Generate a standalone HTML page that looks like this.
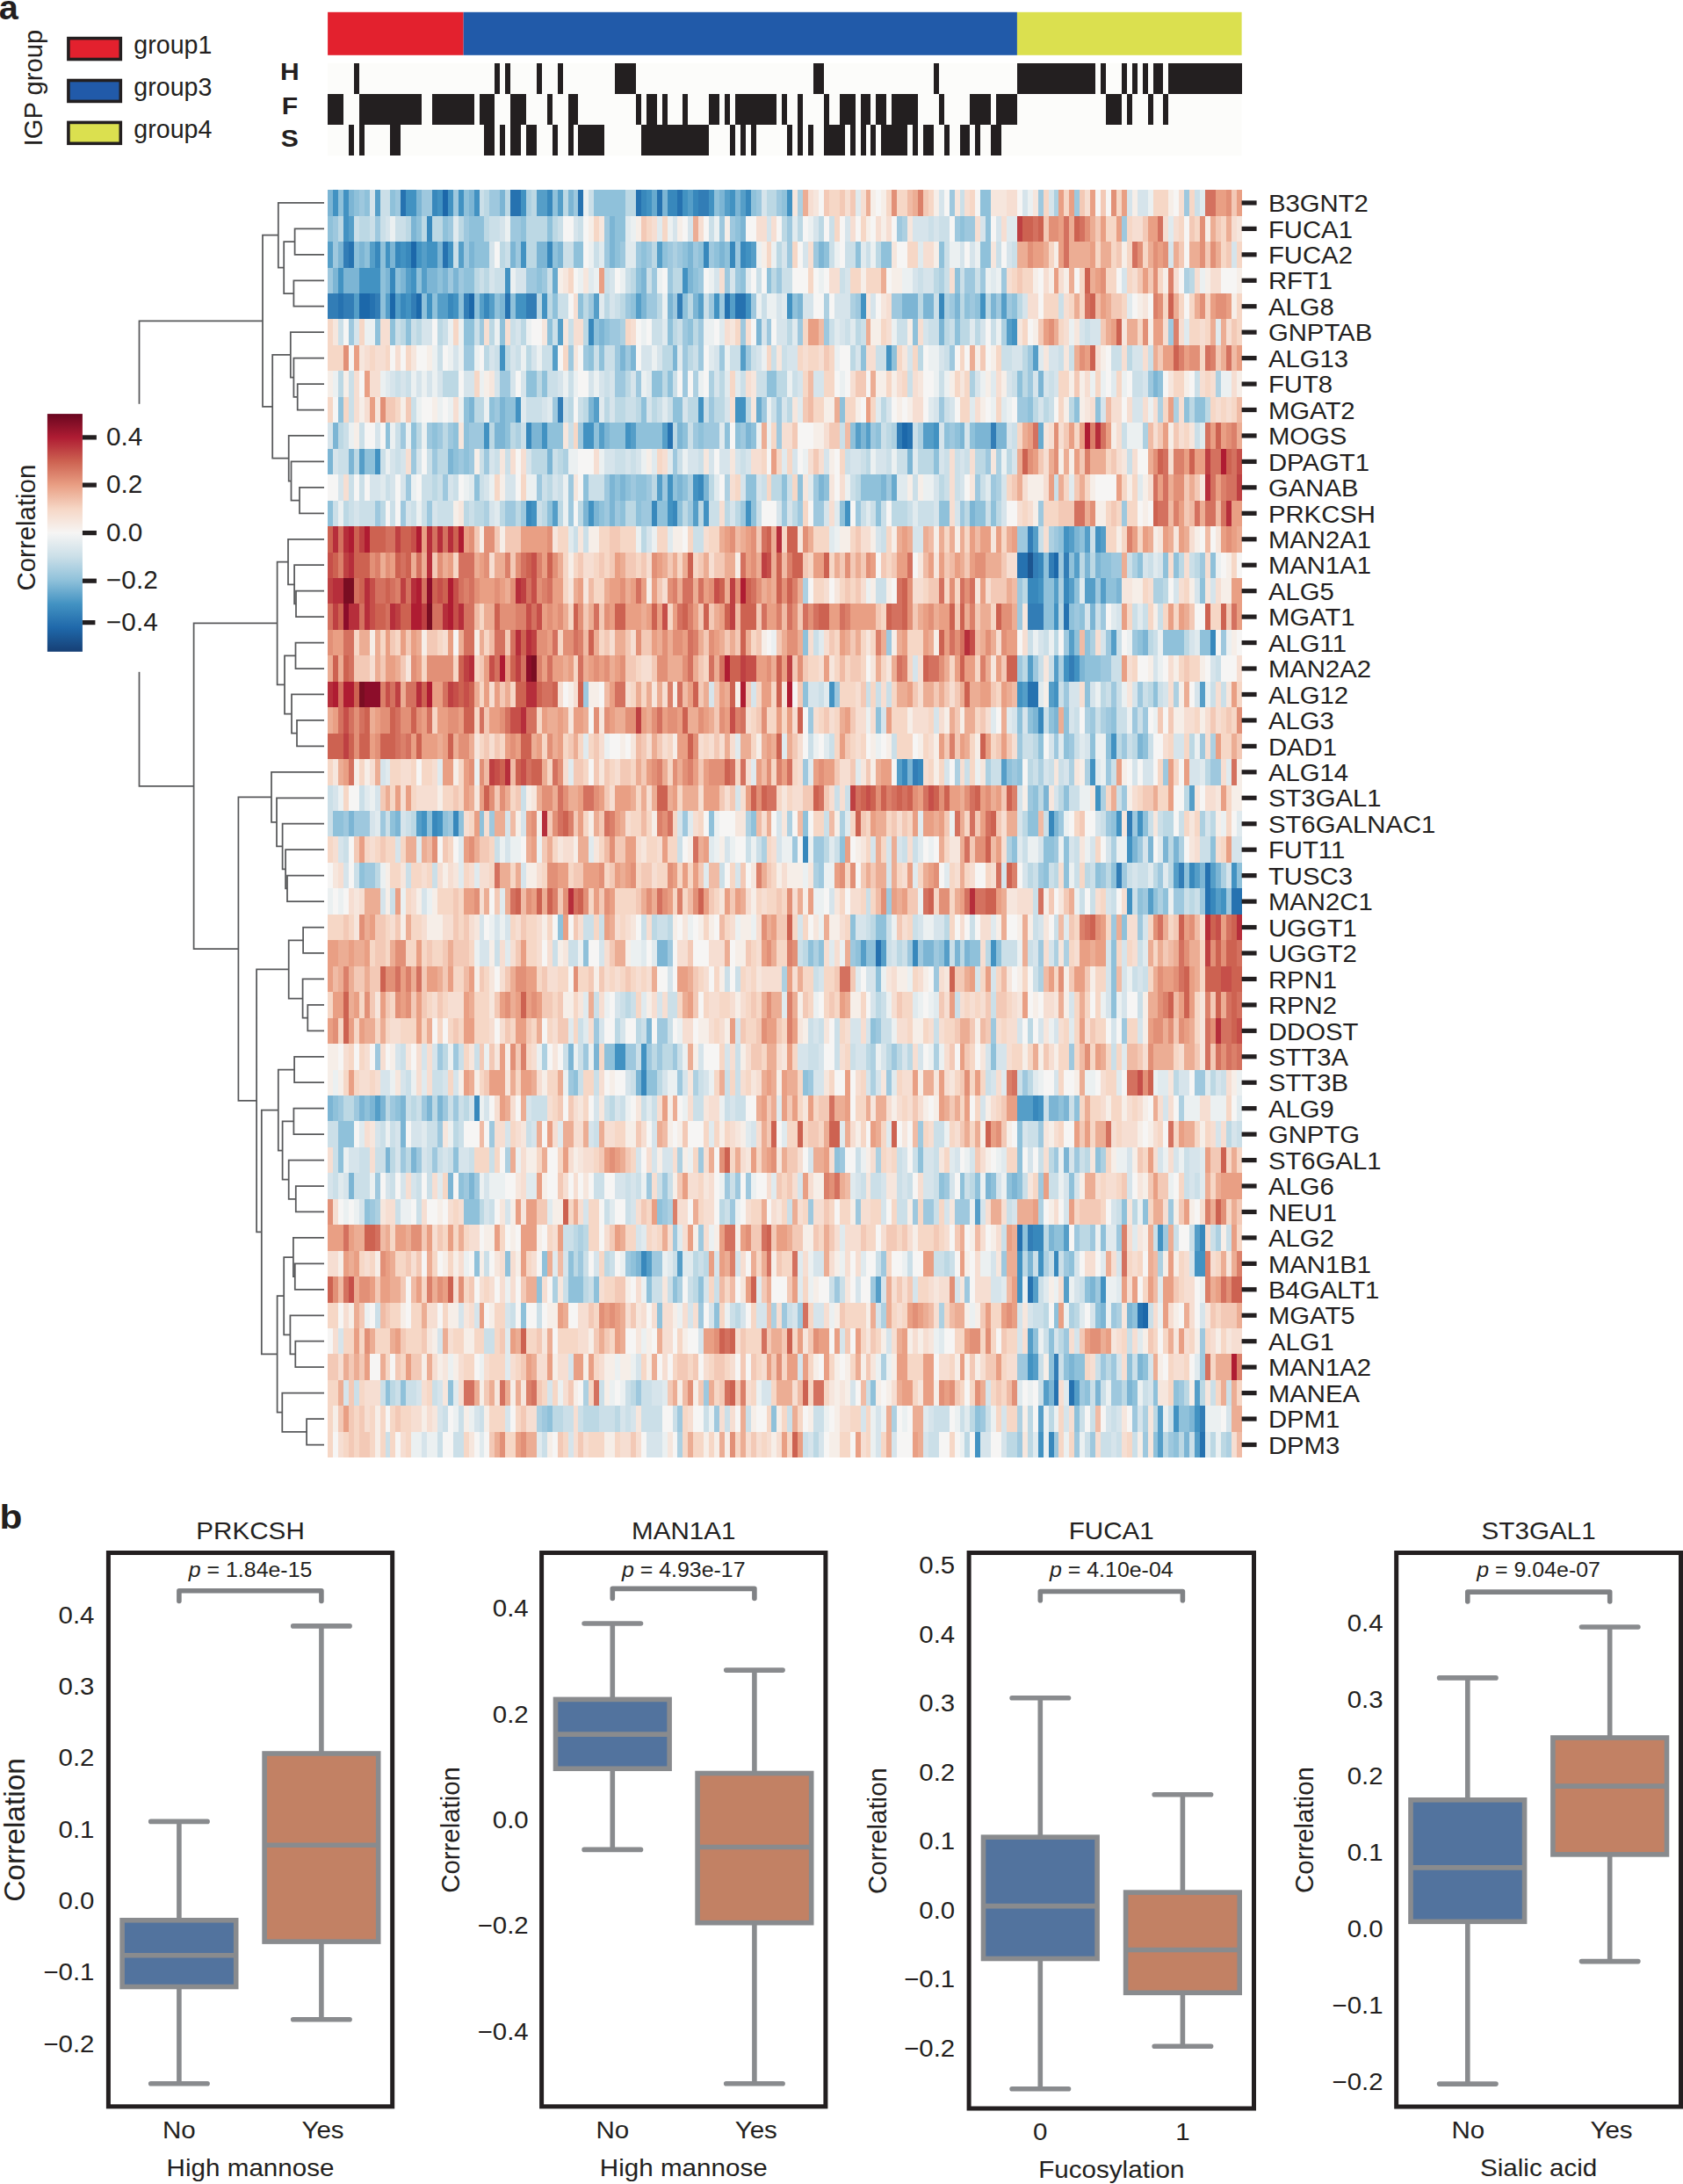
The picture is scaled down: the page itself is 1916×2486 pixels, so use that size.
<!DOCTYPE html>
<html><head><meta charset="utf-8"><title>Figure</title>
<style>html,body{margin:0;padding:0;background:#fff}svg{display:block}</style>
</head><body>
<svg width="1916" height="2486" viewBox="0 0 1916 2486" font-family="'Liberation Sans', sans-serif" fill="#231f20">
<rect width="1916" height="2486" fill="#fff"/>
<defs><filter id="hb" x="-1%" y="-1%" width="102%" height="102%"><feGaussianBlur stdDeviation="0.55"/></filter></defs>
<g filter="url(#hb)"><g transform="translate(373.1 216.2) scale(5.94571 29.45)" shape-rendering="crispEdges">
<path fill="#1a5490" d="M134 14h1v1h-1z"/>
<path fill="#1f68aa" d="M22 0h1v1h-1zM16 2h1v1h-1zM6 4h2v1h-2zM12 4h1v1h-1zM17 4h1v1h-1zM27 4h1v1h-1zM110 9h1v1h-1zM139 14h1v1h-1zM156 43h1v1h-1z"/>
<path fill="#2872b0" d="M14 0h1v1h-1zM35 0h2v1h-2zM48 0h1v1h-1zM59 0h1v1h-1zM63 0h1v1h-1zM67 0h1v1h-1zM4 2h1v1h-1zM22 2h1v1h-1zM2 4h1v1h-1zM8 4h1v1h-1zM34 4h1v1h-1zM76 4h1v1h-1zM78 4h2v1h-2zM65 9h1v1h-1zM111 9h1v1h-1zM132 14h2v1h-2zM141 16h1v1h-1zM134 19h2v1h-2zM168 26h1v1h-1zM168 27h1v1h-1zM173 27h2v1h-2zM105 29h1v1h-1zM132 40h1v1h-1zM134 42h1v1h-1zM155 43h1v1h-1zM139 46h1v1h-1zM142 46h1v1h-1zM167 48h1v1h-1z"/>
<path fill="#307db6" d="M71 0h2v1h-2zM3 2h1v1h-1zM0 4h2v1h-2zM3 4h2v1h-2zM9 4h1v1h-1zM16 4h1v1h-1zM26 4h1v1h-1zM38 4h2v1h-2zM67 4h1v1h-1zM44 8h1v1h-1zM109 9h1v1h-1zM127 9h1v1h-1zM134 13h1v1h-1zM135 14h1v1h-1zM138 14h1v1h-1zM141 14h1v1h-1zM134 16h3v1h-3zM142 18h1v1h-1zM112 22h1v1h-1zM153 24h1v1h-1zM151 26h1v1h-1zM163 26h1v1h-1zM134 40h1v1h-1zM139 45h1v1h-1zM167 47h1v1h-1z"/>
<path fill="#3988bc" d="M20 0h1v1h-1zM42 0h1v1h-1zM60 0h1v1h-1zM65 0h2v1h-2zM70 0h1v1h-1zM80 0h1v1h-1zM19 1h1v1h-1zM9 2h1v1h-1zM13 2h1v1h-1zM15 2h1v1h-1zM42 2h1v1h-1zM72 2h1v1h-1zM77 2h1v1h-1zM79 2h1v1h-1zM12 3h1v1h-1zM14 4h1v1h-1zM23 4h1v1h-1zM30 4h1v1h-1zM117 4h1v1h-1zM50 5h1v1h-1zM38 9h1v1h-1zM71 11h1v1h-1zM38 12h1v1h-1zM62 12h1v1h-1zM66 12h1v1h-1zM136 14h1v1h-1zM134 15h2v1h-2zM141 15h1v1h-1zM169 17h1v1h-1zM136 20h1v1h-1zM110 22h1v1h-1zM113 22h1v1h-1zM20 24h1v1h-1zM24 24h1v1h-1zM138 24h1v1h-1zM91 25h1v1h-1zM165 26h1v1h-1zM169 27h1v1h-1zM112 29h1v1h-1zM60 34h1v1h-1zM28 35h1v1h-1zM135 35h1v1h-1zM135 40h2v1h-2zM167 40h1v1h-1zM60 41h1v1h-1zM139 41h1v1h-1zM138 48h1v1h-1z"/>
<path fill="#4292c2" d="M1 0h1v1h-1zM3 0h1v1h-1zM15 0h2v1h-2zM21 0h1v1h-1zM23 0h1v1h-1zM25 0h1v1h-1zM28 0h1v1h-1zM37 0h1v1h-1zM61 0h1v1h-1zM68 0h1v1h-1zM73 0h1v1h-1zM77 0h1v1h-1zM88 0h1v1h-1zM3 1h1v1h-1zM11 2h1v1h-1zM14 2h1v1h-1zM17 2h1v1h-1zM19 2h2v1h-2zM23 2h1v1h-1zM37 2h1v1h-1zM80 2h1v1h-1zM2 3h1v1h-1zM6 3h4v1h-4zM16 3h1v1h-1zM34 3h1v1h-1zM68 3h1v1h-1zM15 4h1v1h-1zM19 4h1v1h-1zM24 4h1v1h-1zM36 4h2v1h-2zM41 4h1v1h-1zM74 4h1v1h-1zM80 4h1v1h-1zM88 4h1v1h-1zM102 4h1v1h-1zM125 4h1v1h-1zM131 5h1v1h-1zM33 6h1v1h-1zM107 6h1v1h-1zM36 8h1v1h-1zM71 8h1v1h-1zM78 8h2v1h-2zM30 9h1v1h-1zM41 9h1v1h-1zM49 9h2v1h-2zM57 9h1v1h-1zM116 9h1v1h-1zM9 10h1v1h-1zM65 11h1v1h-1zM70 11h1v1h-1zM39 12h1v1h-1zM50 12h1v1h-1zM65 12h1v1h-1zM72 12h1v1h-1zM80 12h1v1h-1zM99 12h1v1h-1zM141 13h1v1h-1zM147 13h1v1h-1zM136 15h1v1h-1zM139 16h1v1h-1zM141 18h1v1h-1zM143 18h1v1h-1zM96 19h1v1h-1zM132 19h1v1h-1zM139 19h1v1h-1zM150 21h1v1h-1zM146 22h1v1h-1zM147 23h1v1h-1zM18 24h1v1h-1zM21 24h1v1h-1zM151 24h1v1h-1zM155 24h1v1h-1zM153 25h1v1h-1zM173 26h1v1h-1zM153 27h1v1h-1zM171 27h1v1h-1zM127 29h1v1h-1zM55 33h2v1h-2zM60 33h1v1h-1zM136 35h1v1h-1zM159 40h1v1h-1zM132 41h1v1h-1zM136 41h1v1h-1zM166 41h2v1h-2zM132 42h1v1h-1zM148 42h1v1h-1zM134 45h1v1h-1zM162 47h1v1h-1zM166 47h1v1h-1zM124 48h1v1h-1zM136 48h1v1h-1z"/>
<path fill="#559ec8" d="M9 0h1v1h-1zM40 0h2v1h-2zM44 0h1v1h-1zM69 0h1v1h-1zM76 0h1v1h-1zM79 0h1v1h-1zM4 1h1v1h-1zM0 2h1v1h-1zM8 2h1v1h-1zM18 2h1v1h-1zM25 2h1v1h-1zM63 2h1v1h-1zM81 2h1v1h-1zM15 3h1v1h-1zM18 3h1v1h-1zM5 4h1v1h-1zM11 4h1v1h-1zM13 4h1v1h-1zM21 4h2v1h-2zM29 4h1v1h-1zM31 4h1v1h-1zM51 4h1v1h-1zM59 4h1v1h-1zM71 4h1v1h-1zM77 4h1v1h-1zM129 4h1v1h-1zM44 5h1v1h-1zM130 5h1v1h-1zM43 6h1v1h-1zM79 6h1v1h-1zM135 6h1v1h-1zM51 8h1v1h-1zM52 9h1v1h-1zM58 9h1v1h-1zM64 9h1v1h-1zM101 9h1v1h-1zM103 9h1v1h-1zM114 9h2v1h-2zM6 10h1v1h-1zM63 11h1v1h-1zM43 12h1v1h-1zM70 12h1v1h-1zM135 13h1v1h-1zM142 13h1v1h-1zM145 13h1v1h-1zM148 13h1v1h-1zM143 14h1v1h-1zM139 15h1v1h-1zM142 15h1v1h-1zM145 15h2v1h-2zM148 15h1v1h-1zM142 17h1v1h-1zM150 17h1v1h-1zM134 18h1v1h-1zM139 18h1v1h-1zM133 19h1v1h-1zM138 19h1v1h-1zM167 19h1v1h-1zM109 22h1v1h-1zM129 22h1v1h-1zM165 23h1v1h-1zM17 24h1v1h-1zM162 26h1v1h-1zM166 26h1v1h-1zM169 26h1v1h-1zM157 27h1v1h-1zM170 27h1v1h-1zM102 29h1v1h-1zM106 29h1v1h-1zM118 29h1v1h-1zM9 35h1v1h-1zM132 35h3v1h-3zM124 39h1v1h-1zM141 40h1v1h-1zM166 40h1v1h-1zM61 41h1v1h-1zM67 41h1v1h-1zM105 42h1v1h-1zM135 42h1v1h-1zM141 42h1v1h-1zM134 44h1v1h-1zM135 45h1v1h-1zM137 46h1v1h-1zM143 46h1v1h-1zM166 46h1v1h-1zM136 47h1v1h-1zM159 47h1v1h-1zM159 48h1v1h-1zM166 48h1v1h-1z"/>
<path fill="#68aace" d="M62 0h1v1h-1zM43 3h1v1h-1zM82 8h1v1h-1zM136 9h1v1h-1zM108 11h1v1h-1z"/>
<path fill="#7cb5d4" d="M0 0h1v1h-1zM4 0h1v1h-1zM17 0h1v1h-1zM27 0h1v1h-1zM33 0h1v1h-1zM46 0h1v1h-1zM64 0h1v1h-1zM75 0h1v1h-1zM78 0h1v1h-1zM16 1h1v1h-1zM54 1h1v1h-1zM79 1h1v1h-1zM2 2h1v1h-1zM6 2h1v1h-1zM12 2h1v1h-1zM21 2h1v1h-1zM27 2h1v1h-1zM35 2h1v1h-1zM40 2h2v1h-2zM44 2h1v1h-1zM54 2h1v1h-1zM69 2h1v1h-1zM75 2h1v1h-1zM94 2h1v1h-1zM1 3h1v1h-1zM3 3h3v1h-3zM11 3h1v1h-1zM14 3h1v1h-1zM19 3h2v1h-2zM22 3h1v1h-1zM24 3h1v1h-1zM60 3h1v1h-1zM69 3h1v1h-1zM33 4h1v1h-1zM60 4h1v1h-1zM65 4h1v1h-1zM70 4h1v1h-1zM90 4h1v1h-1zM110 4h3v1h-3zM114 4h2v1h-2zM120 4h1v1h-1zM127 4h1v1h-1zM52 5h1v1h-1zM82 5h1v1h-1zM117 5h1v1h-1zM56 6h1v1h-1zM58 6h1v1h-1zM66 6h1v1h-1zM136 7h1v1h-1zM158 7h1v1h-1zM27 8h1v1h-1zM33 8h1v1h-1zM50 8h1v1h-1zM1 9h1v1h-1zM32 9h2v1h-2zM39 9h2v1h-2zM53 9h1v1h-1zM67 9h1v1h-1zM80 9h1v1h-1zM102 9h1v1h-1zM121 9h1v1h-1zM124 9h3v1h-3zM128 9h2v1h-2zM0 10h1v1h-1zM4 10h1v1h-1zM23 10h1v1h-1zM42 10h1v1h-1zM111 10h1v1h-1zM54 11h1v1h-1zM56 11h1v1h-1zM67 11h1v1h-1zM72 11h1v1h-1zM94 11h1v1h-1zM106 11h1v1h-1zM49 12h1v1h-1zM51 12h1v1h-1zM54 12h1v1h-1zM123 12h1v1h-1zM143 13h1v1h-1zM145 14h1v1h-1zM147 14h1v1h-1zM151 15h1v1h-1zM146 16h1v1h-1zM156 17h1v1h-1zM144 18h1v1h-1zM135 20h1v1h-1zM139 20h1v1h-1zM155 21h1v1h-1zM111 22h1v1h-1zM137 23h1v1h-1zM4 24h1v1h-1zM13 24h1v1h-1zM139 24h1v1h-1zM154 25h1v1h-1zM157 25h1v1h-1zM160 25h1v1h-1zM162 25h1v1h-1zM167 26h1v1h-1zM170 26h1v1h-1zM63 29h2v1h-2zM114 29h2v1h-2zM120 29h1v1h-1zM122 29h1v1h-1zM61 32h1v1h-1zM46 33h1v1h-1zM51 33h1v1h-1zM59 34h1v1h-1zM0 35h1v1h-1zM6 35h1v1h-1zM8 35h1v1h-1zM10 35h1v1h-1zM14 35h1v1h-1zM19 35h1v1h-1zM21 35h1v1h-1zM138 35h2v1h-2zM141 35h1v1h-1zM14 36h1v1h-1zM11 37h1v1h-1zM16 37h1v1h-1zM141 37h1v1h-1zM4 38h1v1h-1zM23 38h1v1h-1zM27 38h1v1h-1zM126 38h1v1h-1zM131 38h1v1h-1zM138 40h1v1h-1zM59 41h1v1h-1zM134 41h1v1h-1zM146 42h1v1h-1zM148 43h1v1h-1zM153 43h1v1h-1zM142 45h1v1h-1zM155 45h1v1h-1zM138 46h1v1h-1zM147 46h1v1h-1zM153 46h1v1h-1zM165 47h1v1h-1zM164 48h1v1h-1z"/>
<path fill="#8fc1da" d="M2 0h1v1h-1zM5 0h1v1h-1zM7 0h1v1h-1zM12 0h1v1h-1zM26 0h1v1h-1zM43 0h1v1h-1zM51 0h6v1h-6zM74 0h1v1h-1zM81 0h1v1h-1zM87 0h1v1h-1zM125 0h2v1h-2zM0 1h1v1h-1zM17 1h1v1h-1zM22 1h1v1h-1zM27 1h3v1h-3zM37 1h1v1h-1zM42 1h1v1h-1zM55 1h2v1h-2zM78 1h1v1h-1zM121 1h1v1h-1zM126 1h1v1h-1zM5 2h1v1h-1zM7 2h1v1h-1zM10 2h1v1h-1zM28 2h3v1h-3zM43 2h1v1h-1zM47 2h2v1h-2zM55 2h1v1h-1zM60 2h1v1h-1zM64 2h1v1h-1zM68 2h1v1h-1zM71 2h1v1h-1zM74 2h1v1h-1zM76 2h1v1h-1zM95 2h1v1h-1zM101 2h1v1h-1zM106 2h2v1h-2zM117 2h1v1h-1zM125 2h2v1h-2zM10 3h1v1h-1zM13 3h1v1h-1zM17 3h1v1h-1zM21 3h1v1h-1zM26 3h2v1h-2zM40 3h1v1h-1zM59 3h1v1h-1zM70 3h1v1h-1zM79 3h1v1h-1zM84 3h1v1h-1zM120 3h1v1h-1zM10 4h1v1h-1zM18 4h1v1h-1zM20 4h1v1h-1zM25 4h1v1h-1zM28 4h1v1h-1zM32 4h1v1h-1zM35 4h1v1h-1zM43 4h1v1h-1zM48 4h1v1h-1zM58 4h1v1h-1zM68 4h1v1h-1zM89 4h1v1h-1zM122 4h1v1h-1zM124 4h1v1h-1zM131 4h1v1h-1zM9 5h1v1h-1zM12 5h1v1h-1zM15 5h1v1h-1zM26 5h2v1h-2zM33 5h1v1h-1zM42 5h1v1h-1zM51 5h1v1h-1zM53 5h1v1h-1zM65 5h1v1h-1zM69 5h1v1h-1zM112 5h1v1h-1zM120 5h1v1h-1zM50 6h1v1h-1zM52 6h1v1h-1zM102 6h1v1h-1zM108 6h1v1h-1zM38 7h2v1h-2zM41 7h1v1h-1zM62 7h2v1h-2zM65 7h1v1h-1zM84 7h2v1h-2zM132 7h1v1h-1zM159 7h1v1h-1zM2 8h1v1h-1zM26 8h1v1h-1zM31 8h1v1h-1zM34 8h2v1h-2zM60 8h1v1h-1zM66 8h2v1h-2zM98 8h1v1h-1zM134 8h1v1h-1zM143 8h1v1h-1zM147 8h1v1h-1zM164 8h1v1h-1zM166 8h2v1h-2zM11 9h1v1h-1zM16 9h1v1h-1zM20 9h1v1h-1zM24 9h1v1h-1zM26 9h1v1h-1zM34 9h1v1h-1zM42 9h3v1h-3zM51 9h1v1h-1zM54 9h3v1h-3zM59 9h5v1h-5zM68 9h1v1h-1zM71 9h1v1h-1zM76 9h1v1h-1zM78 9h1v1h-1zM81 9h1v1h-1zM100 9h1v1h-1zM105 9h1v1h-1zM118 9h1v1h-1zM120 9h1v1h-1zM123 9h1v1h-1zM7 10h2v1h-2zM24 10h1v1h-1zM26 10h1v1h-1zM116 10h1v1h-1zM28 11h1v1h-1zM49 11h1v1h-1zM55 11h1v1h-1zM57 11h1v1h-1zM59 11h2v1h-2zM66 11h1v1h-1zM68 11h1v1h-1zM80 11h2v1h-2zM87 11h1v1h-1zM90 11h1v1h-1zM95 11h1v1h-1zM102 11h4v1h-4zM0 12h1v1h-1zM42 12h1v1h-1zM52 12h1v1h-1zM56 12h1v1h-1zM59 12h1v1h-1zM63 12h2v1h-2zM67 12h1v1h-1zM81 12h1v1h-1zM98 12h1v1h-1zM105 12h1v1h-1zM117 12h2v1h-2zM124 12h2v1h-2zM127 12h1v1h-1zM140 13h1v1h-1zM144 13h1v1h-1zM137 14h1v1h-1zM142 14h1v1h-1zM148 14h2v1h-2zM155 14h1v1h-1zM160 14h1v1h-1zM162 14h1v1h-1zM169 14h1v1h-1zM137 15h2v1h-2zM143 15h1v1h-1zM149 15h2v1h-2zM167 15h1v1h-1zM137 16h2v1h-2zM142 16h1v1h-1zM144 16h1v1h-1zM91 17h1v1h-1zM143 17h1v1h-1zM145 17h1v1h-1zM155 17h1v1h-1zM160 17h4v1h-4zM167 17h2v1h-2zM145 18h3v1h-3zM91 19h1v1h-1zM145 19h1v1h-1zM158 19h1v1h-1zM105 20h1v1h-1zM132 20h1v1h-1zM134 20h1v1h-1zM138 20h1v1h-1zM141 20h1v1h-1zM150 20h1v1h-1zM136 21h1v1h-1zM141 21h1v1h-1zM146 21h1v1h-1zM149 21h1v1h-1zM156 21h1v1h-1zM130 22h1v1h-1zM132 22h1v1h-1zM135 23h1v1h-1zM141 23h1v1h-1zM1 24h2v1h-2zM12 24h1v1h-1zM19 24h1v1h-1zM22 24h1v1h-1zM25 24h1v1h-1zM29 24h1v1h-1zM73 24h1v1h-1zM81 24h1v1h-1zM91 24h1v1h-1zM134 24h2v1h-2zM150 24h1v1h-1zM156 24h1v1h-1zM98 25h1v1h-1zM131 25h1v1h-1zM137 25h2v1h-2zM141 25h1v1h-1zM169 25h1v1h-1zM6 26h1v1h-1zM137 26h1v1h-1zM141 26h1v1h-1zM147 26h1v1h-1zM150 26h1v1h-1zM164 26h1v1h-1zM174 26h1v1h-1zM155 27h1v1h-1zM158 27h1v1h-1zM160 27h1v1h-1zM44 28h1v1h-1zM100 28h1v1h-1zM105 28h2v1h-2zM152 28h1v1h-1zM49 29h1v1h-1zM92 29h1v1h-1zM94 29h1v1h-1zM101 29h1v1h-1zM103 29h2v1h-2zM117 29h1v1h-1zM123 29h2v1h-2zM128 29h1v1h-1zM150 29h1v1h-1zM105 30h1v1h-1zM150 30h1v1h-1zM150 31h1v1h-1zM104 32h1v1h-1zM53 33h2v1h-2zM127 33h1v1h-1zM47 34h1v1h-1zM61 34h2v1h-2zM91 34h1v1h-1zM1 35h1v1h-1zM7 35h1v1h-1zM13 35h1v1h-1zM140 35h1v1h-1zM143 35h1v1h-1zM2 36h3v1h-3zM132 36h1v1h-1zM2 37h1v1h-1zM24 37h1v1h-1zM97 37h1v1h-1zM113 37h1v1h-1zM132 37h1v1h-1zM147 37h1v1h-1zM25 38h1v1h-1zM117 38h1v1h-1zM121 38h1v1h-1zM124 38h1v1h-1zM127 38h1v1h-1zM130 38h1v1h-1zM132 38h1v1h-1zM142 38h1v1h-1zM7 39h1v1h-1zM26 39h3v1h-3zM63 39h1v1h-1zM152 39h1v1h-1zM156 39h1v1h-1zM133 40h1v1h-1zM139 40h2v1h-2zM148 40h1v1h-1zM28 41h1v1h-1zM34 41h1v1h-1zM41 41h1v1h-1zM46 41h1v1h-1zM58 41h1v1h-1zM142 41h1v1h-1zM40 42h1v1h-1zM46 42h3v1h-3zM51 42h1v1h-1zM61 42h1v1h-1zM66 42h1v1h-1zM71 42h1v1h-1zM145 42h1v1h-1zM37 43h1v1h-1zM63 43h1v1h-1zM74 43h1v1h-1zM139 43h1v1h-1zM147 43h1v1h-1zM154 43h1v1h-1zM135 44h1v1h-1zM138 44h1v1h-1zM138 45h1v1h-1zM141 45h1v1h-1zM143 45h2v1h-2zM153 45h1v1h-1zM156 45h1v1h-1zM11 46h1v1h-1zM14 46h1v1h-1zM23 46h1v1h-1zM104 46h1v1h-1zM145 46h1v1h-1zM154 46h1v1h-1zM158 46h1v1h-1zM162 46h1v1h-1zM42 47h1v1h-1zM85 47h1v1h-1zM124 47h1v1h-1zM143 47h1v1h-1zM163 47h2v1h-2zM158 48h1v1h-1zM162 48h1v1h-1z"/>
<path fill="#9ec8de" d="M6 0h1v1h-1zM13 0h1v1h-1zM18 0h2v1h-2zM24 0h1v1h-1zM31 0h2v1h-2zM47 0h1v1h-1zM82 0h1v1h-1zM86 0h1v1h-1zM119 0h1v1h-1zM136 0h1v1h-1zM143 0h1v1h-1zM164 0h1v1h-1zM1 1h1v1h-1zM9 1h1v1h-1zM23 1h1v1h-1zM26 1h1v1h-1zM35 1h2v1h-2zM53 1h1v1h-1zM75 1h1v1h-1zM77 1h1v1h-1zM88 1h1v1h-1zM109 1h1v1h-1zM120 1h1v1h-1zM122 1h2v1h-2zM152 1h1v1h-1zM1 2h1v1h-1zM26 2h1v1h-1zM36 2h1v1h-1zM53 2h1v1h-1zM56 2h1v1h-1zM59 2h1v1h-1zM61 2h1v1h-1zM65 2h1v1h-1zM67 2h1v1h-1zM70 2h1v1h-1zM73 2h1v1h-1zM78 2h1v1h-1zM88 2h1v1h-1zM93 2h1v1h-1zM0 3h1v1h-1zM23 3h1v1h-1zM25 3h1v1h-1zM38 3h2v1h-2zM41 3h1v1h-1zM62 3h1v1h-1zM65 3h1v1h-1zM71 3h1v1h-1zM76 3h1v1h-1zM78 3h1v1h-1zM86 3h1v1h-1zM122 3h2v1h-2zM125 3h1v1h-1zM129 3h1v1h-1zM50 4h1v1h-1zM57 4h1v1h-1zM61 4h2v1h-2zM66 4h1v1h-1zM73 4h1v1h-1zM75 4h1v1h-1zM81 4h1v1h-1zM101 4h1v1h-1zM108 4h2v1h-2zM119 4h1v1h-1zM123 4h1v1h-1zM128 4h1v1h-1zM130 4h1v1h-1zM4 5h1v1h-1zM29 5h1v1h-1zM54 5h2v1h-2zM68 5h1v1h-1zM71 5h1v1h-1zM79 5h1v1h-1zM84 5h1v1h-1zM90 5h1v1h-1zM95 5h1v1h-1zM161 5h1v1h-1zM26 6h2v1h-2zM46 6h1v1h-1zM49 6h1v1h-1zM55 6h1v1h-1zM57 6h1v1h-1zM68 6h1v1h-1zM71 6h1v1h-1zM75 6h1v1h-1zM80 6h1v1h-1zM119 6h1v1h-1zM134 6h1v1h-1zM33 7h2v1h-2zM55 7h2v1h-2zM59 7h1v1h-1zM68 7h1v1h-1zM134 7h1v1h-1zM157 7h1v1h-1zM32 8h1v1h-1zM43 8h1v1h-1zM73 8h1v1h-1zM83 8h1v1h-1zM86 8h1v1h-1zM117 8h1v1h-1zM132 8h2v1h-2zM14 9h1v1h-1zM19 9h1v1h-1zM21 9h1v1h-1zM23 9h1v1h-1zM27 9h3v1h-3zM48 9h1v1h-1zM70 9h1v1h-1zM72 9h3v1h-3zM79 9h1v1h-1zM86 9h1v1h-1zM104 9h1v1h-1zM119 9h1v1h-1zM16 10h1v1h-1zM20 10h1v1h-1zM25 10h1v1h-1zM27 10h1v1h-1zM30 10h1v1h-1zM66 10h1v1h-1zM126 10h1v1h-1zM15 11h1v1h-1zM22 11h1v1h-1zM40 11h1v1h-1zM46 11h1v1h-1zM53 11h1v1h-1zM58 11h1v1h-1zM61 11h1v1h-1zM64 11h1v1h-1zM93 11h1v1h-1zM107 11h1v1h-1zM124 11h1v1h-1zM127 11h1v1h-1zM9 12h1v1h-1zM14 12h1v1h-1zM19 12h1v1h-1zM34 12h2v1h-2zM37 12h1v1h-1zM46 12h1v1h-1zM53 12h1v1h-1zM55 12h1v1h-1zM60 12h2v1h-2zM69 12h1v1h-1zM79 12h1v1h-1zM87 12h1v1h-1zM90 12h1v1h-1zM93 12h2v1h-2zM101 12h1v1h-1zM121 12h1v1h-1zM136 12h1v1h-1zM152 12h1v1h-1zM132 13h2v1h-2zM139 13h1v1h-1zM140 14h1v1h-1zM150 14h2v1h-2zM167 14h1v1h-1zM132 15h1v1h-1zM147 15h1v1h-1zM132 16h1v1h-1zM143 16h1v1h-1zM148 16h1v1h-1zM107 17h1v1h-1zM141 17h1v1h-1zM149 17h1v1h-1zM154 17h1v1h-1zM171 17h1v1h-1zM132 18h1v1h-1zM135 18h1v1h-1zM148 18h2v1h-2zM49 19h1v1h-1zM97 19h1v1h-1zM141 19h1v1h-1zM150 19h1v1h-1zM155 19h1v1h-1zM92 20h1v1h-1zM146 20h1v1h-1zM149 20h1v1h-1zM154 20h1v1h-1zM156 20h1v1h-1zM132 21h1v1h-1zM139 21h1v1h-1zM142 21h1v1h-1zM152 21h1v1h-1zM167 21h1v1h-1zM91 22h1v1h-1zM131 22h1v1h-1zM149 22h1v1h-1zM160 22h1v1h-1zM169 22h2v1h-2zM134 23h1v1h-1zM152 23h1v1h-1zM3 24h1v1h-1zM5 24h3v1h-3zM10 24h1v1h-1zM23 24h1v1h-1zM31 24h1v1h-1zM68 24h1v1h-1zM140 24h1v1h-1zM149 24h1v1h-1zM154 24h1v1h-1zM89 25h1v1h-1zM93 25h2v1h-2zM139 25h1v1h-1zM155 25h1v1h-1zM7 26h2v1h-2zM94 26h1v1h-1zM136 26h1v1h-1zM148 26h1v1h-1zM152 26h1v1h-1zM159 26h1v1h-1zM107 27h1v1h-1zM156 27h1v1h-1zM162 27h2v1h-2zM167 27h1v1h-1zM172 27h1v1h-1zM150 28h1v1h-1zM155 28h1v1h-1zM65 29h1v1h-1zM100 29h1v1h-1zM111 29h1v1h-1zM113 29h1v1h-1zM116 29h1v1h-1zM136 29h1v1h-1zM116 30h1v1h-1zM51 32h1v1h-1zM63 32h2v1h-2zM105 32h1v1h-1zM127 32h1v1h-1zM152 32h1v1h-1zM9 33h1v1h-1zM21 33h1v1h-1zM24 33h1v1h-1zM49 33h1v1h-1zM57 33h2v1h-2zM61 33h1v1h-1zM63 33h1v1h-1zM66 33h1v1h-1zM108 33h1v1h-1zM142 33h1v1h-1zM46 34h1v1h-1zM67 34h1v1h-1zM92 34h1v1h-1zM107 34h1v1h-1zM133 34h1v1h-1zM166 34h2v1h-2zM2 35h1v1h-1zM5 35h1v1h-1zM12 35h1v1h-1zM18 35h1v1h-1zM22 35h1v1h-1zM24 35h1v1h-1zM21 36h1v1h-1zM31 36h1v1h-1zM113 36h1v1h-1zM136 36h1v1h-1zM14 37h1v1h-1zM17 37h1v1h-1zM20 37h1v1h-1zM71 37h1v1h-1zM98 37h1v1h-1zM139 37h1v1h-1zM143 37h1v1h-1zM9 38h1v1h-1zM26 38h1v1h-1zM28 38h1v1h-1zM61 38h1v1h-1zM64 38h1v1h-1zM76 38h1v1h-1zM78 38h1v1h-1zM80 38h1v1h-1zM118 38h1v1h-1zM136 38h1v1h-1zM8 39h1v1h-1zM64 39h1v1h-1zM77 39h1v1h-1zM92 39h1v1h-1zM101 39h1v1h-1zM112 39h1v1h-1zM114 39h2v1h-2zM120 39h3v1h-3zM161 39h1v1h-1zM66 40h1v1h-1zM71 40h1v1h-1zM143 40h1v1h-1zM146 40h1v1h-1zM151 40h1v1h-1zM160 40h1v1h-1zM48 41h1v1h-1zM57 41h1v1h-1zM62 41h2v1h-2zM106 41h1v1h-1zM129 41h1v1h-1zM141 41h1v1h-1zM97 42h1v1h-1zM104 42h1v1h-1zM122 42h1v1h-1zM147 42h1v1h-1zM71 43h1v1h-1zM87 43h1v1h-1zM90 43h1v1h-1zM150 43h1v1h-1zM141 44h1v1h-1zM167 44h1v1h-1zM132 45h2v1h-2zM148 45h1v1h-1zM150 45h1v1h-1zM167 45h1v1h-1zM59 46h1v1h-1zM72 46h1v1h-1zM144 46h1v1h-1zM150 46h2v1h-2zM163 46h1v1h-1zM41 47h1v1h-1zM67 47h1v1h-1zM74 47h1v1h-1zM125 47h1v1h-1zM154 47h1v1h-1zM132 48h1v1h-1zM139 48h1v1h-1zM143 48h1v1h-1zM146 48h1v1h-1zM156 48h1v1h-1zM161 48h1v1h-1z"/>
<path fill="#add0e1" d="M38 0h1v1h-1zM90 0h1v1h-1zM139 0h1v1h-1zM110 1h1v1h-1zM66 2h1v1h-1zM117 3h1v1h-1zM164 3h1v1h-1zM95 4h1v1h-1zM100 4h1v1h-1zM118 4h1v1h-1zM56 5h1v1h-1zM129 5h1v1h-1zM70 7h1v1h-1zM73 7h1v1h-1zM123 7h1v1h-1zM170 7h1v1h-1zM159 8h1v1h-1zM162 8h1v1h-1zM36 9h1v1h-1zM108 9h1v1h-1zM113 9h1v1h-1zM156 9h1v1h-1zM45 10h1v1h-1zM128 10h1v1h-1zM69 11h1v1h-1zM76 11h1v1h-1zM128 11h1v1h-1zM30 12h1v1h-1zM138 13h1v1h-1zM154 14h1v1h-1zM91 15h1v1h-1zM140 15h1v1h-1zM158 15h2v1h-2zM146 17h1v1h-1zM140 18h1v1h-1zM162 19h1v1h-1zM145 20h1v1h-1zM148 20h1v1h-1zM169 21h1v1h-1zM120 22h1v1h-1zM126 22h1v1h-1zM136 22h1v1h-1zM142 22h1v1h-1zM145 22h1v1h-1zM148 23h1v1h-1zM80 24h1v1h-1zM88 24h1v1h-1zM98 24h1v1h-1zM167 24h1v1h-1zM83 25h1v1h-1zM130 25h1v1h-1zM150 25h1v1h-1zM163 25h1v1h-1zM93 26h1v1h-1zM171 26h1v1h-1zM159 27h1v1h-1zM93 29h1v1h-1zM139 29h1v1h-1zM141 29h1v1h-1zM87 30h1v1h-1zM136 30h1v1h-1zM41 33h1v1h-1zM104 33h1v1h-1zM116 33h1v1h-1zM70 34h1v1h-1zM104 34h1v1h-1zM163 35h1v1h-1zM34 37h1v1h-1zM67 37h1v1h-1zM105 37h1v1h-1zM148 37h1v1h-1zM9 39h1v1h-1zM65 39h1v1h-1zM136 39h1v1h-1zM48 40h1v1h-1zM170 40h1v1h-1zM137 41h1v1h-1zM159 41h1v1h-1zM43 42h1v1h-1zM67 42h1v1h-1zM85 43h1v1h-1zM106 43h1v1h-1zM117 43h1v1h-1zM142 43h1v1h-1zM151 43h1v1h-1zM106 45h1v1h-1zM49 46h1v1h-1zM40 47h1v1h-1zM108 47h1v1h-1zM132 47h1v1h-1zM156 47h1v1h-1zM67 48h1v1h-1zM172 48h1v1h-1z"/>
<path fill="#bcd8e4" d="M30 0h1v1h-1zM34 0h1v1h-1zM39 0h1v1h-1zM45 0h1v1h-1zM57 0h2v1h-2zM84 0h2v1h-2zM2 1h1v1h-1zM6 1h2v1h-2zM15 1h1v1h-1zM18 1h1v1h-1zM20 1h2v1h-2zM25 1h1v1h-1zM30 1h1v1h-1zM38 1h4v1h-4zM43 1h1v1h-1zM87 1h1v1h-1zM90 1h1v1h-1zM94 1h1v1h-1zM33 2h1v1h-1zM38 2h2v1h-2zM62 2h1v1h-1zM86 2h1v1h-1zM105 2h1v1h-1zM28 3h1v1h-1zM30 3h1v1h-1zM58 3h1v1h-1zM66 3h2v1h-2zM85 3h1v1h-1zM116 3h1v1h-1zM165 3h1v1h-1zM40 4h1v1h-1zM42 4h1v1h-1zM49 4h1v1h-1zM53 4h1v1h-1zM56 4h1v1h-1zM63 4h1v1h-1zM69 4h1v1h-1zM113 4h1v1h-1zM121 4h1v1h-1zM126 4h1v1h-1zM132 4h1v1h-1zM14 5h1v1h-1zM17 5h1v1h-1zM21 5h1v1h-1zM31 5h1v1h-1zM37 5h1v1h-1zM49 5h1v1h-1zM66 5h1v1h-1zM70 5h1v1h-1zM88 5h1v1h-1zM101 5h1v1h-1zM118 5h1v1h-1zM121 5h2v1h-2zM124 5h1v1h-1zM30 6h1v1h-1zM34 6h1v1h-1zM38 6h1v1h-1zM64 6h2v1h-2zM69 6h1v1h-1zM100 6h1v1h-1zM113 6h1v1h-1zM133 6h1v1h-1zM153 6h1v1h-1zM2 7h1v1h-1zM22 7h3v1h-3zM40 7h1v1h-1zM57 7h1v1h-1zM64 7h1v1h-1zM75 7h1v1h-1zM86 7h2v1h-2zM133 7h1v1h-1zM28 8h2v1h-2zM46 8h1v1h-1zM49 8h1v1h-1zM53 8h1v1h-1zM55 8h2v1h-2zM59 8h1v1h-1zM62 8h1v1h-1zM69 8h2v1h-2zM74 8h2v1h-2zM80 8h1v1h-1zM88 8h1v1h-1zM106 8h1v1h-1zM135 8h1v1h-1zM137 8h1v1h-1zM142 8h1v1h-1zM165 8h1v1h-1zM168 8h1v1h-1zM2 9h1v1h-1zM17 9h1v1h-1zM22 9h1v1h-1zM31 9h1v1h-1zM35 9h1v1h-1zM66 9h1v1h-1zM107 9h1v1h-1zM5 10h1v1h-1zM21 10h2v1h-2zM39 10h3v1h-3zM44 10h1v1h-1zM103 10h1v1h-1zM113 10h3v1h-3zM124 10h2v1h-2zM130 10h1v1h-1zM20 11h1v1h-1zM42 11h1v1h-1zM62 11h1v1h-1zM73 11h1v1h-1zM85 11h2v1h-2zM101 11h1v1h-1zM117 11h1v1h-1zM3 12h1v1h-1zM10 12h1v1h-1zM26 12h1v1h-1zM28 12h2v1h-2zM33 12h1v1h-1zM36 12h1v1h-1zM41 12h1v1h-1zM44 12h1v1h-1zM48 12h1v1h-1zM57 12h2v1h-2zM68 12h1v1h-1zM71 12h1v1h-1zM76 12h1v1h-1zM78 12h1v1h-1zM89 12h1v1h-1zM108 12h3v1h-3zM122 12h1v1h-1zM128 12h1v1h-1zM60 13h1v1h-1zM144 14h1v1h-1zM146 14h1v1h-1zM163 14h1v1h-1zM166 14h1v1h-1zM133 15h1v1h-1zM160 15h1v1h-1zM140 16h1v1h-1zM139 17h1v1h-1zM157 17h1v1h-1zM164 17h1v1h-1zM133 18h1v1h-1zM148 19h1v1h-1zM157 19h1v1h-1zM135 21h1v1h-1zM151 21h1v1h-1zM154 21h1v1h-1zM165 21h1v1h-1zM134 22h1v1h-1zM168 22h1v1h-1zM136 23h1v1h-1zM140 23h1v1h-1zM164 23h1v1h-1zM16 24h1v1h-1zM133 24h1v1h-1zM160 24h2v1h-2zM169 24h1v1h-1zM95 25h1v1h-1zM161 25h1v1h-1zM9 26h1v1h-1zM134 26h1v1h-1zM139 26h1v1h-1zM145 26h1v1h-1zM149 26h1v1h-1zM158 26h1v1h-1zM161 26h1v1h-1zM165 27h1v1h-1zM62 28h1v1h-1zM65 28h1v1h-1zM104 28h1v1h-1zM118 28h1v1h-1zM91 29h1v1h-1zM109 29h1v1h-1zM121 29h1v1h-1zM126 29h1v1h-1zM57 31h1v1h-1zM105 31h1v1h-1zM55 32h1v1h-1zM59 32h1v1h-1zM134 32h1v1h-1zM22 33h1v1h-1zM62 33h1v1h-1zM64 33h2v1h-2zM103 33h1v1h-1zM107 33h1v1h-1zM109 33h1v1h-1zM111 33h1v1h-1zM63 34h1v1h-1zM134 34h1v1h-1zM162 34h1v1h-1zM169 34h1v1h-1zM3 35h2v1h-2zM11 35h1v1h-1zM16 35h1v1h-1zM20 35h1v1h-1zM26 35h1v1h-1zM54 35h1v1h-1zM24 36h1v1h-1zM172 36h1v1h-1zM12 37h1v1h-1zM15 37h1v1h-1zM138 37h1v1h-1zM145 37h1v1h-1zM123 38h1v1h-1zM29 39h1v1h-1zM75 39h1v1h-1zM154 39h1v1h-1zM47 40h1v1h-1zM49 40h1v1h-1zM137 40h1v1h-1zM144 40h2v1h-2zM47 41h1v1h-1zM53 41h1v1h-1zM70 41h1v1h-1zM72 41h1v1h-1zM118 41h1v1h-1zM133 41h1v1h-1zM49 42h1v1h-1zM70 42h1v1h-1zM78 43h1v1h-1zM137 43h1v1h-1zM143 43h1v1h-1zM140 44h1v1h-1zM149 45h1v1h-1zM12 46h1v1h-1zM58 46h1v1h-1zM152 46h1v1h-1zM164 46h1v1h-1zM167 46h1v1h-1zM43 47h2v1h-2zM49 47h3v1h-3zM55 47h1v1h-1zM123 47h1v1h-1zM134 47h1v1h-1zM138 47h1v1h-1zM158 47h1v1h-1zM93 48h1v1h-1zM122 48h1v1h-1zM130 48h2v1h-2zM134 48h1v1h-1zM160 48h1v1h-1zM163 48h1v1h-1zM169 48h1v1h-1zM171 48h1v1h-1z"/>
<path fill="#cbdfe8" d="M10 0h2v1h-2zM29 0h1v1h-1zM50 0h1v1h-1zM121 0h1v1h-1zM166 0h1v1h-1zM5 1h1v1h-1zM8 1h1v1h-1zM10 1h1v1h-1zM13 1h2v1h-2zM31 1h2v1h-2zM44 1h1v1h-1zM48 1h1v1h-1zM73 1h1v1h-1zM96 1h1v1h-1zM115 1h1v1h-1zM117 1h2v1h-2zM24 2h1v1h-1zM34 2h1v1h-1zM45 2h2v1h-2zM51 2h1v1h-1zM96 2h1v1h-1zM99 2h2v1h-2zM103 2h1v1h-1zM118 2h1v1h-1zM128 2h1v1h-1zM131 2h1v1h-1zM29 3h1v1h-1zM32 3h2v1h-2zM42 3h1v1h-1zM53 3h1v1h-1zM57 3h1v1h-1zM61 3h1v1h-1zM82 3h1v1h-1zM87 3h2v1h-2zM98 3h1v1h-1zM113 3h1v1h-1zM118 3h1v1h-1zM121 3h1v1h-1zM124 3h1v1h-1zM44 4h2v1h-2zM55 4h1v1h-1zM72 4h1v1h-1zM83 4h1v1h-1zM116 4h1v1h-1zM140 4h1v1h-1zM2 5h1v1h-1zM13 5h1v1h-1zM16 5h1v1h-1zM22 5h1v1h-1zM28 5h1v1h-1zM35 5h1v1h-1zM43 5h1v1h-1zM46 5h1v1h-1zM62 5h2v1h-2zM67 5h1v1h-1zM96 5h1v1h-1zM99 5h1v1h-1zM102 5h1v1h-1zM109 5h2v1h-2zM115 5h2v1h-2zM119 5h1v1h-1zM127 5h1v1h-1zM145 5h1v1h-1zM21 6h1v1h-1zM32 6h1v1h-1zM36 6h1v1h-1zM41 6h2v1h-2zM51 6h1v1h-1zM53 6h2v1h-2zM70 6h1v1h-1zM77 6h2v1h-2zM81 6h1v1h-1zM85 6h1v1h-1zM87 6h1v1h-1zM105 6h2v1h-2zM118 6h1v1h-1zM129 6h2v1h-2zM140 6h1v1h-1zM142 6h1v1h-1zM150 6h2v1h-2zM157 6h1v1h-1zM4 7h1v1h-1zM13 7h1v1h-1zM15 7h1v1h-1zM42 7h2v1h-2zM46 7h1v1h-1zM53 7h1v1h-1zM66 7h1v1h-1zM79 7h1v1h-1zM82 7h2v1h-2zM89 7h1v1h-1zM111 7h1v1h-1zM117 7h1v1h-1zM131 7h1v1h-1zM138 7h1v1h-1zM154 7h2v1h-2zM166 7h1v1h-1zM4 8h1v1h-1zM16 8h1v1h-1zM38 8h3v1h-3zM45 8h1v1h-1zM48 8h1v1h-1zM57 8h2v1h-2zM63 8h1v1h-1zM65 8h1v1h-1zM72 8h1v1h-1zM85 8h1v1h-1zM118 8h1v1h-1zM138 8h1v1h-1zM3 9h1v1h-1zM6 9h1v1h-1zM13 9h1v1h-1zM37 9h1v1h-1zM46 9h1v1h-1zM69 9h1v1h-1zM98 9h1v1h-1zM106 9h1v1h-1zM112 9h1v1h-1zM131 9h1v1h-1zM152 9h1v1h-1zM166 9h1v1h-1zM2 10h2v1h-2zM10 10h1v1h-1zM13 10h1v1h-1zM19 10h1v1h-1zM29 10h1v1h-1zM32 10h1v1h-1zM34 10h1v1h-1zM43 10h1v1h-1zM55 10h2v1h-2zM58 10h1v1h-1zM67 10h1v1h-1zM71 10h1v1h-1zM79 10h1v1h-1zM99 10h1v1h-1zM102 10h1v1h-1zM107 10h1v1h-1zM109 10h2v1h-2zM118 10h1v1h-1zM120 10h1v1h-1zM122 10h1v1h-1zM153 10h1v1h-1zM4 11h1v1h-1zM6 11h1v1h-1zM11 11h1v1h-1zM18 11h2v1h-2zM21 11h1v1h-1zM24 11h1v1h-1zM29 11h1v1h-1zM41 11h1v1h-1zM44 11h1v1h-1zM50 11h3v1h-3zM83 11h1v1h-1zM88 11h1v1h-1zM100 11h1v1h-1zM112 11h1v1h-1zM118 11h1v1h-1zM120 11h1v1h-1zM125 11h1v1h-1zM139 11h1v1h-1zM1 12h1v1h-1zM4 12h1v1h-1zM6 12h3v1h-3zM12 12h1v1h-1zM16 12h1v1h-1zM18 12h1v1h-1zM21 12h3v1h-3zM27 12h1v1h-1zM40 12h1v1h-1zM73 12h2v1h-2zM82 12h1v1h-1zM102 12h1v1h-1zM104 12h1v1h-1zM106 12h1v1h-1zM111 12h1v1h-1zM113 12h3v1h-3zM126 12h1v1h-1zM47 13h1v1h-1zM49 13h1v1h-1zM70 13h2v1h-2zM106 13h1v1h-1zM136 13h1v1h-1zM146 13h1v1h-1zM153 14h1v1h-1zM157 14h1v1h-1zM165 14h1v1h-1zM105 15h2v1h-2zM147 16h1v1h-1zM154 16h1v1h-1zM156 16h1v1h-1zM159 16h1v1h-1zM93 17h1v1h-1zM134 17h1v1h-1zM137 17h1v1h-1zM151 17h1v1h-1zM158 17h1v1h-1zM136 18h1v1h-1zM138 18h1v1h-1zM150 18h2v1h-2zM170 18h1v1h-1zM94 19h1v1h-1zM103 19h1v1h-1zM105 19h1v1h-1zM107 19h1v1h-1zM140 19h1v1h-1zM149 19h1v1h-1zM151 19h1v1h-1zM156 19h1v1h-1zM159 19h1v1h-1zM169 19h1v1h-1zM171 19h1v1h-1zM137 20h1v1h-1zM143 20h1v1h-1zM147 20h1v1h-1zM151 20h2v1h-2zM155 20h1v1h-1zM92 21h1v1h-1zM96 21h1v1h-1zM108 21h1v1h-1zM133 21h2v1h-2zM143 21h1v1h-1zM153 21h1v1h-1zM157 21h1v1h-1zM122 22h1v1h-1zM127 22h2v1h-2zM135 22h1v1h-1zM138 22h1v1h-1zM140 22h1v1h-1zM150 22h1v1h-1zM0 23h1v1h-1zM6 23h1v1h-1zM37 23h1v1h-1zM97 23h1v1h-1zM99 23h1v1h-1zM142 23h2v1h-2zM151 23h1v1h-1zM0 24h1v1h-1zM11 24h1v1h-1zM15 24h1v1h-1zM95 24h1v1h-1zM137 24h1v1h-1zM148 24h1v1h-1zM157 24h1v1h-1zM159 24h1v1h-1zM163 24h1v1h-1zM3 25h1v1h-1zM32 25h1v1h-1zM67 25h1v1h-1zM80 25h1v1h-1zM82 25h1v1h-1zM97 25h1v1h-1zM110 25h1v1h-1zM112 25h1v1h-1zM133 25h1v1h-1zM143 25h1v1h-1zM167 25h2v1h-2zM5 26h1v1h-1zM15 26h1v1h-1zM20 26h1v1h-1zM75 26h1v1h-1zM135 26h1v1h-1zM138 26h1v1h-1zM143 26h1v1h-1zM146 26h1v1h-1zM153 26h1v1h-1zM155 26h2v1h-2zM12 27h1v1h-1zM103 27h1v1h-1zM135 27h1v1h-1zM144 27h1v1h-1zM146 27h1v1h-1zM150 27h1v1h-1zM154 27h1v1h-1zM164 27h1v1h-1zM166 27h1v1h-1zM49 28h2v1h-2zM52 28h1v1h-1zM60 28h1v1h-1zM63 28h2v1h-2zM103 28h1v1h-1zM107 28h1v1h-1zM112 28h1v1h-1zM123 28h1v1h-1zM135 28h1v1h-1zM139 28h1v1h-1zM32 29h1v1h-1zM43 29h1v1h-1zM46 29h2v1h-2zM90 29h1v1h-1zM107 29h1v1h-1zM110 29h1v1h-1zM119 29h1v1h-1zM129 29h3v1h-3zM134 29h1v1h-1zM155 29h1v1h-1zM76 30h1v1h-1zM78 30h1v1h-1zM93 30h1v1h-1zM135 30h1v1h-1zM154 30h1v1h-1zM156 30h1v1h-1zM51 31h1v1h-1zM56 31h1v1h-1zM58 31h1v1h-1zM65 31h2v1h-2zM106 31h1v1h-1zM120 31h1v1h-1zM127 31h1v1h-1zM155 31h1v1h-1zM48 32h1v1h-1zM60 32h1v1h-1zM65 32h1v1h-1zM92 32h1v1h-1zM94 32h1v1h-1zM97 32h1v1h-1zM106 32h2v1h-2zM116 32h1v1h-1zM14 33h1v1h-1zM25 33h1v1h-1zM28 33h1v1h-1zM45 33h1v1h-1zM48 33h1v1h-1zM59 33h1v1h-1zM67 33h1v1h-1zM78 33h1v1h-1zM92 33h2v1h-2zM97 33h1v1h-1zM100 33h1v1h-1zM150 33h1v1h-1zM15 34h1v1h-1zM20 34h2v1h-2zM48 34h1v1h-1zM51 34h1v1h-1zM58 34h1v1h-1zM71 34h1v1h-1zM76 34h1v1h-1zM78 34h1v1h-1zM126 34h1v1h-1zM132 34h1v1h-1zM171 34h1v1h-1zM15 35h1v1h-1zM17 35h1v1h-1zM23 35h1v1h-1zM25 35h1v1h-1zM39 35h3v1h-3zM53 35h1v1h-1zM56 35h1v1h-1zM60 35h1v1h-1zM62 35h1v1h-1zM70 35h2v1h-2zM76 35h1v1h-1zM78 35h2v1h-2zM137 35h1v1h-1zM142 35h1v1h-1zM0 36h2v1h-2zM10 36h1v1h-1zM12 36h1v1h-1zM19 36h2v1h-2zM25 36h1v1h-1zM38 36h1v1h-1zM51 36h1v1h-1zM116 36h2v1h-2zM134 36h2v1h-2zM174 36h1v1h-1zM1 37h1v1h-1zM6 37h2v1h-2zM9 37h2v1h-2zM19 37h1v1h-1zM21 37h1v1h-1zM23 37h1v1h-1zM27 37h1v1h-1zM31 37h1v1h-1zM101 37h1v1h-1zM109 37h1v1h-1zM112 37h1v1h-1zM116 37h1v1h-1zM136 37h1v1h-1zM144 37h1v1h-1zM164 37h1v1h-1zM1 38h1v1h-1zM5 38h3v1h-3zM12 38h1v1h-1zM17 38h1v1h-1zM19 38h1v1h-1zM51 38h2v1h-2zM57 38h1v1h-1zM59 38h1v1h-1zM63 38h1v1h-1zM65 38h1v1h-1zM77 38h1v1h-1zM102 38h1v1h-1zM104 38h2v1h-2zM109 38h1v1h-1zM111 38h1v1h-1zM116 38h1v1h-1zM122 38h1v1h-1zM133 38h1v1h-1zM138 38h2v1h-2zM164 38h1v1h-1zM166 38h1v1h-1zM13 39h1v1h-1zM17 39h1v1h-1zM31 39h1v1h-1zM53 39h1v1h-1zM57 39h1v1h-1zM76 39h1v1h-1zM88 39h1v1h-1zM109 39h2v1h-2zM116 39h1v1h-1zM130 39h1v1h-1zM151 39h1v1h-1zM45 40h2v1h-2zM129 40h1v1h-1zM158 40h1v1h-1zM162 40h1v1h-1zM165 40h1v1h-1zM169 40h1v1h-1zM172 40h1v1h-1zM30 41h1v1h-1zM49 41h1v1h-1zM54 41h1v1h-1zM66 41h1v1h-1zM71 41h1v1h-1zM105 41h1v1h-1zM111 41h1v1h-1zM116 41h2v1h-2zM119 41h1v1h-1zM135 41h1v1h-1zM138 41h1v1h-1zM140 41h1v1h-1zM45 42h1v1h-1zM50 42h1v1h-1zM62 42h2v1h-2zM65 42h1v1h-1zM69 42h1v1h-1zM74 42h1v1h-1zM96 42h1v1h-1zM98 42h1v1h-1zM136 42h1v1h-1zM144 42h1v1h-1zM9 43h1v1h-1zM35 43h1v1h-1zM40 43h1v1h-1zM77 43h1v1h-1zM88 43h1v1h-1zM135 43h2v1h-2zM157 43h1v1h-1zM30 44h2v1h-2zM137 44h1v1h-1zM153 44h1v1h-1zM136 45h1v1h-1zM140 45h1v1h-1zM147 45h1v1h-1zM154 45h1v1h-1zM5 46h1v1h-1zM10 46h1v1h-1zM13 46h1v1h-1zM15 46h2v1h-2zM20 46h1v1h-1zM52 46h1v1h-1zM57 46h1v1h-1zM60 46h2v1h-2zM103 46h1v1h-1zM136 46h1v1h-1zM146 46h1v1h-1zM148 46h1v1h-1zM156 46h1v1h-1zM169 46h1v1h-1zM172 46h1v1h-1zM22 47h1v1h-1zM25 47h1v1h-1zM29 47h1v1h-1zM45 47h2v1h-2zM48 47h1v1h-1zM52 47h3v1h-3zM57 47h1v1h-1zM60 47h4v1h-4zM66 47h1v1h-1zM72 47h1v1h-1zM76 47h1v1h-1zM80 47h1v1h-1zM88 47h1v1h-1zM93 47h2v1h-2zM116 47h3v1h-3zM121 47h1v1h-1zM126 47h1v1h-1zM144 47h1v1h-1zM146 47h1v1h-1zM150 47h1v1h-1zM161 47h1v1h-1zM11 48h1v1h-1zM21 48h1v1h-1zM24 48h2v1h-2zM41 48h1v1h-1zM91 48h1v1h-1zM115 48h2v1h-2zM145 48h1v1h-1zM148 48h2v1h-2zM151 48h1v1h-1zM154 48h1v1h-1zM165 48h1v1h-1z"/>
<path fill="#d6e4eb" d="M8 0h1v1h-1zM83 0h1v1h-1zM117 0h1v1h-1zM133 0h1v1h-1zM138 0h1v1h-1zM153 0h1v1h-1zM155 0h2v1h-2zM11 1h1v1h-1zM33 1h1v1h-1zM47 1h1v1h-1zM66 1h1v1h-1zM69 1h1v1h-1zM84 1h1v1h-1zM93 1h1v1h-1zM99 1h1v1h-1zM112 1h3v1h-3zM116 1h1v1h-1zM125 1h1v1h-1zM128 1h1v1h-1zM31 2h1v1h-1zM87 2h1v1h-1zM91 2h1v1h-1zM121 2h1v1h-1zM123 2h1v1h-1zM130 2h1v1h-1zM161 2h1v1h-1zM173 2h1v1h-1zM31 3h1v1h-1zM36 3h2v1h-2zM54 3h1v1h-1zM74 3h1v1h-1zM77 3h1v1h-1zM99 3h1v1h-1zM112 3h1v1h-1zM114 3h2v1h-2zM152 3h1v1h-1zM54 4h1v1h-1zM86 4h1v1h-1zM91 4h2v1h-2zM97 4h3v1h-3zM104 4h1v1h-1zM133 4h1v1h-1zM5 5h1v1h-1zM18 5h2v1h-2zM36 5h1v1h-1zM83 5h1v1h-1zM86 5h2v1h-2zM98 5h1v1h-1zM114 5h1v1h-1zM125 5h1v1h-1zM144 5h1v1h-1zM146 5h2v1h-2zM24 6h1v1h-1zM31 6h1v1h-1zM35 6h1v1h-1zM39 6h1v1h-1zM60 6h2v1h-2zM63 6h1v1h-1zM74 6h1v1h-1zM82 6h1v1h-1zM88 6h2v1h-2zM101 6h1v1h-1zM111 6h1v1h-1zM117 6h1v1h-1zM131 6h2v1h-2zM138 6h2v1h-2zM154 6h2v1h-2zM12 7h1v1h-1zM14 7h1v1h-1zM17 7h1v1h-1zM19 7h1v1h-1zM21 7h1v1h-1zM26 7h2v1h-2zM32 7h1v1h-1zM35 7h1v1h-1zM37 7h1v1h-1zM44 7h1v1h-1zM50 7h1v1h-1zM52 7h1v1h-1zM54 7h1v1h-1zM58 7h1v1h-1zM74 7h1v1h-1zM90 7h1v1h-1zM93 7h2v1h-2zM124 7h1v1h-1zM130 7h1v1h-1zM135 7h1v1h-1zM137 7h1v1h-1zM139 7h1v1h-1zM156 7h1v1h-1zM41 8h1v1h-1zM54 8h1v1h-1zM61 8h1v1h-1zM68 8h1v1h-1zM76 8h1v1h-1zM87 8h1v1h-1zM107 8h1v1h-1zM116 8h1v1h-1zM119 8h1v1h-1zM136 8h1v1h-1zM148 8h1v1h-1zM154 8h2v1h-2zM0 9h1v1h-1zM9 9h1v1h-1zM117 9h1v1h-1zM122 9h1v1h-1zM130 9h1v1h-1zM1 10h1v1h-1zM12 10h1v1h-1zM14 10h1v1h-1zM17 10h1v1h-1zM31 10h1v1h-1zM38 10h1v1h-1zM53 10h2v1h-2zM57 10h1v1h-1zM59 10h1v1h-1zM69 10h2v1h-2zM73 10h1v1h-1zM75 10h2v1h-2zM78 10h1v1h-1zM80 10h1v1h-1zM89 10h1v1h-1zM95 10h1v1h-1zM100 10h2v1h-2zM105 10h2v1h-2zM117 10h1v1h-1zM121 10h1v1h-1zM131 10h1v1h-1zM2 11h1v1h-1zM8 11h2v1h-2zM12 11h1v1h-1zM14 11h1v1h-1zM23 11h1v1h-1zM30 11h1v1h-1zM34 11h2v1h-2zM43 11h1v1h-1zM79 11h1v1h-1zM82 11h1v1h-1zM116 11h1v1h-1zM121 11h1v1h-1zM129 11h1v1h-1zM5 12h1v1h-1zM15 12h1v1h-1zM20 12h1v1h-1zM31 12h1v1h-1zM77 12h1v1h-1zM86 12h1v1h-1zM88 12h1v1h-1zM95 12h1v1h-1zM116 12h1v1h-1zM120 12h1v1h-1zM129 12h1v1h-1zM61 13h1v1h-1zM105 13h1v1h-1zM112 13h2v1h-2zM156 14h1v1h-1zM159 14h1v1h-1zM162 15h1v1h-1zM166 15h1v1h-1zM169 15h1v1h-1zM145 16h1v1h-1zM151 16h1v1h-1zM136 17h1v1h-1zM148 17h1v1h-1zM165 17h1v1h-1zM112 18h1v1h-1zM158 18h1v1h-1zM169 18h1v1h-1zM73 19h1v1h-1zM81 19h1v1h-1zM92 19h2v1h-2zM142 19h2v1h-2zM146 19h1v1h-1zM154 19h1v1h-1zM160 19h1v1h-1zM166 19h1v1h-1zM106 20h1v1h-1zM116 20h1v1h-1zM131 20h1v1h-1zM133 20h1v1h-1zM142 20h1v1h-1zM138 21h1v1h-1zM145 21h1v1h-1zM162 21h2v1h-2zM10 22h1v1h-1zM118 22h1v1h-1zM137 22h1v1h-1zM141 22h1v1h-1zM154 22h1v1h-1zM156 22h2v1h-2zM165 22h2v1h-2zM1 23h1v1h-1zM9 23h1v1h-1zM78 23h1v1h-1zM132 23h1v1h-1zM139 23h1v1h-1zM8 24h1v1h-1zM14 24h1v1h-1zM34 24h1v1h-1zM37 24h1v1h-1zM67 24h1v1h-1zM86 24h1v1h-1zM132 24h1v1h-1zM147 24h1v1h-1zM168 24h1v1h-1zM2 25h1v1h-1zM13 25h1v1h-1zM34 25h1v1h-1zM76 25h1v1h-1zM86 25h1v1h-1zM104 25h1v1h-1zM107 25h1v1h-1zM109 25h1v1h-1zM136 25h1v1h-1zM142 25h1v1h-1zM146 25h1v1h-1zM149 25h1v1h-1zM156 25h1v1h-1zM173 25h2v1h-2zM3 26h1v1h-1zM37 26h1v1h-1zM78 26h1v1h-1zM107 26h1v1h-1zM129 26h1v1h-1zM133 26h1v1h-1zM154 26h1v1h-1zM172 26h1v1h-1zM10 27h1v1h-1zM18 27h1v1h-1zM96 27h1v1h-1zM149 27h1v1h-1zM29 28h1v1h-1zM32 28h1v1h-1zM34 28h1v1h-1zM90 28h1v1h-1zM101 28h2v1h-2zM113 28h1v1h-1zM116 28h2v1h-2zM136 28h1v1h-1zM156 28h1v1h-1zM29 29h2v1h-2zM52 29h1v1h-1zM108 29h1v1h-1zM135 29h1v1h-1zM138 29h1v1h-1zM149 29h1v1h-1zM152 29h1v1h-1zM65 30h1v1h-1zM94 30h1v1h-1zM103 30h2v1h-2zM124 30h1v1h-1zM127 30h1v1h-1zM149 30h1v1h-1zM152 30h1v1h-1zM155 30h1v1h-1zM55 31h1v1h-1zM63 31h1v1h-1zM104 31h1v1h-1zM142 31h1v1h-1zM149 31h1v1h-1zM152 31h1v1h-1zM52 32h1v1h-1zM56 32h1v1h-1zM78 32h1v1h-1zM93 32h1v1h-1zM100 32h2v1h-2zM103 32h1v1h-1zM132 32h1v1h-1zM136 32h1v1h-1zM139 32h1v1h-1zM150 32h1v1h-1zM155 32h1v1h-1zM13 33h1v1h-1zM18 33h1v1h-1zM20 33h1v1h-1zM71 33h1v1h-1zM76 33h1v1h-1zM90 33h2v1h-2zM94 33h1v1h-1zM101 33h2v1h-2zM106 33h1v1h-1zM110 33h1v1h-1zM113 33h1v1h-1zM126 33h1v1h-1zM128 33h2v1h-2zM10 34h2v1h-2zM14 34h1v1h-1zM22 34h1v1h-1zM24 34h1v1h-1zM57 34h1v1h-1zM64 34h1v1h-1zM68 34h1v1h-1zM72 34h1v1h-1zM93 34h2v1h-2zM103 34h1v1h-1zM105 34h1v1h-1zM127 34h1v1h-1zM139 34h1v1h-1zM163 34h2v1h-2zM170 34h1v1h-1zM27 35h1v1h-1zM30 35h1v1h-1zM38 35h1v1h-1zM51 35h1v1h-1zM55 35h1v1h-1zM77 35h1v1h-1zM125 35h1v1h-1zM160 35h1v1h-1zM9 36h1v1h-1zM13 36h1v1h-1zM16 36h2v1h-2zM34 36h1v1h-1zM39 36h1v1h-1zM50 36h1v1h-1zM62 36h1v1h-1zM81 36h1v1h-1zM133 36h1v1h-1zM170 36h1v1h-1zM173 36h1v1h-1zM4 37h2v1h-2zM13 37h1v1h-1zM18 37h1v1h-1zM22 37h1v1h-1zM25 37h2v1h-2zM59 37h1v1h-1zM62 37h1v1h-1zM64 37h2v1h-2zM92 37h1v1h-1zM110 37h1v1h-1zM114 37h2v1h-2zM120 37h1v1h-1zM123 37h1v1h-1zM134 37h1v1h-1zM142 37h1v1h-1zM153 37h1v1h-1zM159 37h1v1h-1zM162 37h1v1h-1zM165 37h2v1h-2zM0 38h1v1h-1zM3 38h1v1h-1zM11 38h1v1h-1zM14 38h1v1h-1zM16 38h1v1h-1zM30 38h1v1h-1zM55 38h2v1h-2zM58 38h1v1h-1zM90 38h1v1h-1zM101 38h1v1h-1zM106 38h1v1h-1zM110 38h1v1h-1zM114 38h2v1h-2zM119 38h1v1h-1zM128 38h1v1h-1zM141 38h1v1h-1zM143 38h1v1h-1zM153 38h1v1h-1zM165 38h1v1h-1zM6 39h1v1h-1zM30 39h1v1h-1zM34 39h1v1h-1zM49 39h1v1h-1zM58 39h1v1h-1zM106 39h1v1h-1zM118 39h1v1h-1zM125 39h1v1h-1zM131 39h1v1h-1zM141 39h1v1h-1zM150 39h1v1h-1zM59 40h1v1h-1zM45 41h1v1h-1zM51 41h1v1h-1zM74 41h1v1h-1zM78 41h1v1h-1zM93 41h2v1h-2zM127 41h1v1h-1zM143 41h1v1h-1zM151 41h1v1h-1zM165 41h1v1h-1zM72 42h1v1h-1zM101 42h1v1h-1zM106 42h1v1h-1zM112 42h1v1h-1zM120 42h1v1h-1zM127 42h2v1h-2zM143 42h1v1h-1zM25 43h1v1h-1zM28 43h1v1h-1zM34 43h1v1h-1zM69 43h1v1h-1zM73 43h1v1h-1zM79 43h1v1h-1zM82 43h2v1h-2zM89 43h1v1h-1zM93 43h2v1h-2zM105 43h1v1h-1zM132 43h1v1h-1zM134 43h1v1h-1zM146 43h1v1h-1zM167 43h1v1h-1zM2 44h1v1h-1zM21 44h1v1h-1zM71 44h1v1h-1zM98 44h1v1h-1zM107 44h1v1h-1zM132 44h1v1h-1zM139 44h1v1h-1zM143 44h1v1h-1zM46 45h1v1h-1zM59 45h1v1h-1zM90 45h1v1h-1zM151 45h1v1h-1zM157 45h1v1h-1zM3 46h1v1h-1zM17 46h1v1h-1zM21 46h1v1h-1zM42 46h1v1h-1zM62 46h2v1h-2zM83 46h2v1h-2zM100 46h1v1h-1zM126 46h1v1h-1zM157 46h1v1h-1zM21 47h1v1h-1zM28 47h1v1h-1zM34 47h1v1h-1zM56 47h1v1h-1zM58 47h1v1h-1zM102 47h1v1h-1zM105 47h1v1h-1zM115 47h1v1h-1zM129 47h1v1h-1zM141 47h1v1h-1zM149 47h1v1h-1zM151 47h1v1h-1zM155 47h1v1h-1zM172 47h1v1h-1zM18 48h1v1h-1zM46 48h1v1h-1zM61 48h3v1h-3zM92 48h1v1h-1zM94 48h1v1h-1zM105 48h1v1h-1zM108 48h1v1h-1zM114 48h1v1h-1zM125 48h2v1h-2zM129 48h1v1h-1zM150 48h1v1h-1z"/>
<path fill="#e0eaee" d="M101 0h1v1h-1zM167 0h1v1h-1zM24 1h1v1h-1zM57 1h1v1h-1zM63 1h1v1h-1zM89 1h1v1h-1zM130 1h2v1h-2zM161 1h1v1h-1zM52 2h1v1h-1zM57 2h2v1h-2zM102 2h1v1h-1zM113 2h1v1h-1zM50 3h1v1h-1zM80 3h1v1h-1zM127 3h1v1h-1zM52 4h1v1h-1zM87 4h1v1h-1zM153 4h1v1h-1zM64 5h1v1h-1zM75 5h1v1h-1zM89 5h1v1h-1zM97 5h1v1h-1zM100 5h1v1h-1zM123 5h1v1h-1zM164 5h1v1h-1zM170 5h1v1h-1zM67 6h1v1h-1zM73 6h1v1h-1zM136 6h1v1h-1zM11 7h1v1h-1zM61 7h1v1h-1zM76 7h1v1h-1zM78 7h1v1h-1zM127 7h1v1h-1zM150 7h1v1h-1zM37 8h1v1h-1zM42 8h1v1h-1zM52 8h1v1h-1zM64 8h1v1h-1zM90 8h1v1h-1zM105 8h1v1h-1zM115 8h1v1h-1zM123 8h1v1h-1zM129 8h1v1h-1zM75 9h1v1h-1zM167 9h1v1h-1zM62 10h1v1h-1zM65 10h1v1h-1zM87 10h1v1h-1zM112 10h1v1h-1zM10 11h1v1h-1zM27 11h1v1h-1zM74 11h1v1h-1zM92 11h1v1h-1zM109 11h2v1h-2zM126 11h1v1h-1zM142 11h1v1h-1zM155 11h1v1h-1zM32 12h1v1h-1zM97 12h1v1h-1zM103 12h1v1h-1zM112 12h1v1h-1zM46 13h1v1h-1zM65 13h1v1h-1zM96 13h1v1h-1zM158 14h1v1h-1zM144 15h1v1h-1zM150 16h1v1h-1zM155 16h1v1h-1zM94 17h1v1h-1zM166 17h1v1h-1zM95 19h1v1h-1zM136 19h1v1h-1zM127 20h1v1h-1zM130 20h1v1h-1zM49 21h1v1h-1zM78 21h1v1h-1zM87 21h1v1h-1zM95 21h1v1h-1zM140 21h1v1h-1zM144 21h1v1h-1zM11 22h1v1h-1zM21 22h1v1h-1zM46 22h1v1h-1zM81 22h1v1h-1zM92 22h1v1h-1zM101 22h1v1h-1zM147 22h1v1h-1zM167 22h1v1h-1zM172 22h1v1h-1zM7 23h1v1h-1zM9 24h1v1h-1zM69 24h1v1h-1zM99 24h1v1h-1zM113 24h1v1h-1zM174 24h1v1h-1zM17 25h1v1h-1zM25 25h1v1h-1zM50 25h1v1h-1zM73 25h1v1h-1zM96 25h1v1h-1zM113 25h1v1h-1zM132 25h1v1h-1zM159 25h1v1h-1zM25 26h1v1h-1zM28 26h1v1h-1zM72 26h1v1h-1zM112 26h1v1h-1zM118 26h1v1h-1zM157 26h1v1h-1zM160 26h1v1h-1zM33 27h1v1h-1zM127 28h1v1h-1zM141 28h1v1h-1zM34 29h1v1h-1zM60 29h1v1h-1zM62 29h1v1h-1zM96 29h1v1h-1zM156 29h1v1h-1zM101 30h1v1h-1zM49 31h1v1h-1zM60 31h1v1h-1zM87 31h1v1h-1zM112 31h1v1h-1zM116 31h1v1h-1zM46 32h1v1h-1zM49 32h1v1h-1zM142 32h1v1h-1zM152 33h1v1h-1zM18 34h1v1h-1zM108 34h1v1h-1zM129 34h1v1h-1zM135 34h1v1h-1zM151 34h1v1h-1zM159 34h2v1h-2zM168 34h1v1h-1zM61 35h1v1h-1zM86 35h1v1h-1zM174 35h1v1h-1zM6 36h1v1h-1zM18 36h1v1h-1zM44 36h1v1h-1zM73 36h1v1h-1zM80 36h1v1h-1zM87 36h1v1h-1zM98 36h1v1h-1zM107 36h1v1h-1zM119 37h1v1h-1zM129 37h1v1h-1zM167 37h1v1h-1zM2 38h1v1h-1zM21 38h1v1h-1zM38 38h2v1h-2zM85 38h1v1h-1zM100 38h1v1h-1zM167 38h1v1h-1zM42 39h1v1h-1zM54 39h1v1h-1zM60 40h1v1h-1zM67 40h1v1h-1zM98 40h1v1h-1zM149 40h2v1h-2zM154 40h1v1h-1zM43 41h1v1h-1zM65 41h1v1h-1zM68 41h2v1h-2zM90 41h1v1h-1zM102 41h1v1h-1zM148 41h1v1h-1zM82 42h1v1h-1zM90 42h1v1h-1zM129 42h1v1h-1zM137 42h1v1h-1zM151 42h1v1h-1zM159 42h1v1h-1zM144 43h1v1h-1zM34 44h1v1h-1zM117 44h1v1h-1zM155 44h1v1h-1zM34 45h1v1h-1zM166 45h1v1h-1zM24 46h1v1h-1zM64 46h1v1h-1zM132 46h1v1h-1zM141 46h1v1h-1zM114 47h1v1h-1zM122 47h1v1h-1zM29 48h1v1h-1zM40 48h1v1h-1zM135 48h1v1h-1zM168 48h1v1h-1z"/>
<path fill="#ebf0f1" d="M49 0h1v1h-1zM134 0h1v1h-1zM157 0h1v1h-1zM12 1h1v1h-1zM34 1h1v1h-1zM58 1h1v1h-1zM65 1h1v1h-1zM74 1h1v1h-1zM92 1h1v1h-1zM50 2h1v1h-1zM82 2h1v1h-1zM85 2h1v1h-1zM97 2h1v1h-1zM104 2h1v1h-1zM119 2h2v1h-2zM124 2h1v1h-1zM35 3h1v1h-1zM48 3h1v1h-1zM51 3h1v1h-1zM56 3h1v1h-1zM63 3h1v1h-1zM73 3h1v1h-1zM94 3h1v1h-1zM110 3h2v1h-2zM126 3h1v1h-1zM128 3h1v1h-1zM167 3h1v1h-1zM64 4h1v1h-1zM82 4h1v1h-1zM84 4h2v1h-2zM7 5h2v1h-2zM23 5h1v1h-1zM25 5h1v1h-1zM32 5h1v1h-1zM38 5h1v1h-1zM60 5h1v1h-1zM72 5h2v1h-2zM108 5h1v1h-1zM128 5h1v1h-1zM142 5h1v1h-1zM20 6h1v1h-1zM23 6h1v1h-1zM25 6h1v1h-1zM28 6h1v1h-1zM37 6h1v1h-1zM40 6h1v1h-1zM62 6h1v1h-1zM76 6h1v1h-1zM83 6h1v1h-1zM97 6h1v1h-1zM115 6h2v1h-2zM1 7h1v1h-1zM10 7h1v1h-1zM16 7h1v1h-1zM18 7h1v1h-1zM20 7h1v1h-1zM29 7h1v1h-1zM45 7h1v1h-1zM47 7h1v1h-1zM51 7h1v1h-1zM60 7h1v1h-1zM71 7h1v1h-1zM88 7h1v1h-1zM98 7h1v1h-1zM116 7h1v1h-1zM118 7h1v1h-1zM125 7h1v1h-1zM146 7h1v1h-1zM148 7h1v1h-1zM152 7h1v1h-1zM171 7h2v1h-2zM17 8h1v1h-1zM21 8h1v1h-1zM23 8h1v1h-1zM25 8h1v1h-1zM30 8h1v1h-1zM84 8h1v1h-1zM127 8h1v1h-1zM130 8h1v1h-1zM157 8h1v1h-1zM4 9h1v1h-1zM12 9h1v1h-1zM15 9h1v1h-1zM18 9h1v1h-1zM82 9h1v1h-1zM84 9h1v1h-1zM153 9h3v1h-3zM11 10h1v1h-1zM46 10h2v1h-2zM52 10h1v1h-1zM60 10h1v1h-1zM68 10h1v1h-1zM91 10h1v1h-1zM104 10h1v1h-1zM108 10h1v1h-1zM129 10h1v1h-1zM16 11h1v1h-1zM26 11h1v1h-1zM31 11h1v1h-1zM38 11h2v1h-2zM45 11h1v1h-1zM99 11h1v1h-1zM114 11h2v1h-2zM2 12h1v1h-1zM17 12h1v1h-1zM45 12h1v1h-1zM59 13h1v1h-1zM62 13h1v1h-1zM97 13h1v1h-1zM170 14h1v1h-1zM103 15h1v1h-1zM85 17h1v1h-1zM135 17h1v1h-1zM138 17h1v1h-1zM153 17h1v1h-1zM159 17h1v1h-1zM172 17h1v1h-1zM159 18h1v1h-1zM147 19h1v1h-1zM152 19h1v1h-1zM168 19h1v1h-1zM103 20h1v1h-1zM153 20h1v1h-1zM158 20h1v1h-1zM53 21h1v1h-1zM93 21h1v1h-1zM105 21h1v1h-1zM147 21h2v1h-2zM166 21h1v1h-1zM28 22h1v1h-1zM124 22h1v1h-1zM148 22h1v1h-1zM2 23h1v1h-1zM8 23h1v1h-1zM144 23h2v1h-2zM74 24h1v1h-1zM119 24h1v1h-1zM141 24h1v1h-1zM171 24h1v1h-1zM33 25h1v1h-1zM35 25h2v1h-2zM40 25h1v1h-1zM74 25h1v1h-1zM77 25h1v1h-1zM81 25h1v1h-1zM87 25h2v1h-2zM92 25h1v1h-1zM115 25h1v1h-1zM134 25h2v1h-2zM140 25h1v1h-1zM145 25h1v1h-1zM151 25h2v1h-2zM10 26h1v1h-1zM91 26h1v1h-1zM95 26h2v1h-2zM142 26h1v1h-1zM0 27h1v1h-1zM2 27h1v1h-1zM14 27h1v1h-1zM19 27h1v1h-1zM93 27h2v1h-2zM113 27h1v1h-1zM143 27h1v1h-1zM161 27h1v1h-1zM31 28h1v1h-1zM33 28h1v1h-1zM69 28h1v1h-1zM78 28h1v1h-1zM81 28h1v1h-1zM94 28h1v1h-1zM108 28h1v1h-1zM114 28h2v1h-2zM28 29h1v1h-1zM48 29h1v1h-1zM58 29h2v1h-2zM98 29h1v1h-1zM132 29h1v1h-1zM106 30h1v1h-1zM111 30h1v1h-1zM153 30h1v1h-1zM53 31h1v1h-1zM93 31h1v1h-1zM107 31h1v1h-1zM113 31h1v1h-1zM115 31h1v1h-1zM148 31h1v1h-1zM151 31h1v1h-1zM67 32h1v1h-1zM108 32h1v1h-1zM138 32h1v1h-1zM23 33h1v1h-1zM30 33h1v1h-1zM40 33h1v1h-1zM47 33h1v1h-1zM50 33h1v1h-1zM68 33h1v1h-1zM105 33h1v1h-1zM115 33h1v1h-1zM117 33h1v1h-1zM1 34h1v1h-1zM12 34h1v1h-1zM16 34h1v1h-1zM45 34h1v1h-1zM65 34h2v1h-2zM73 34h1v1h-1zM136 34h1v1h-1zM145 34h2v1h-2zM158 34h1v1h-1zM174 34h1v1h-1zM29 35h1v1h-1zM57 35h1v1h-1zM68 35h1v1h-1zM75 35h1v1h-1zM164 35h3v1h-3zM169 35h3v1h-3zM11 36h1v1h-1zM23 36h1v1h-1zM118 36h1v1h-1zM3 37h1v1h-1zM36 37h1v1h-1zM69 37h1v1h-1zM102 37h1v1h-1zM122 37h1v1h-1zM128 37h1v1h-1zM140 37h1v1h-1zM151 37h2v1h-2zM160 37h1v1h-1zM163 37h1v1h-1zM8 38h1v1h-1zM29 38h1v1h-1zM31 38h3v1h-3zM60 38h1v1h-1zM75 38h1v1h-1zM81 38h1v1h-1zM125 38h1v1h-1zM129 38h1v1h-1zM140 38h1v1h-1zM161 38h1v1h-1zM3 39h1v1h-1zM5 39h1v1h-1zM14 39h2v1h-2zM78 39h1v1h-1zM123 39h1v1h-1zM155 39h1v1h-1zM73 40h1v1h-1zM147 40h1v1h-1zM26 41h1v1h-1zM56 41h1v1h-1zM64 41h1v1h-1zM92 41h1v1h-1zM98 41h1v1h-1zM110 41h1v1h-1zM125 41h2v1h-2zM34 42h1v1h-1zM60 42h1v1h-1zM92 42h1v1h-1zM133 42h1v1h-1zM139 42h1v1h-1zM142 42h1v1h-1zM149 42h2v1h-2zM167 42h1v1h-1zM7 43h1v1h-1zM67 43h1v1h-1zM76 43h1v1h-1zM96 43h1v1h-1zM123 43h1v1h-1zM141 43h1v1h-1zM149 43h1v1h-1zM159 43h1v1h-1zM60 44h1v1h-1zM116 44h1v1h-1zM136 44h1v1h-1zM23 45h1v1h-1zM29 45h1v1h-1zM55 45h1v1h-1zM58 45h1v1h-1zM105 45h1v1h-1zM107 45h1v1h-1zM44 46h1v1h-1zM54 46h1v1h-1zM56 46h1v1h-1zM82 46h1v1h-1zM134 46h1v1h-1zM149 46h1v1h-1zM155 46h1v1h-1zM24 47h1v1h-1zM27 47h1v1h-1zM73 47h1v1h-1zM95 47h1v1h-1zM104 47h1v1h-1zM106 47h1v1h-1zM110 47h1v1h-1zM120 47h1v1h-1zM127 47h1v1h-1zM137 47h1v1h-1zM139 47h1v1h-1zM160 47h1v1h-1zM168 47h3v1h-3zM16 48h2v1h-2zM19 48h2v1h-2zM64 48h1v1h-1zM104 48h1v1h-1zM121 48h1v1h-1zM137 48h1v1h-1zM141 48h1v1h-1zM144 48h1v1h-1zM170 48h1v1h-1z"/>
<path fill="#f6f5f4" d="M94 0h1v1h-1zM105 0h1v1h-1zM118 0h1v1h-1zM124 0h1v1h-1zM132 0h1v1h-1zM147 0h1v1h-1zM149 0h1v1h-1zM162 0h1v1h-1zM45 1h2v1h-2zM49 1h1v1h-1zM68 1h1v1h-1zM72 1h1v1h-1zM80 1h2v1h-2zM86 1h1v1h-1zM91 1h1v1h-1zM95 1h1v1h-1zM98 1h1v1h-1zM101 1h1v1h-1zM104 1h1v1h-1zM108 1h1v1h-1zM119 1h1v1h-1zM127 1h1v1h-1zM164 1h1v1h-1zM32 2h1v1h-1zM49 2h1v1h-1zM90 2h1v1h-1zM98 2h1v1h-1zM109 2h2v1h-2zM122 2h1v1h-1zM129 2h1v1h-1zM164 2h1v1h-1zM47 3h1v1h-1zM55 3h1v1h-1zM64 3h1v1h-1zM72 3h1v1h-1zM81 3h1v1h-1zM83 3h1v1h-1zM89 3h3v1h-3zM93 3h1v1h-1zM95 3h1v1h-1zM107 3h1v1h-1zM136 3h1v1h-1zM143 3h1v1h-1zM151 3h1v1h-1zM163 3h1v1h-1zM171 3h3v1h-3zM46 4h1v1h-1zM93 4h2v1h-2zM96 4h1v1h-1zM105 4h1v1h-1zM136 4h1v1h-1zM154 4h1v1h-1zM157 4h1v1h-1zM164 4h1v1h-1zM3 5h1v1h-1zM20 5h1v1h-1zM39 5h2v1h-2zM59 5h1v1h-1zM61 5h1v1h-1zM74 5h1v1h-1zM81 5h1v1h-1zM85 5h1v1h-1zM126 5h1v1h-1zM134 5h1v1h-1zM4 6h1v1h-1zM12 6h1v1h-1zM14 6h1v1h-1zM17 6h2v1h-2zM22 6h1v1h-1zM29 6h1v1h-1zM44 6h1v1h-1zM48 6h1v1h-1zM59 6h1v1h-1zM72 6h1v1h-1zM98 6h2v1h-2zM114 6h1v1h-1zM120 6h1v1h-1zM122 6h1v1h-1zM126 6h1v1h-1zM149 6h1v1h-1zM6 7h1v1h-1zM25 7h1v1h-1zM36 7h1v1h-1zM48 7h2v1h-2zM67 7h1v1h-1zM69 7h1v1h-1zM72 7h1v1h-1zM97 7h1v1h-1zM99 7h1v1h-1zM103 7h1v1h-1zM114 7h2v1h-2zM149 7h1v1h-1zM153 7h1v1h-1zM160 7h1v1h-1zM165 7h1v1h-1zM1 8h1v1h-1zM18 8h2v1h-2zM22 8h1v1h-1zM47 8h1v1h-1zM102 8h1v1h-1zM108 8h1v1h-1zM110 8h1v1h-1zM114 8h1v1h-1zM120 8h1v1h-1zM126 8h1v1h-1zM131 8h1v1h-1zM139 8h1v1h-1zM152 8h1v1h-1zM7 9h2v1h-2zM10 9h1v1h-1zM77 9h1v1h-1zM90 9h3v1h-3zM18 10h1v1h-1zM36 10h1v1h-1zM48 10h3v1h-3zM74 10h1v1h-1zM84 10h1v1h-1zM90 10h1v1h-1zM97 10h1v1h-1zM155 10h2v1h-2zM0 11h2v1h-2zM5 11h1v1h-1zM7 11h1v1h-1zM13 11h1v1h-1zM17 11h1v1h-1zM25 11h1v1h-1zM36 11h1v1h-1zM48 11h1v1h-1zM75 11h1v1h-1zM97 11h1v1h-1zM122 11h1v1h-1zM147 11h4v1h-4zM11 12h1v1h-1zM13 12h1v1h-1zM47 12h1v1h-1zM83 12h3v1h-3zM92 12h1v1h-1zM100 12h1v1h-1zM107 12h1v1h-1zM130 12h2v1h-2zM155 12h1v1h-1zM157 12h1v1h-1zM68 13h1v1h-1zM167 13h1v1h-1zM169 13h1v1h-1zM105 14h1v1h-1zM112 14h1v1h-1zM171 14h1v1h-1zM174 14h1v1h-1zM92 15h1v1h-1zM96 15h1v1h-1zM108 15h1v1h-1zM161 15h1v1h-1zM149 16h1v1h-1zM166 16h2v1h-2zM24 17h1v1h-1zM84 17h1v1h-1zM132 17h1v1h-1zM140 17h1v1h-1zM152 17h1v1h-1zM170 17h1v1h-1zM174 17h1v1h-1zM103 18h1v1h-1zM155 18h2v1h-2zM160 18h1v1h-1zM168 18h1v1h-1zM171 18h3v1h-3zM45 19h1v1h-1zM52 19h1v1h-1zM89 19h1v1h-1zM165 19h1v1h-1zM50 20h1v1h-1zM91 20h1v1h-1zM128 20h1v1h-1zM144 20h1v1h-1zM157 20h1v1h-1zM160 20h1v1h-1zM54 21h2v1h-2zM57 21h1v1h-1zM91 21h1v1h-1zM94 21h1v1h-1zM103 21h1v1h-1zM106 21h1v1h-1zM112 21h1v1h-1zM137 21h1v1h-1zM158 21h2v1h-2zM17 22h1v1h-1zM50 22h1v1h-1zM108 22h1v1h-1zM119 22h1v1h-1zM133 22h1v1h-1zM153 22h1v1h-1zM155 22h1v1h-1zM158 22h1v1h-1zM163 22h1v1h-1zM4 23h2v1h-2zM162 23h2v1h-2zM167 23h1v1h-1zM72 24h1v1h-1zM75 24h3v1h-3zM85 24h1v1h-1zM89 24h1v1h-1zM92 24h1v1h-1zM142 24h1v1h-1zM145 24h2v1h-2zM162 24h1v1h-1zM173 24h1v1h-1zM4 25h1v1h-1zM21 25h1v1h-1zM24 25h1v1h-1zM37 25h1v1h-1zM68 25h1v1h-1zM78 25h2v1h-2zM90 25h1v1h-1zM100 25h1v1h-1zM114 25h1v1h-1zM116 25h1v1h-1zM148 25h1v1h-1zM158 25h1v1h-1zM164 25h1v1h-1zM0 26h1v1h-1zM4 26h1v1h-1zM76 26h1v1h-1zM80 26h1v1h-1zM101 26h1v1h-1zM117 26h1v1h-1zM124 26h2v1h-2zM132 26h1v1h-1zM1 27h1v1h-1zM3 27h1v1h-1zM31 27h1v1h-1zM95 27h1v1h-1zM99 27h1v1h-1zM139 27h1v1h-1zM145 27h1v1h-1zM151 27h1v1h-1zM30 28h1v1h-1zM43 28h1v1h-1zM46 28h1v1h-1zM59 28h1v1h-1zM67 28h1v1h-1zM70 28h1v1h-1zM74 28h1v1h-1zM92 28h1v1h-1zM120 28h1v1h-1zM122 28h1v1h-1zM124 28h1v1h-1zM130 28h2v1h-2zM138 28h1v1h-1zM41 29h1v1h-1zM50 29h2v1h-2zM61 29h1v1h-1zM66 29h1v1h-1zM70 29h3v1h-3zM77 29h1v1h-1zM32 30h1v1h-1zM46 30h1v1h-1zM63 30h2v1h-2zM66 30h1v1h-1zM73 30h1v1h-1zM77 30h1v1h-1zM102 30h1v1h-1zM115 30h1v1h-1zM131 30h1v1h-1zM134 30h1v1h-1zM54 31h1v1h-1zM71 31h1v1h-1zM94 31h1v1h-1zM103 31h1v1h-1zM114 31h1v1h-1zM134 31h1v1h-1zM136 31h1v1h-1zM146 31h1v1h-1zM153 31h2v1h-2zM20 32h1v1h-1zM22 32h1v1h-1zM32 32h1v1h-1zM41 32h1v1h-1zM53 32h2v1h-2zM57 32h2v1h-2zM62 32h1v1h-1zM66 32h1v1h-1zM70 32h1v1h-1zM96 32h1v1h-1zM133 32h1v1h-1zM135 32h1v1h-1zM149 32h1v1h-1zM151 32h1v1h-1zM2 33h1v1h-1zM5 33h1v1h-1zM8 33h1v1h-1zM11 33h1v1h-1zM16 33h1v1h-1zM42 33h1v1h-1zM44 33h1v1h-1zM72 33h3v1h-3zM95 33h2v1h-2zM114 33h1v1h-1zM120 33h1v1h-1zM124 33h1v1h-1zM53 34h1v1h-1zM55 34h2v1h-2zM97 34h2v1h-2zM100 34h1v1h-1zM137 34h2v1h-2zM141 34h2v1h-2zM147 34h1v1h-1zM152 34h1v1h-1zM165 34h1v1h-1zM31 35h1v1h-1zM36 35h1v1h-1zM45 35h1v1h-1zM50 35h1v1h-1zM58 35h1v1h-1zM67 35h1v1h-1zM80 35h2v1h-2zM100 35h1v1h-1zM115 35h1v1h-1zM123 35h1v1h-1zM157 35h1v1h-1zM162 35h1v1h-1zM173 35h1v1h-1zM5 36h1v1h-1zM15 36h1v1h-1zM26 36h3v1h-3zM30 36h1v1h-1zM41 36h1v1h-1zM61 36h1v1h-1zM66 36h1v1h-1zM69 36h3v1h-3zM86 36h1v1h-1zM103 36h1v1h-1zM109 36h1v1h-1zM111 36h1v1h-1zM131 36h1v1h-1zM141 36h2v1h-2zM156 36h1v1h-1zM160 36h1v1h-1zM33 37h1v1h-1zM42 37h2v1h-2zM60 37h1v1h-1zM74 37h1v1h-1zM91 37h1v1h-1zM99 37h2v1h-2zM111 37h1v1h-1zM121 37h1v1h-1zM127 37h1v1h-1zM133 37h1v1h-1zM135 37h1v1h-1zM10 38h1v1h-1zM13 38h1v1h-1zM18 38h1v1h-1zM24 38h1v1h-1zM34 38h2v1h-2zM42 38h2v1h-2zM46 38h1v1h-1zM48 38h1v1h-1zM50 38h1v1h-1zM53 38h2v1h-2zM74 38h1v1h-1zM79 38h1v1h-1zM82 38h2v1h-2zM112 38h1v1h-1zM120 38h1v1h-1zM154 38h1v1h-1zM162 38h1v1h-1zM2 39h1v1h-1zM4 39h1v1h-1zM16 39h1v1h-1zM19 39h2v1h-2zM22 39h1v1h-1zM32 39h1v1h-1zM52 39h1v1h-1zM55 39h2v1h-2zM69 39h1v1h-1zM74 39h1v1h-1zM79 39h1v1h-1zM84 39h1v1h-1zM97 39h1v1h-1zM107 39h1v1h-1zM137 39h1v1h-1zM140 39h1v1h-1zM149 39h1v1h-1zM166 39h1v1h-1zM29 40h1v1h-1zM34 40h1v1h-1zM36 40h1v1h-1zM41 40h1v1h-1zM52 40h1v1h-1zM105 40h1v1h-1zM119 40h1v1h-1zM122 40h1v1h-1zM126 40h1v1h-1zM142 40h1v1h-1zM163 40h2v1h-2zM18 41h1v1h-1zM21 41h1v1h-1zM27 41h1v1h-1zM31 41h1v1h-1zM40 41h1v1h-1zM50 41h1v1h-1zM55 41h1v1h-1zM80 41h1v1h-1zM100 41h1v1h-1zM103 41h2v1h-2zM108 41h2v1h-2zM112 41h2v1h-2zM120 41h1v1h-1zM123 41h1v1h-1zM144 41h1v1h-1zM147 41h1v1h-1zM156 41h1v1h-1zM15 42h1v1h-1zM28 42h1v1h-1zM32 42h1v1h-1zM36 42h1v1h-1zM42 42h1v1h-1zM58 42h1v1h-1zM68 42h1v1h-1zM78 42h1v1h-1zM85 42h3v1h-3zM94 42h2v1h-2zM100 42h1v1h-1zM102 42h2v1h-2zM123 42h1v1h-1zM155 42h1v1h-1zM166 42h1v1h-1zM2 43h1v1h-1zM8 43h1v1h-1zM15 43h1v1h-1zM21 43h1v1h-1zM30 43h1v1h-1zM36 43h1v1h-1zM38 43h2v1h-2zM41 43h1v1h-1zM46 43h2v1h-2zM61 43h1v1h-1zM72 43h1v1h-1zM80 43h1v1h-1zM138 43h1v1h-1zM145 43h1v1h-1zM163 43h1v1h-1zM166 43h1v1h-1zM0 44h1v1h-1zM43 44h1v1h-1zM57 44h2v1h-2zM62 44h1v1h-1zM66 44h1v1h-1zM69 44h2v1h-2zM96 44h1v1h-1zM100 44h1v1h-1zM118 44h2v1h-2zM128 44h1v1h-1zM159 44h1v1h-1zM8 45h2v1h-2zM12 45h1v1h-1zM28 45h1v1h-1zM63 45h1v1h-1zM65 45h1v1h-1zM71 45h1v1h-1zM78 45h1v1h-1zM80 45h1v1h-1zM94 45h1v1h-1zM98 45h1v1h-1zM116 45h1v1h-1zM160 45h1v1h-1zM165 45h1v1h-1zM48 46h1v1h-1zM55 46h1v1h-1zM101 46h1v1h-1zM106 46h1v1h-1zM122 46h1v1h-1zM133 46h1v1h-1zM135 46h1v1h-1zM11 47h1v1h-1zM23 47h1v1h-1zM35 47h1v1h-1zM64 47h2v1h-2zM70 47h2v1h-2zM78 47h1v1h-1zM82 47h2v1h-2zM91 47h1v1h-1zM96 47h1v1h-1zM109 47h1v1h-1zM111 47h1v1h-1zM119 47h1v1h-1zM135 47h1v1h-1zM145 47h1v1h-1zM148 47h1v1h-1zM153 47h1v1h-1zM171 47h1v1h-1zM1 48h1v1h-1zM13 48h1v1h-1zM22 48h2v1h-2zM28 48h1v1h-1zM30 48h1v1h-1zM43 48h1v1h-1zM60 48h1v1h-1zM66 48h1v1h-1zM95 48h1v1h-1zM100 48h1v1h-1zM109 48h3v1h-3zM117 48h2v1h-2zM120 48h1v1h-1zM123 48h1v1h-1zM127 48h2v1h-2z"/>
<path fill="#f6eee8" d="M104 0h1v1h-1zM106 0h1v1h-1zM116 0h1v1h-1zM154 0h1v1h-1zM161 0h1v1h-1zM50 1h1v1h-1zM59 1h1v1h-1zM67 1h1v1h-1zM76 1h1v1h-1zM103 1h1v1h-1zM106 1h1v1h-1zM168 1h1v1h-1zM83 2h1v1h-1zM116 2h1v1h-1zM139 2h1v1h-1zM152 2h1v1h-1zM44 3h1v1h-1zM102 3h1v1h-1zM108 3h2v1h-2zM135 3h1v1h-1zM138 3h1v1h-1zM141 3h1v1h-1zM160 3h1v1h-1zM168 3h1v1h-1zM174 3h1v1h-1zM155 4h1v1h-1zM173 4h1v1h-1zM104 5h2v1h-2zM111 5h1v1h-1zM135 5h1v1h-1zM157 5h1v1h-1zM19 6h1v1h-1zM124 6h1v1h-1zM127 6h1v1h-1zM148 6h1v1h-1zM0 7h1v1h-1zM3 7h1v1h-1zM30 7h1v1h-1zM105 7h2v1h-2zM108 7h1v1h-1zM119 7h1v1h-1zM126 7h1v1h-1zM129 7h1v1h-1zM142 7h1v1h-1zM144 7h1v1h-1zM164 7h1v1h-1zM174 7h1v1h-1zM6 8h1v1h-1zM14 8h1v1h-1zM20 8h1v1h-1zM95 8h2v1h-2zM101 8h1v1h-1zM109 8h1v1h-1zM111 8h1v1h-1zM125 8h1v1h-1zM141 8h1v1h-1zM144 8h1v1h-1zM5 9h1v1h-1zM93 9h2v1h-2zM150 9h1v1h-1zM161 9h1v1h-1zM28 10h1v1h-1zM61 10h1v1h-1zM96 10h1v1h-1zM140 10h1v1h-1zM142 10h1v1h-1zM33 11h1v1h-1zM111 11h1v1h-1zM113 11h1v1h-1zM134 11h3v1h-3zM146 11h1v1h-1zM153 11h1v1h-1zM156 11h1v1h-1zM24 12h1v1h-1zM135 12h1v1h-1zM147 12h2v1h-2zM156 12h1v1h-1zM29 13h1v1h-1zM33 13h1v1h-1zM50 13h2v1h-2zM66 13h2v1h-2zM98 13h2v1h-2zM104 13h1v1h-1zM108 13h1v1h-1zM116 13h1v1h-1zM120 13h1v1h-1zM151 13h1v1h-1zM158 13h1v1h-1zM166 13h1v1h-1zM46 14h1v1h-1zM78 14h1v1h-1zM172 14h1v1h-1zM61 15h1v1h-1zM104 15h1v1h-1zM107 15h1v1h-1zM154 15h2v1h-2zM165 15h1v1h-1zM171 15h2v1h-2zM158 16h1v1h-1zM8 17h1v1h-1zM18 17h1v1h-1zM28 17h1v1h-1zM83 17h1v1h-1zM108 17h1v1h-1zM116 17h1v1h-1zM173 17h1v1h-1zM157 18h1v1h-1zM162 18h1v1h-1zM167 18h1v1h-1zM46 19h1v1h-1zM50 19h2v1h-2zM66 19h1v1h-1zM78 19h1v1h-1zM137 19h1v1h-1zM163 19h1v1h-1zM111 20h1v1h-1zM118 20h1v1h-1zM121 20h1v1h-1zM162 20h2v1h-2zM167 20h1v1h-1zM56 21h1v1h-1zM66 21h1v1h-1zM82 21h1v1h-1zM104 21h1v1h-1zM107 21h1v1h-1zM113 21h1v1h-1zM116 21h1v1h-1zM124 21h1v1h-1zM5 22h1v1h-1zM7 22h1v1h-1zM24 22h1v1h-1zM104 22h1v1h-1zM116 22h1v1h-1zM144 22h1v1h-1zM152 22h1v1h-1zM174 22h1v1h-1zM21 23h1v1h-1zM38 23h1v1h-1zM133 23h1v1h-1zM153 23h1v1h-1zM173 23h2v1h-2zM36 24h1v1h-1zM40 24h1v1h-1zM50 24h1v1h-1zM62 24h1v1h-1zM97 24h1v1h-1zM170 24h1v1h-1zM47 25h1v1h-1zM69 25h1v1h-1zM75 25h1v1h-1zM101 25h1v1h-1zM11 26h1v1h-1zM22 26h1v1h-1zM38 26h2v1h-2zM86 26h1v1h-1zM88 26h3v1h-3zM11 27h1v1h-1zM17 27h1v1h-1zM20 27h1v1h-1zM81 27h1v1h-1zM91 27h1v1h-1zM137 27h1v1h-1zM14 28h1v1h-1zM19 28h3v1h-3zM41 28h1v1h-1zM66 28h1v1h-1zM71 28h1v1h-1zM73 28h1v1h-1zM79 28h2v1h-2zM96 28h2v1h-2zM128 28h1v1h-1zM132 28h1v1h-1zM134 28h1v1h-1zM31 29h1v1h-1zM44 29h1v1h-1zM57 29h1v1h-1zM78 29h2v1h-2zM28 30h1v1h-1zM51 30h1v1h-1zM75 30h1v1h-1zM109 30h2v1h-2zM114 30h1v1h-1zM132 30h1v1h-1zM141 30h1v1h-1zM146 30h1v1h-1zM45 31h2v1h-2zM61 31h1v1h-1zM78 31h1v1h-1zM90 31h1v1h-1zM100 31h2v1h-2zM135 31h1v1h-1zM141 31h1v1h-1zM156 31h1v1h-1zM71 32h2v1h-2zM76 32h1v1h-1zM91 32h1v1h-1zM112 32h2v1h-2zM124 32h1v1h-1zM156 32h1v1h-1zM0 33h2v1h-2zM12 33h1v1h-1zM34 33h1v1h-1zM70 33h1v1h-1zM79 33h1v1h-1zM133 33h1v1h-1zM136 33h1v1h-1zM139 33h1v1h-1zM0 34h1v1h-1zM2 34h1v1h-1zM25 34h1v1h-1zM28 34h1v1h-1zM41 34h1v1h-1zM54 34h1v1h-1zM86 34h1v1h-1zM113 34h1v1h-1zM143 34h1v1h-1zM173 34h1v1h-1zM65 35h1v1h-1zM108 35h1v1h-1zM114 35h1v1h-1zM116 35h1v1h-1zM126 35h1v1h-1zM149 35h1v1h-1zM152 35h1v1h-1zM156 35h1v1h-1zM57 36h2v1h-2zM65 36h1v1h-1zM67 36h1v1h-1zM75 36h1v1h-1zM79 36h1v1h-1zM101 36h1v1h-1zM125 36h1v1h-1zM130 36h1v1h-1zM138 36h1v1h-1zM155 36h1v1h-1zM157 36h1v1h-1zM167 36h1v1h-1zM38 37h2v1h-2zM47 37h1v1h-1zM63 37h1v1h-1zM68 37h1v1h-1zM103 37h1v1h-1zM126 37h1v1h-1zM150 37h1v1h-1zM154 37h1v1h-1zM41 38h1v1h-1zM66 38h1v1h-1zM93 38h2v1h-2zM144 38h1v1h-1zM156 38h1v1h-1zM21 39h1v1h-1zM35 39h1v1h-1zM43 39h2v1h-2zM100 39h1v1h-1zM111 39h1v1h-1zM138 39h1v1h-1zM162 39h1v1h-1zM165 39h1v1h-1zM30 40h2v1h-2zM35 40h1v1h-1zM40 40h1v1h-1zM70 40h1v1h-1zM74 40h1v1h-1zM78 40h1v1h-1zM91 40h2v1h-2zM112 40h1v1h-1zM123 40h1v1h-1zM127 40h1v1h-1zM156 40h1v1h-1zM171 40h1v1h-1zM2 41h1v1h-1zM9 41h1v1h-1zM22 41h1v1h-1zM24 41h1v1h-1zM29 41h1v1h-1zM36 41h1v1h-1zM85 41h1v1h-1zM97 41h1v1h-1zM122 41h1v1h-1zM160 41h1v1h-1zM162 41h1v1h-1zM57 42h1v1h-1zM93 42h1v1h-1zM138 42h1v1h-1zM4 43h1v1h-1zM14 43h1v1h-1zM23 43h2v1h-2zM31 43h1v1h-1zM42 43h2v1h-2zM66 43h1v1h-1zM97 43h1v1h-1zM103 43h1v1h-1zM122 43h1v1h-1zM124 43h1v1h-1zM162 43h1v1h-1zM20 44h1v1h-1zM26 44h2v1h-2zM50 44h1v1h-1zM61 44h1v1h-1zM68 44h1v1h-1zM106 44h1v1h-1zM111 44h1v1h-1zM113 44h1v1h-1zM156 44h1v1h-1zM166 44h1v1h-1zM170 44h1v1h-1zM18 45h1v1h-1zM21 45h1v1h-1zM24 45h1v1h-1zM43 45h1v1h-1zM49 45h1v1h-1zM53 45h2v1h-2zM56 45h2v1h-2zM61 45h1v1h-1zM93 45h1v1h-1zM97 45h1v1h-1zM99 45h1v1h-1zM102 45h1v1h-1zM108 45h1v1h-1zM120 45h1v1h-1zM122 45h1v1h-1zM124 45h1v1h-1zM137 45h1v1h-1zM159 45h1v1h-1zM29 46h1v1h-1zM35 46h1v1h-1zM47 46h1v1h-1zM53 46h1v1h-1zM67 46h1v1h-1zM70 46h1v1h-1zM97 46h1v1h-1zM99 46h1v1h-1zM105 46h1v1h-1zM107 46h1v1h-1zM116 46h1v1h-1zM165 46h1v1h-1zM1 47h1v1h-1zM9 47h1v1h-1zM18 47h1v1h-1zM26 47h1v1h-1zM30 47h1v1h-1zM81 47h1v1h-1zM86 47h1v1h-1zM92 47h1v1h-1zM97 47h1v1h-1zM133 47h1v1h-1zM9 48h1v1h-1zM42 48h1v1h-1zM53 48h2v1h-2zM72 48h1v1h-1zM74 48h1v1h-1zM76 48h1v1h-1zM85 48h1v1h-1zM96 48h2v1h-2zM155 48h1v1h-1z"/>
<path fill="#f6e6dd" d="M89 0h1v1h-1zM93 0h1v1h-1zM120 0h1v1h-1zM127 0h3v1h-3zM135 0h1v1h-1zM52 1h1v1h-1zM111 1h1v1h-1zM174 1h1v1h-1zM108 2h1v1h-1zM127 2h1v1h-1zM45 3h1v1h-1zM49 3h1v1h-1zM103 4h1v1h-1zM106 4h1v1h-1zM156 4h1v1h-1zM1 5h1v1h-1zM41 5h1v1h-1zM45 5h1v1h-1zM77 5h1v1h-1zM132 5h1v1h-1zM143 5h1v1h-1zM152 5h1v1h-1zM6 6h1v1h-1zM16 6h1v1h-1zM47 6h1v1h-1zM86 6h1v1h-1zM110 6h1v1h-1zM137 6h1v1h-1zM141 6h1v1h-1zM31 7h1v1h-1zM81 7h1v1h-1zM113 7h1v1h-1zM121 7h1v1h-1zM161 7h1v1h-1zM9 8h1v1h-1zM81 8h1v1h-1zM89 8h1v1h-1zM145 8h1v1h-1zM25 9h1v1h-1zM45 9h1v1h-1zM137 9h1v1h-1zM165 9h1v1h-1zM33 10h1v1h-1zM72 10h1v1h-1zM77 10h1v1h-1zM127 10h1v1h-1zM152 10h1v1h-1zM47 11h1v1h-1zM91 11h1v1h-1zM96 11h1v1h-1zM123 11h1v1h-1zM167 11h1v1h-1zM25 12h1v1h-1zM43 13h1v1h-1zM48 13h1v1h-1zM90 13h1v1h-1zM127 13h1v1h-1zM159 13h1v1h-1zM162 13h1v1h-1zM170 13h1v1h-1zM113 14h1v1h-1zM116 14h1v1h-1zM46 15h1v1h-1zM49 15h1v1h-1zM97 15h1v1h-1zM124 15h1v1h-1zM152 15h2v1h-2zM168 15h1v1h-1zM133 16h1v1h-1zM103 17h1v1h-1zM15 18h1v1h-1zM96 18h1v1h-1zM104 18h1v1h-1zM107 18h1v1h-1zM127 18h1v1h-1zM137 18h1v1h-1zM62 19h1v1h-1zM87 19h1v1h-1zM153 19h1v1h-1zM172 19h1v1h-1zM46 20h1v1h-1zM52 20h1v1h-1zM28 21h1v1h-1zM58 21h1v1h-1zM1 22h1v1h-1zM52 22h1v1h-1zM102 22h1v1h-1zM125 22h1v1h-1zM139 22h1v1h-1zM143 22h1v1h-1zM28 23h1v1h-1zM39 23h1v1h-1zM87 23h1v1h-1zM138 23h1v1h-1zM146 23h1v1h-1zM166 23h1v1h-1zM170 23h1v1h-1zM78 24h2v1h-2zM87 24h1v1h-1zM152 24h1v1h-1zM158 24h1v1h-1zM165 24h1v1h-1zM44 25h1v1h-1zM51 25h1v1h-1zM60 25h1v1h-1zM102 25h1v1h-1zM119 25h2v1h-2zM144 25h1v1h-1zM165 25h1v1h-1zM1 26h1v1h-1zM14 26h1v1h-1zM24 26h1v1h-1zM81 26h1v1h-1zM92 26h1v1h-1zM5 27h1v1h-1zM75 27h1v1h-1zM97 27h1v1h-1zM130 27h2v1h-2zM140 27h1v1h-1zM5 28h1v1h-1zM28 28h1v1h-1zM58 28h1v1h-1zM68 28h1v1h-1zM93 28h1v1h-1zM137 28h1v1h-1zM45 29h1v1h-1zM140 29h1v1h-1zM31 30h1v1h-1zM82 30h1v1h-1zM107 30h1v1h-1zM118 30h1v1h-1zM130 30h1v1h-1zM9 31h1v1h-1zM31 31h1v1h-1zM48 31h1v1h-1zM132 31h1v1h-1zM139 31h1v1h-1zM167 31h1v1h-1zM90 32h1v1h-1zM95 32h1v1h-1zM137 32h1v1h-1zM167 32h1v1h-1zM15 33h1v1h-1zM27 33h1v1h-1zM32 33h1v1h-1zM43 33h1v1h-1zM87 33h1v1h-1zM125 33h1v1h-1zM167 33h1v1h-1zM13 34h1v1h-1zM34 34h1v1h-1zM69 34h1v1h-1zM81 34h1v1h-1zM95 34h1v1h-1zM106 34h1v1h-1zM116 34h1v1h-1zM119 34h1v1h-1zM161 34h1v1h-1zM48 35h1v1h-1zM52 35h1v1h-1zM59 35h1v1h-1zM72 35h1v1h-1zM91 35h1v1h-1zM104 35h1v1h-1zM8 36h1v1h-1zM22 36h1v1h-1zM37 36h1v1h-1zM78 36h1v1h-1zM110 36h1v1h-1zM137 36h1v1h-1zM48 37h1v1h-1zM80 37h1v1h-1zM86 37h1v1h-1zM117 37h1v1h-1zM146 37h1v1h-1zM36 38h1v1h-1zM49 38h1v1h-1zM72 38h1v1h-1zM103 38h1v1h-1zM107 38h2v1h-2zM134 38h1v1h-1zM155 38h1v1h-1zM10 39h1v1h-1zM33 39h1v1h-1zM37 39h1v1h-1zM86 39h1v1h-1zM119 39h1v1h-1zM153 39h1v1h-1zM155 40h1v1h-1zM32 41h1v1h-1zM128 41h1v1h-1zM172 41h1v1h-1zM44 42h1v1h-1zM64 42h1v1h-1zM79 42h1v1h-1zM99 42h1v1h-1zM116 42h1v1h-1zM121 42h1v1h-1zM26 43h1v1h-1zM59 43h1v1h-1zM133 43h1v1h-1zM152 43h1v1h-1zM168 43h1v1h-1zM19 44h1v1h-1zM41 44h1v1h-1zM59 44h1v1h-1zM91 44h1v1h-1zM103 44h1v1h-1zM115 44h1v1h-1zM150 44h1v1h-1zM162 44h1v1h-1zM172 44h1v1h-1zM22 45h1v1h-1zM104 45h1v1h-1zM22 46h1v1h-1zM32 46h1v1h-1zM37 46h1v1h-1zM96 46h1v1h-1zM98 46h1v1h-1zM113 46h1v1h-1zM159 46h2v1h-2zM168 46h1v1h-1zM20 47h1v1h-1zM59 47h1v1h-1zM152 47h1v1h-1zM157 47h1v1h-1zM27 48h1v1h-1zM65 48h1v1h-1zM133 48h1v1h-1zM157 48h1v1h-1z"/>
<path fill="#f6ded2" d="M92 0h1v1h-1zM99 0h1v1h-1zM102 0h1v1h-1zM122 0h1v1h-1zM130 0h2v1h-2zM145 0h1v1h-1zM163 0h1v1h-1zM62 1h1v1h-1zM71 1h1v1h-1zM82 1h2v1h-2zM85 1h1v1h-1zM100 1h1v1h-1zM105 1h1v1h-1zM107 1h1v1h-1zM124 1h1v1h-1zM129 1h1v1h-1zM154 1h2v1h-2zM160 1h1v1h-1zM162 1h1v1h-1zM173 1h1v1h-1zM92 2h1v1h-1zM114 2h2v1h-2zM75 3h1v1h-1zM96 3h2v1h-2zM119 3h1v1h-1zM130 3h1v1h-1zM137 3h1v1h-1zM140 3h1v1h-1zM154 3h1v1h-1zM162 3h1v1h-1zM166 3h1v1h-1zM169 3h2v1h-2zM47 4h1v1h-1zM107 4h1v1h-1zM134 4h2v1h-2zM141 4h1v1h-1zM10 5h2v1h-2zM30 5h1v1h-1zM34 5h1v1h-1zM47 5h2v1h-2zM58 5h1v1h-1zM76 5h1v1h-1zM80 5h1v1h-1zM107 5h1v1h-1zM113 5h1v1h-1zM141 5h1v1h-1zM160 5h1v1h-1zM163 5h1v1h-1zM167 5h1v1h-1zM172 5h1v1h-1zM7 6h1v1h-1zM9 6h2v1h-2zM13 6h1v1h-1zM91 6h1v1h-1zM94 6h1v1h-1zM103 6h2v1h-2zM147 6h1v1h-1zM152 6h1v1h-1zM156 6h1v1h-1zM5 7h1v1h-1zM8 7h2v1h-2zM80 7h1v1h-1zM100 7h1v1h-1zM109 7h1v1h-1zM112 7h1v1h-1zM128 7h1v1h-1zM145 7h1v1h-1zM167 7h1v1h-1zM169 7h1v1h-1zM173 7h1v1h-1zM5 8h1v1h-1zM7 8h1v1h-1zM24 8h1v1h-1zM77 8h1v1h-1zM112 8h2v1h-2zM124 8h1v1h-1zM146 8h1v1h-1zM150 8h2v1h-2zM153 8h1v1h-1zM156 8h1v1h-1zM158 8h1v1h-1zM163 8h1v1h-1zM170 8h1v1h-1zM172 8h1v1h-1zM87 9h2v1h-2zM95 9h1v1h-1zM138 9h1v1h-1zM140 9h1v1h-1zM151 9h1v1h-1zM158 9h1v1h-1zM163 9h1v1h-1zM15 10h1v1h-1zM35 10h1v1h-1zM37 10h1v1h-1zM51 10h1v1h-1zM64 10h1v1h-1zM81 10h2v1h-2zM92 10h1v1h-1zM94 10h1v1h-1zM119 10h1v1h-1zM123 10h1v1h-1zM137 10h1v1h-1zM151 10h1v1h-1zM154 10h1v1h-1zM161 10h1v1h-1zM3 11h1v1h-1zM77 11h1v1h-1zM98 11h1v1h-1zM119 11h1v1h-1zM133 11h1v1h-1zM137 11h1v1h-1zM157 11h1v1h-1zM75 12h1v1h-1zM96 12h1v1h-1zM119 12h1v1h-1zM132 12h1v1h-1zM134 12h1v1h-1zM72 13h1v1h-1zM102 13h2v1h-2zM137 13h1v1h-1zM165 13h1v1h-1zM31 14h1v1h-1zM49 14h2v1h-2zM61 14h1v1h-1zM73 14h1v1h-1zM130 14h2v1h-2zM161 14h1v1h-1zM164 14h1v1h-1zM168 14h1v1h-1zM64 15h1v1h-1zM95 15h1v1h-1zM102 15h1v1h-1zM112 15h2v1h-2zM126 15h1v1h-1zM157 15h1v1h-1zM163 15h1v1h-1zM170 15h1v1h-1zM22 17h1v1h-1zM54 17h1v1h-1zM58 17h1v1h-1zM92 17h1v1h-1zM95 17h1v1h-1zM128 17h1v1h-1zM133 17h1v1h-1zM147 17h1v1h-1zM8 18h1v1h-1zM60 18h2v1h-2zM94 18h1v1h-1zM113 18h1v1h-1zM153 18h1v1h-1zM161 18h1v1h-1zM174 18h1v1h-1zM31 19h1v1h-1zM44 19h1v1h-1zM47 19h1v1h-1zM57 19h1v1h-1zM64 19h1v1h-1zM101 19h1v1h-1zM106 19h1v1h-1zM113 19h1v1h-1zM119 19h1v1h-1zM144 19h1v1h-1zM161 19h1v1h-1zM170 19h1v1h-1zM80 20h1v1h-1zM89 20h1v1h-1zM93 20h1v1h-1zM96 20h1v1h-1zM101 20h2v1h-2zM104 20h1v1h-1zM112 20h3v1h-3zM117 20h1v1h-1zM126 20h1v1h-1zM164 20h2v1h-2zM168 20h1v1h-1zM170 20h1v1h-1zM31 21h1v1h-1zM52 21h1v1h-1zM61 21h1v1h-1zM64 21h1v1h-1zM71 21h1v1h-1zM73 21h1v1h-1zM75 21h1v1h-1zM77 21h1v1h-1zM90 21h1v1h-1zM101 21h1v1h-1zM115 21h1v1h-1zM131 21h1v1h-1zM160 21h1v1h-1zM168 21h1v1h-1zM8 22h1v1h-1zM14 22h2v1h-2zM20 22h1v1h-1zM45 22h1v1h-1zM55 22h1v1h-1zM80 22h1v1h-1zM90 22h1v1h-1zM98 22h2v1h-2zM114 22h1v1h-1zM121 22h1v1h-1zM171 22h1v1h-1zM14 23h1v1h-1zM17 23h4v1h-4zM54 23h1v1h-1zM61 23h1v1h-1zM71 23h1v1h-1zM76 23h1v1h-1zM79 23h1v1h-1zM89 23h2v1h-2zM96 23h1v1h-1zM98 23h1v1h-1zM154 23h1v1h-1zM168 23h2v1h-2zM26 24h1v1h-1zM30 24h1v1h-1zM57 24h1v1h-1zM70 24h1v1h-1zM83 24h1v1h-1zM109 24h1v1h-1zM129 24h1v1h-1zM1 25h1v1h-1zM8 25h1v1h-1zM45 25h2v1h-2zM59 25h1v1h-1zM63 25h1v1h-1zM85 25h1v1h-1zM111 25h1v1h-1zM129 25h1v1h-1zM166 25h1v1h-1zM170 25h1v1h-1zM2 26h1v1h-1zM18 26h1v1h-1zM21 26h1v1h-1zM23 26h1v1h-1zM27 26h1v1h-1zM29 26h2v1h-2zM40 26h1v1h-1zM62 26h1v1h-1zM87 26h1v1h-1zM110 26h1v1h-1zM120 26h1v1h-1zM123 26h1v1h-1zM127 26h1v1h-1zM140 26h1v1h-1zM4 27h1v1h-1zM6 27h1v1h-1zM16 27h1v1h-1zM29 27h1v1h-1zM80 27h1v1h-1zM83 27h1v1h-1zM89 27h1v1h-1zM100 27h2v1h-2zM132 27h3v1h-3zM147 27h1v1h-1zM152 27h1v1h-1zM12 28h1v1h-1zM18 28h1v1h-1zM22 28h2v1h-2zM27 28h1v1h-1zM36 28h1v1h-1zM40 28h1v1h-1zM48 28h1v1h-1zM55 28h1v1h-1zM57 28h1v1h-1zM61 28h1v1h-1zM77 28h1v1h-1zM82 28h1v1h-1zM98 28h1v1h-1zM110 28h1v1h-1zM121 28h1v1h-1zM125 28h2v1h-2zM153 28h2v1h-2zM167 28h1v1h-1zM33 29h1v1h-1zM35 29h1v1h-1zM40 29h1v1h-1zM42 29h1v1h-1zM53 29h1v1h-1zM67 29h2v1h-2zM73 29h3v1h-3zM82 29h1v1h-1zM95 29h1v1h-1zM97 29h1v1h-1zM125 29h1v1h-1zM137 29h1v1h-1zM143 29h1v1h-1zM154 29h1v1h-1zM33 30h1v1h-1zM42 30h2v1h-2zM53 30h1v1h-1zM55 30h1v1h-1zM59 30h1v1h-1zM61 30h1v1h-1zM72 30h1v1h-1zM80 30h1v1h-1zM83 30h4v1h-4zM89 30h1v1h-1zM108 30h1v1h-1zM113 30h1v1h-1zM117 30h1v1h-1zM20 31h1v1h-1zM23 31h3v1h-3zM52 31h1v1h-1zM62 31h1v1h-1zM64 31h1v1h-1zM73 31h2v1h-2zM77 31h1v1h-1zM79 31h1v1h-1zM108 31h1v1h-1zM118 31h1v1h-1zM121 31h1v1h-1zM123 31h1v1h-1zM125 31h1v1h-1zM131 31h1v1h-1zM137 31h2v1h-2zM12 32h2v1h-2zM31 32h1v1h-1zM33 32h1v1h-1zM43 32h1v1h-1zM50 32h1v1h-1zM68 32h2v1h-2zM73 32h1v1h-1zM75 32h1v1h-1zM99 32h1v1h-1zM102 32h1v1h-1zM109 32h2v1h-2zM115 32h1v1h-1zM117 32h1v1h-1zM128 32h1v1h-1zM130 32h2v1h-2zM140 32h1v1h-1zM145 32h1v1h-1zM3 33h1v1h-1zM7 33h1v1h-1zM10 33h1v1h-1zM17 33h1v1h-1zM19 33h1v1h-1zM39 33h1v1h-1zM77 33h1v1h-1zM80 33h1v1h-1zM86 33h1v1h-1zM98 33h1v1h-1zM112 33h1v1h-1zM118 33h1v1h-1zM130 33h1v1h-1zM138 33h1v1h-1zM156 33h1v1h-1zM163 33h1v1h-1zM6 34h2v1h-2zM9 34h1v1h-1zM17 34h1v1h-1zM19 34h1v1h-1zM40 34h1v1h-1zM52 34h1v1h-1zM79 34h1v1h-1zM82 34h1v1h-1zM101 34h1v1h-1zM110 34h2v1h-2zM118 34h1v1h-1zM128 34h1v1h-1zM148 34h1v1h-1zM172 34h1v1h-1zM32 35h1v1h-1zM35 35h1v1h-1zM42 35h1v1h-1zM47 35h1v1h-1zM63 35h1v1h-1zM69 35h1v1h-1zM73 35h2v1h-2zM107 35h1v1h-1zM109 35h1v1h-1zM111 35h1v1h-1zM113 35h1v1h-1zM127 35h1v1h-1zM148 35h1v1h-1zM153 35h1v1h-1zM155 35h1v1h-1zM159 35h1v1h-1zM161 35h1v1h-1zM167 35h2v1h-2zM7 36h1v1h-1zM32 36h2v1h-2zM36 36h1v1h-1zM43 36h1v1h-1zM47 36h2v1h-2zM53 36h2v1h-2zM60 36h1v1h-1zM77 36h1v1h-1zM82 36h1v1h-1zM100 36h1v1h-1zM115 36h1v1h-1zM120 36h1v1h-1zM139 36h1v1h-1zM150 36h1v1h-1zM152 36h3v1h-3zM158 36h1v1h-1zM169 36h1v1h-1zM171 36h1v1h-1zM0 37h1v1h-1zM8 37h1v1h-1zM37 37h1v1h-1zM46 37h1v1h-1zM49 37h2v1h-2zM61 37h1v1h-1zM66 37h1v1h-1zM72 37h1v1h-1zM79 37h1v1h-1zM90 37h1v1h-1zM96 37h1v1h-1zM104 37h1v1h-1zM107 37h1v1h-1zM125 37h1v1h-1zM137 37h1v1h-1zM158 37h1v1h-1zM161 37h1v1h-1zM15 38h1v1h-1zM20 38h1v1h-1zM37 38h1v1h-1zM45 38h1v1h-1zM47 38h1v1h-1zM62 38h1v1h-1zM69 38h2v1h-2zM73 38h1v1h-1zM84 38h1v1h-1zM89 38h1v1h-1zM92 38h1v1h-1zM113 38h1v1h-1zM147 38h1v1h-1zM149 38h2v1h-2zM1 39h1v1h-1zM11 39h2v1h-2zM18 39h1v1h-1zM23 39h1v1h-1zM25 39h1v1h-1zM48 39h1v1h-1zM59 39h1v1h-1zM67 39h2v1h-2zM72 39h2v1h-2zM80 39h1v1h-1zM85 39h1v1h-1zM90 39h1v1h-1zM93 39h2v1h-2zM102 39h2v1h-2zM126 39h1v1h-1zM129 39h1v1h-1zM139 39h1v1h-1zM160 39h1v1h-1zM167 39h1v1h-1zM20 40h1v1h-1zM27 40h2v1h-2zM43 40h1v1h-1zM53 40h1v1h-1zM62 40h1v1h-1zM65 40h1v1h-1zM68 40h1v1h-1zM72 40h1v1h-1zM97 40h1v1h-1zM99 40h3v1h-3zM106 40h1v1h-1zM111 40h1v1h-1zM118 40h1v1h-1zM125 40h1v1h-1zM128 40h1v1h-1zM153 40h1v1h-1zM168 40h1v1h-1zM0 41h2v1h-2zM7 41h1v1h-1zM16 41h1v1h-1zM25 41h1v1h-1zM33 41h1v1h-1zM35 41h1v1h-1zM39 41h1v1h-1zM79 41h1v1h-1zM91 41h1v1h-1zM96 41h1v1h-1zM99 41h1v1h-1zM101 41h1v1h-1zM124 41h1v1h-1zM145 41h2v1h-2zM150 41h1v1h-1zM154 41h1v1h-1zM164 41h1v1h-1zM169 41h1v1h-1zM24 42h1v1h-1zM29 42h1v1h-1zM31 42h1v1h-1zM33 42h1v1h-1zM35 42h1v1h-1zM41 42h1v1h-1zM52 42h1v1h-1zM59 42h1v1h-1zM108 42h1v1h-1zM110 42h1v1h-1zM115 42h1v1h-1zM117 42h2v1h-2zM124 42h3v1h-3zM140 42h1v1h-1zM153 42h1v1h-1zM164 42h2v1h-2zM3 43h1v1h-1zM19 43h2v1h-2zM27 43h1v1h-1zM48 43h2v1h-2zM57 43h1v1h-1zM60 43h1v1h-1zM62 43h1v1h-1zM64 43h2v1h-2zM68 43h1v1h-1zM70 43h1v1h-1zM86 43h1v1h-1zM95 43h1v1h-1zM109 43h1v1h-1zM116 43h1v1h-1zM158 43h1v1h-1zM161 43h1v1h-1zM165 43h1v1h-1zM1 44h1v1h-1zM23 44h1v1h-1zM48 44h2v1h-2zM64 44h2v1h-2zM78 44h1v1h-1zM108 44h1v1h-1zM112 44h1v1h-1zM114 44h1v1h-1zM133 44h1v1h-1zM142 44h1v1h-1zM151 44h1v1h-1zM154 44h1v1h-1zM164 44h1v1h-1zM169 44h1v1h-1zM173 44h2v1h-2zM2 45h1v1h-1zM20 45h1v1h-1zM25 45h1v1h-1zM30 45h1v1h-1zM35 45h1v1h-1zM40 45h2v1h-2zM44 45h2v1h-2zM52 45h1v1h-1zM64 45h1v1h-1zM72 45h1v1h-1zM77 45h1v1h-1zM83 45h1v1h-1zM117 45h2v1h-2zM125 45h1v1h-1zM130 45h2v1h-2zM146 45h1v1h-1zM152 45h1v1h-1zM162 45h2v1h-2zM7 46h3v1h-3zM18 46h1v1h-1zM25 46h1v1h-1zM45 46h1v1h-1zM80 46h1v1h-1zM89 46h1v1h-1zM108 46h1v1h-1zM140 46h1v1h-1zM7 47h1v1h-1zM16 47h2v1h-2zM19 47h1v1h-1zM38 47h2v1h-2zM47 47h1v1h-1zM69 47h1v1h-1zM75 47h1v1h-1zM77 47h1v1h-1zM98 47h2v1h-2zM142 47h1v1h-1zM2 48h1v1h-1zM14 48h1v1h-1zM47 48h1v1h-1zM49 48h1v1h-1zM56 48h2v1h-2zM59 48h1v1h-1zM80 48h1v1h-1zM82 48h1v1h-1zM84 48h1v1h-1zM86 48h1v1h-1zM102 48h1v1h-1zM147 48h1v1h-1zM152 48h1v1h-1zM173 48h1v1h-1z"/>
<path fill="#f6d7c6" d="M96 0h2v1h-2zM107 0h1v1h-1zM109 0h2v1h-2zM115 0h1v1h-1zM123 0h1v1h-1zM137 0h1v1h-1zM141 0h1v1h-1zM151 0h1v1h-1zM158 0h3v1h-3zM165 0h1v1h-1zM51 1h1v1h-1zM61 1h1v1h-1zM64 1h1v1h-1zM97 1h1v1h-1zM102 1h1v1h-1zM149 1h2v1h-2zM153 1h1v1h-1zM163 1h1v1h-1zM166 1h1v1h-1zM171 1h1v1h-1zM84 2h1v1h-1zM89 2h1v1h-1zM111 2h2v1h-2zM138 2h1v1h-1zM147 2h1v1h-1zM150 2h1v1h-1zM153 2h1v1h-1zM156 2h1v1h-1zM171 2h1v1h-1zM174 2h1v1h-1zM46 3h1v1h-1zM92 3h1v1h-1zM100 3h2v1h-2zM103 3h3v1h-3zM131 3h1v1h-1zM133 3h2v1h-2zM144 3h1v1h-1zM149 3h2v1h-2zM153 3h1v1h-1zM159 3h1v1h-1zM137 4h3v1h-3zM142 4h1v1h-1zM144 4h1v1h-1zM152 4h1v1h-1zM160 4h1v1h-1zM163 4h1v1h-1zM165 4h1v1h-1zM168 4h1v1h-1zM174 4h1v1h-1zM0 5h1v1h-1zM6 5h1v1h-1zM24 5h1v1h-1zM57 5h1v1h-1zM78 5h1v1h-1zM91 5h1v1h-1zM106 5h1v1h-1zM133 5h1v1h-1zM140 5h1v1h-1zM155 5h1v1h-1zM165 5h2v1h-2zM168 5h1v1h-1zM174 5h1v1h-1zM0 6h3v1h-3zM8 6h1v1h-1zM11 6h1v1h-1zM15 6h1v1h-1zM45 6h1v1h-1zM84 6h1v1h-1zM90 6h1v1h-1zM92 6h2v1h-2zM96 6h1v1h-1zM109 6h1v1h-1zM112 6h1v1h-1zM121 6h1v1h-1zM128 6h1v1h-1zM167 6h1v1h-1zM28 7h1v1h-1zM77 7h1v1h-1zM91 7h1v1h-1zM95 7h2v1h-2zM107 7h1v1h-1zM110 7h1v1h-1zM120 7h1v1h-1zM122 7h1v1h-1zM140 7h2v1h-2zM147 7h1v1h-1zM151 7h1v1h-1zM162 7h2v1h-2zM168 7h1v1h-1zM0 8h1v1h-1zM3 8h1v1h-1zM13 8h1v1h-1zM93 8h2v1h-2zM99 8h2v1h-2zM104 8h1v1h-1zM121 8h2v1h-2zM128 8h1v1h-1zM140 8h1v1h-1zM160 8h1v1h-1zM169 8h1v1h-1zM171 8h1v1h-1zM173 8h1v1h-1zM47 9h1v1h-1zM85 9h1v1h-1zM132 9h1v1h-1zM143 9h1v1h-1zM164 9h1v1h-1zM63 10h1v1h-1zM83 10h1v1h-1zM86 10h1v1h-1zM88 10h1v1h-1zM98 10h1v1h-1zM149 10h1v1h-1zM32 11h1v1h-1zM37 11h1v1h-1zM78 11h1v1h-1zM84 11h1v1h-1zM89 11h1v1h-1zM130 11h1v1h-1zM141 11h1v1h-1zM145 11h1v1h-1zM152 11h1v1h-1zM154 11h1v1h-1zM91 12h1v1h-1zM133 12h1v1h-1zM137 12h3v1h-3zM149 12h1v1h-1zM151 12h1v1h-1zM153 12h2v1h-2zM44 13h2v1h-2zM52 13h2v1h-2zM56 13h3v1h-3zM63 13h2v1h-2zM69 13h1v1h-1zM73 13h2v1h-2zM87 13h1v1h-1zM93 13h3v1h-3zM100 13h1v1h-1zM107 13h1v1h-1zM118 13h1v1h-1zM122 13h1v1h-1zM129 13h1v1h-1zM149 13h2v1h-2zM152 13h1v1h-1zM155 13h1v1h-1zM24 14h1v1h-1zM45 14h1v1h-1zM47 14h1v1h-1zM51 14h1v1h-1zM53 14h1v1h-1zM59 14h1v1h-1zM67 14h1v1h-1zM70 14h1v1h-1zM92 14h1v1h-1zM96 14h1v1h-1zM107 14h1v1h-1zM173 14h1v1h-1zM45 15h1v1h-1zM51 15h2v1h-2zM93 15h2v1h-2zM98 15h1v1h-1zM100 15h1v1h-1zM114 15h1v1h-1zM118 15h1v1h-1zM120 15h1v1h-1zM156 15h1v1h-1zM164 15h1v1h-1zM29 16h1v1h-1zM46 16h1v1h-1zM65 16h1v1h-1zM106 16h1v1h-1zM127 16h1v1h-1zM153 16h1v1h-1zM157 16h1v1h-1zM160 16h1v1h-1zM162 16h1v1h-1zM169 16h2v1h-2zM5 17h1v1h-1zM10 17h1v1h-1zM13 17h1v1h-1zM21 17h1v1h-1zM30 17h1v1h-1zM44 17h1v1h-1zM52 17h1v1h-1zM81 17h1v1h-1zM97 17h1v1h-1zM102 17h1v1h-1zM104 17h1v1h-1zM111 17h3v1h-3zM18 18h1v1h-1zM24 18h1v1h-1zM28 18h1v1h-1zM47 18h1v1h-1zM59 18h1v1h-1zM72 18h1v1h-1zM92 18h2v1h-2zM97 18h1v1h-1zM99 18h1v1h-1zM102 18h1v1h-1zM106 18h1v1h-1zM111 18h1v1h-1zM119 18h1v1h-1zM124 18h1v1h-1zM154 18h1v1h-1zM163 18h1v1h-1zM165 18h2v1h-2zM29 19h1v1h-1zM35 19h1v1h-1zM58 19h1v1h-1zM60 19h1v1h-1zM82 19h1v1h-1zM85 19h1v1h-1zM98 19h3v1h-3zM104 19h1v1h-1zM108 19h1v1h-1zM128 19h1v1h-1zM174 19h1v1h-1zM20 20h1v1h-1zM28 20h1v1h-1zM40 20h1v1h-1zM81 20h1v1h-1zM84 20h2v1h-2zM87 20h1v1h-1zM94 20h1v1h-1zM97 20h1v1h-1zM108 20h3v1h-3zM115 20h1v1h-1zM124 20h1v1h-1zM166 20h1v1h-1zM171 20h1v1h-1zM173 20h1v1h-1zM29 21h1v1h-1zM33 21h1v1h-1zM41 21h1v1h-1zM45 21h1v1h-1zM48 21h1v1h-1zM50 21h1v1h-1zM65 21h1v1h-1zM72 21h1v1h-1zM81 21h1v1h-1zM97 21h1v1h-1zM100 21h1v1h-1zM102 21h1v1h-1zM109 21h3v1h-3zM114 21h1v1h-1zM123 21h1v1h-1zM127 21h1v1h-1zM161 21h1v1h-1zM164 21h1v1h-1zM171 21h2v1h-2zM0 22h1v1h-1zM6 22h1v1h-1zM12 22h2v1h-2zM16 22h1v1h-1zM18 22h2v1h-2zM25 22h1v1h-1zM42 22h1v1h-1zM49 22h1v1h-1zM54 22h1v1h-1zM58 22h1v1h-1zM65 22h1v1h-1zM78 22h1v1h-1zM85 22h1v1h-1zM89 22h1v1h-1zM115 22h1v1h-1zM117 22h1v1h-1zM123 22h1v1h-1zM159 22h1v1h-1zM162 22h1v1h-1zM3 23h1v1h-1zM12 23h1v1h-1zM16 23h1v1h-1zM22 23h2v1h-2zM25 23h1v1h-1zM35 23h1v1h-1zM59 23h1v1h-1zM67 23h1v1h-1zM86 23h1v1h-1zM88 23h1v1h-1zM149 23h1v1h-1zM155 23h1v1h-1zM159 23h2v1h-2zM172 23h1v1h-1zM27 24h1v1h-1zM49 24h1v1h-1zM58 24h2v1h-2zM61 24h1v1h-1zM66 24h1v1h-1zM71 24h1v1h-1zM93 24h2v1h-2zM100 24h1v1h-1zM103 24h1v1h-1zM107 24h1v1h-1zM111 24h1v1h-1zM122 24h1v1h-1zM143 24h1v1h-1zM164 24h1v1h-1zM166 24h1v1h-1zM172 24h1v1h-1zM0 25h1v1h-1zM7 25h1v1h-1zM9 25h1v1h-1zM11 25h2v1h-2zM14 25h1v1h-1zM23 25h1v1h-1zM31 25h1v1h-1zM43 25h1v1h-1zM52 25h1v1h-1zM61 25h2v1h-2zM65 25h2v1h-2zM84 25h1v1h-1zM103 25h1v1h-1zM106 25h1v1h-1zM118 25h1v1h-1zM147 25h1v1h-1zM171 25h1v1h-1zM12 26h2v1h-2zM16 26h2v1h-2zM19 26h1v1h-1zM26 26h1v1h-1zM31 26h1v1h-1zM35 26h1v1h-1zM41 26h1v1h-1zM46 26h1v1h-1zM53 26h1v1h-1zM59 26h1v1h-1zM63 26h2v1h-2zM67 26h1v1h-1zM69 26h1v1h-1zM77 26h1v1h-1zM85 26h1v1h-1zM99 26h1v1h-1zM109 26h1v1h-1zM113 26h1v1h-1zM119 26h1v1h-1zM122 26h1v1h-1zM126 26h1v1h-1zM144 26h1v1h-1zM15 27h1v1h-1zM21 27h3v1h-3zM25 27h1v1h-1zM50 27h1v1h-1zM55 27h4v1h-4zM66 27h1v1h-1zM68 27h1v1h-1zM74 27h1v1h-1zM82 27h1v1h-1zM84 27h2v1h-2zM87 27h1v1h-1zM98 27h1v1h-1zM102 27h1v1h-1zM104 27h1v1h-1zM116 27h1v1h-1zM119 27h1v1h-1zM148 27h1v1h-1zM0 28h3v1h-3zM4 28h1v1h-1zM11 28h1v1h-1zM16 28h2v1h-2zM25 28h1v1h-1zM35 28h1v1h-1zM38 28h2v1h-2zM42 28h1v1h-1zM51 28h1v1h-1zM56 28h1v1h-1zM72 28h1v1h-1zM76 28h1v1h-1zM89 28h1v1h-1zM91 28h1v1h-1zM99 28h1v1h-1zM111 28h1v1h-1zM119 28h1v1h-1zM143 28h1v1h-1zM149 28h1v1h-1zM157 28h1v1h-1zM161 28h1v1h-1zM8 29h1v1h-1zM11 29h1v1h-1zM15 29h2v1h-2zM18 29h1v1h-1zM20 29h2v1h-2zM27 29h1v1h-1zM38 29h2v1h-2zM81 29h1v1h-1zM86 29h2v1h-2zM142 29h1v1h-1zM151 29h1v1h-1zM153 29h1v1h-1zM158 29h1v1h-1zM167 29h1v1h-1zM24 30h2v1h-2zM30 30h1v1h-1zM40 30h1v1h-1zM44 30h2v1h-2zM48 30h2v1h-2zM54 30h1v1h-1zM56 30h1v1h-1zM58 30h1v1h-1zM60 30h1v1h-1zM71 30h1v1h-1zM74 30h1v1h-1zM79 30h1v1h-1zM81 30h1v1h-1zM91 30h2v1h-2zM95 30h2v1h-2zM112 30h1v1h-1zM125 30h1v1h-1zM128 30h1v1h-1zM133 30h1v1h-1zM139 30h1v1h-1zM147 30h2v1h-2zM157 30h1v1h-1zM167 30h1v1h-1zM0 31h1v1h-1zM6 31h1v1h-1zM12 31h1v1h-1zM19 31h1v1h-1zM22 31h1v1h-1zM28 31h3v1h-3zM43 31h1v1h-1zM47 31h1v1h-1zM59 31h1v1h-1zM67 31h1v1h-1zM72 31h1v1h-1zM75 31h2v1h-2zM80 31h1v1h-1zM82 31h1v1h-1zM92 31h1v1h-1zM95 31h1v1h-1zM97 31h1v1h-1zM102 31h1v1h-1zM110 31h2v1h-2zM122 31h1v1h-1zM124 31h1v1h-1zM130 31h1v1h-1zM143 31h1v1h-1zM145 31h1v1h-1zM147 31h1v1h-1zM166 31h1v1h-1zM2 32h1v1h-1zM5 32h1v1h-1zM9 32h1v1h-1zM11 32h1v1h-1zM14 32h3v1h-3zM18 32h1v1h-1zM21 32h1v1h-1zM23 32h1v1h-1zM25 32h1v1h-1zM28 32h3v1h-3zM35 32h1v1h-1zM39 32h1v1h-1zM42 32h1v1h-1zM47 32h1v1h-1zM74 32h1v1h-1zM80 32h2v1h-2zM87 32h1v1h-1zM98 32h1v1h-1zM111 32h1v1h-1zM114 32h1v1h-1zM118 32h2v1h-2zM129 32h1v1h-1zM141 32h1v1h-1zM143 32h1v1h-1zM147 32h2v1h-2zM153 32h2v1h-2zM166 32h1v1h-1zM4 33h1v1h-1zM6 33h1v1h-1zM26 33h1v1h-1zM38 33h1v1h-1zM52 33h1v1h-1zM75 33h1v1h-1zM83 33h1v1h-1zM89 33h1v1h-1zM99 33h1v1h-1zM123 33h1v1h-1zM131 33h2v1h-2zM134 33h1v1h-1zM140 33h2v1h-2zM143 33h1v1h-1zM146 33h1v1h-1zM149 33h1v1h-1zM151 33h1v1h-1zM162 33h1v1h-1zM3 34h1v1h-1zM5 34h1v1h-1zM8 34h1v1h-1zM23 34h1v1h-1zM29 34h1v1h-1zM36 34h1v1h-1zM42 34h2v1h-2zM49 34h2v1h-2zM74 34h1v1h-1zM77 34h1v1h-1zM80 34h1v1h-1zM90 34h1v1h-1zM96 34h1v1h-1zM102 34h1v1h-1zM109 34h1v1h-1zM120 34h1v1h-1zM123 34h1v1h-1zM125 34h1v1h-1zM140 34h1v1h-1zM149 34h2v1h-2zM43 35h1v1h-1zM49 35h1v1h-1zM90 35h1v1h-1zM93 35h1v1h-1zM101 35h2v1h-2zM110 35h1v1h-1zM121 35h1v1h-1zM124 35h1v1h-1zM128 35h1v1h-1zM144 35h1v1h-1zM146 35h2v1h-2zM150 35h2v1h-2zM154 35h1v1h-1zM172 35h1v1h-1zM35 36h1v1h-1zM55 36h2v1h-2zM72 36h1v1h-1zM74 36h1v1h-1zM76 36h1v1h-1zM88 36h2v1h-2zM91 36h1v1h-1zM94 36h1v1h-1zM102 36h1v1h-1zM106 36h1v1h-1zM114 36h1v1h-1zM119 36h1v1h-1zM123 36h1v1h-1zM140 36h1v1h-1zM146 36h1v1h-1zM151 36h1v1h-1zM159 36h1v1h-1zM162 36h1v1h-1zM166 36h1v1h-1zM168 36h1v1h-1zM28 37h3v1h-3zM32 37h1v1h-1zM40 37h1v1h-1zM44 37h1v1h-1zM51 37h1v1h-1zM58 37h1v1h-1zM70 37h1v1h-1zM77 37h1v1h-1zM82 37h1v1h-1zM106 37h1v1h-1zM108 37h1v1h-1zM118 37h1v1h-1zM130 37h2v1h-2zM149 37h1v1h-1zM156 37h1v1h-1zM172 37h1v1h-1zM174 37h1v1h-1zM22 38h1v1h-1zM71 38h1v1h-1zM87 38h1v1h-1zM135 38h1v1h-1zM148 38h1v1h-1zM151 38h1v1h-1zM163 38h1v1h-1zM169 38h1v1h-1zM24 39h1v1h-1zM46 39h1v1h-1zM50 39h2v1h-2zM61 39h1v1h-1zM71 39h1v1h-1zM81 39h2v1h-2zM87 39h1v1h-1zM91 39h1v1h-1zM96 39h1v1h-1zM98 39h2v1h-2zM104 39h2v1h-2zM108 39h1v1h-1zM113 39h1v1h-1zM117 39h1v1h-1zM143 39h1v1h-1zM148 39h1v1h-1zM157 39h1v1h-1zM172 39h1v1h-1zM12 40h1v1h-1zM22 40h1v1h-1zM24 40h1v1h-1zM26 40h1v1h-1zM33 40h1v1h-1zM42 40h1v1h-1zM50 40h2v1h-2zM57 40h2v1h-2zM61 40h1v1h-1zM63 40h1v1h-1zM94 40h1v1h-1zM103 40h2v1h-2zM109 40h1v1h-1zM113 40h3v1h-3zM117 40h1v1h-1zM174 40h1v1h-1zM6 41h1v1h-1zM8 41h1v1h-1zM13 41h2v1h-2zM20 41h1v1h-1zM23 41h1v1h-1zM38 41h1v1h-1zM52 41h1v1h-1zM82 41h1v1h-1zM87 41h2v1h-2zM107 41h1v1h-1zM153 41h1v1h-1zM155 41h1v1h-1zM163 41h1v1h-1zM170 41h1v1h-1zM18 42h1v1h-1zM26 42h1v1h-1zM30 42h1v1h-1zM53 42h2v1h-2zM73 42h1v1h-1zM76 42h1v1h-1zM91 42h1v1h-1zM113 42h2v1h-2zM156 42h1v1h-1zM163 42h1v1h-1zM0 43h2v1h-2zM12 43h2v1h-2zM16 43h2v1h-2zM22 43h1v1h-1zM32 43h2v1h-2zM51 43h1v1h-1zM75 43h1v1h-1zM81 43h1v1h-1zM92 43h1v1h-1zM99 43h4v1h-4zM108 43h1v1h-1zM110 43h1v1h-1zM118 43h1v1h-1zM127 43h2v1h-2zM170 43h1v1h-1zM3 44h2v1h-2zM6 44h1v1h-1zM9 44h3v1h-3zM15 44h3v1h-3zM24 44h2v1h-2zM28 44h2v1h-2zM32 44h1v1h-1zM38 44h2v1h-2zM44 44h4v1h-4zM54 44h1v1h-1zM67 44h1v1h-1zM80 44h3v1h-3zM89 44h1v1h-1zM102 44h1v1h-1zM105 44h1v1h-1zM120 44h2v1h-2zM125 44h1v1h-1zM127 44h1v1h-1zM130 44h2v1h-2zM152 44h1v1h-1zM158 44h1v1h-1zM160 44h1v1h-1zM165 44h1v1h-1zM168 44h1v1h-1zM171 44h1v1h-1zM11 45h1v1h-1zM14 45h1v1h-1zM26 45h2v1h-2zM31 45h3v1h-3zM36 45h1v1h-1zM51 45h1v1h-1zM60 45h1v1h-1zM66 45h1v1h-1zM69 45h1v1h-1zM73 45h1v1h-1zM76 45h1v1h-1zM82 45h1v1h-1zM87 45h1v1h-1zM92 45h1v1h-1zM96 45h1v1h-1zM100 45h1v1h-1zM111 45h3v1h-3zM119 45h1v1h-1zM129 45h1v1h-1zM145 45h1v1h-1zM161 45h1v1h-1zM164 45h1v1h-1zM169 45h1v1h-1zM0 46h2v1h-2zM6 46h1v1h-1zM19 46h1v1h-1zM41 46h1v1h-1zM43 46h1v1h-1zM50 46h1v1h-1zM74 46h1v1h-1zM81 46h1v1h-1zM85 46h1v1h-1zM92 46h1v1h-1zM95 46h1v1h-1zM112 46h1v1h-1zM121 46h1v1h-1zM123 46h1v1h-1zM127 46h1v1h-1zM129 46h1v1h-1zM161 46h1v1h-1zM170 46h1v1h-1zM174 46h1v1h-1zM0 47h1v1h-1zM5 47h1v1h-1zM8 47h1v1h-1zM10 47h1v1h-1zM12 47h1v1h-1zM14 47h2v1h-2zM31 47h3v1h-3zM36 47h1v1h-1zM68 47h1v1h-1zM84 47h1v1h-1zM87 47h1v1h-1zM90 47h1v1h-1zM100 47h2v1h-2zM103 47h1v1h-1zM128 47h1v1h-1zM130 47h2v1h-2zM140 47h1v1h-1zM0 48h1v1h-1zM3 48h1v1h-1zM5 48h1v1h-1zM8 48h1v1h-1zM10 48h1v1h-1zM12 48h1v1h-1zM15 48h1v1h-1zM26 48h1v1h-1zM34 48h2v1h-2zM45 48h1v1h-1zM50 48h3v1h-3zM55 48h1v1h-1zM68 48h1v1h-1zM70 48h2v1h-2zM73 48h1v1h-1zM78 48h1v1h-1zM83 48h1v1h-1zM88 48h1v1h-1zM98 48h2v1h-2zM103 48h1v1h-1zM106 48h1v1h-1zM119 48h1v1h-1zM140 48h1v1h-1zM142 48h1v1h-1zM153 48h1v1h-1z"/>
<path fill="#f3c9b6" d="M95 0h1v1h-1zM98 0h1v1h-1zM100 0h1v1h-1zM114 0h1v1h-1zM144 0h1v1h-1zM148 0h1v1h-1zM173 0h1v1h-1zM60 1h1v1h-1zM137 1h1v1h-1zM147 1h1v1h-1zM156 1h1v1h-1zM165 1h1v1h-1zM170 1h1v1h-1zM151 2h1v1h-1zM163 2h1v1h-1zM168 2h1v1h-1zM172 2h1v1h-1zM132 3h1v1h-1zM155 3h1v1h-1zM157 3h1v1h-1zM150 4h2v1h-2zM136 5h1v1h-1zM148 5h1v1h-1zM173 5h1v1h-1zM95 6h1v1h-1zM125 6h1v1h-1zM159 6h1v1h-1zM170 6h1v1h-1zM101 7h2v1h-2zM143 7h1v1h-1zM11 8h2v1h-2zM15 8h1v1h-1zM91 8h1v1h-1zM89 9h1v1h-1zM96 9h2v1h-2zM141 9h1v1h-1zM159 9h1v1h-1zM162 9h1v1h-1zM93 10h1v1h-1zM136 10h1v1h-1zM144 10h1v1h-1zM150 10h1v1h-1zM131 11h1v1h-1zM143 11h1v1h-1zM164 11h1v1h-1zM166 11h1v1h-1zM140 12h3v1h-3zM150 12h1v1h-1zM164 12h1v1h-1zM28 13h1v1h-1zM32 13h1v1h-1zM34 13h3v1h-3zM54 13h2v1h-2zM82 13h1v1h-1zM101 13h1v1h-1zM20 14h1v1h-1zM35 14h1v1h-1zM48 14h1v1h-1zM52 14h1v1h-1zM54 14h1v1h-1zM57 14h2v1h-2zM60 14h1v1h-1zM65 14h1v1h-1zM71 14h1v1h-1zM74 14h2v1h-2zM91 14h1v1h-1zM98 14h1v1h-1zM100 14h1v1h-1zM102 14h1v1h-1zM106 14h1v1h-1zM108 14h1v1h-1zM118 14h1v1h-1zM122 14h1v1h-1zM129 14h1v1h-1zM63 15h1v1h-1zM99 15h1v1h-1zM101 15h1v1h-1zM115 15h2v1h-2zM127 15h3v1h-3zM49 16h1v1h-1zM52 16h1v1h-1zM71 16h1v1h-1zM73 16h1v1h-1zM82 16h1v1h-1zM90 16h1v1h-1zM105 16h1v1h-1zM112 16h1v1h-1zM120 16h1v1h-1zM124 16h1v1h-1zM165 16h1v1h-1zM172 16h1v1h-1zM12 17h1v1h-1zM15 17h1v1h-1zM19 17h2v1h-2zM34 17h1v1h-1zM53 17h1v1h-1zM57 17h1v1h-1zM60 17h2v1h-2zM72 17h1v1h-1zM76 17h1v1h-1zM78 17h1v1h-1zM82 17h1v1h-1zM86 17h1v1h-1zM96 17h1v1h-1zM100 17h1v1h-1zM5 18h3v1h-3zM10 18h1v1h-1zM14 18h1v1h-1zM29 18h1v1h-1zM57 18h2v1h-2zM62 18h1v1h-1zM71 18h1v1h-1zM89 18h1v1h-1zM91 18h1v1h-1zM100 18h2v1h-2zM129 18h1v1h-1zM164 18h1v1h-1zM33 19h1v1h-1zM71 19h1v1h-1zM74 19h1v1h-1zM80 19h1v1h-1zM90 19h1v1h-1zM102 19h1v1h-1zM112 19h1v1h-1zM116 19h1v1h-1zM118 19h1v1h-1zM120 19h1v1h-1zM127 19h1v1h-1zM30 20h1v1h-1zM74 20h1v1h-1zM82 20h1v1h-1zM95 20h1v1h-1zM100 20h1v1h-1zM120 20h1v1h-1zM125 20h1v1h-1zM159 20h1v1h-1zM161 20h1v1h-1zM169 20h1v1h-1zM172 20h1v1h-1zM30 21h1v1h-1zM32 21h1v1h-1zM46 21h1v1h-1zM51 21h1v1h-1zM60 21h1v1h-1zM63 21h1v1h-1zM74 21h1v1h-1zM89 21h1v1h-1zM99 21h1v1h-1zM118 21h1v1h-1zM120 21h1v1h-1zM128 21h1v1h-1zM130 21h1v1h-1zM174 21h1v1h-1zM47 22h2v1h-2zM51 22h1v1h-1zM53 22h1v1h-1zM56 22h2v1h-2zM60 22h1v1h-1zM71 22h1v1h-1zM97 22h1v1h-1zM100 22h1v1h-1zM103 22h1v1h-1zM10 23h1v1h-1zM24 23h1v1h-1zM32 23h1v1h-1zM36 23h1v1h-1zM53 23h1v1h-1zM75 23h1v1h-1zM77 23h1v1h-1zM91 23h2v1h-2zM95 23h1v1h-1zM129 23h1v1h-1zM156 23h2v1h-2zM42 24h1v1h-1zM47 24h1v1h-1zM52 24h1v1h-1zM102 24h1v1h-1zM108 24h1v1h-1zM110 24h1v1h-1zM118 24h1v1h-1zM124 24h1v1h-1zM128 24h1v1h-1zM144 24h1v1h-1zM5 25h1v1h-1zM10 25h1v1h-1zM22 25h1v1h-1zM29 25h2v1h-2zM41 25h1v1h-1zM55 25h2v1h-2zM123 25h1v1h-1zM47 26h2v1h-2zM54 26h1v1h-1zM60 26h2v1h-2zM71 26h1v1h-1zM79 26h1v1h-1zM84 26h1v1h-1zM102 26h1v1h-1zM104 26h1v1h-1zM24 27h1v1h-1zM32 27h1v1h-1zM44 27h1v1h-1zM52 27h1v1h-1zM59 27h1v1h-1zM73 27h1v1h-1zM77 27h1v1h-1zM86 27h1v1h-1zM111 27h2v1h-2zM138 27h1v1h-1zM141 27h1v1h-1zM3 28h1v1h-1zM9 28h2v1h-2zM13 28h1v1h-1zM24 28h1v1h-1zM26 28h1v1h-1zM37 28h1v1h-1zM47 28h1v1h-1zM86 28h2v1h-2zM109 28h1v1h-1zM142 28h1v1h-1zM162 28h1v1h-1zM9 29h2v1h-2zM19 29h1v1h-1zM22 29h1v1h-1zM24 29h3v1h-3zM36 29h1v1h-1zM54 29h1v1h-1zM69 29h1v1h-1zM80 29h1v1h-1zM160 29h1v1h-1zM5 30h2v1h-2zM8 30h2v1h-2zM18 30h1v1h-1zM22 30h1v1h-1zM29 30h1v1h-1zM34 30h1v1h-1zM41 30h1v1h-1zM50 30h1v1h-1zM52 30h1v1h-1zM57 30h1v1h-1zM70 30h1v1h-1zM97 30h1v1h-1zM100 30h1v1h-1zM120 30h2v1h-2zM142 30h1v1h-1zM145 30h1v1h-1zM8 31h1v1h-1zM11 31h1v1h-1zM16 31h1v1h-1zM18 31h1v1h-1zM21 31h1v1h-1zM32 31h1v1h-1zM41 31h2v1h-2zM44 31h1v1h-1zM70 31h1v1h-1zM81 31h1v1h-1zM91 31h1v1h-1zM96 31h1v1h-1zM109 31h1v1h-1zM117 31h1v1h-1zM126 31h1v1h-1zM128 31h2v1h-2zM169 31h1v1h-1zM24 32h1v1h-1zM34 32h1v1h-1zM38 32h1v1h-1zM44 32h2v1h-2zM79 32h1v1h-1zM82 32h1v1h-1zM86 32h1v1h-1zM120 32h1v1h-1zM123 32h1v1h-1zM126 32h1v1h-1zM146 32h1v1h-1zM162 32h1v1h-1zM29 33h1v1h-1zM31 33h1v1h-1zM36 33h1v1h-1zM81 33h2v1h-2zM119 33h1v1h-1zM122 33h1v1h-1zM137 33h1v1h-1zM155 33h1v1h-1zM166 33h1v1h-1zM169 33h1v1h-1zM30 34h1v1h-1zM121 34h1v1h-1zM44 35h1v1h-1zM46 35h1v1h-1zM84 35h1v1h-1zM88 35h1v1h-1zM94 35h2v1h-2zM112 35h1v1h-1zM119 35h1v1h-1zM129 35h1v1h-1zM59 36h1v1h-1zM68 36h1v1h-1zM84 36h1v1h-1zM92 36h2v1h-2zM121 36h1v1h-1zM129 36h1v1h-1zM144 36h1v1h-1zM52 37h1v1h-1zM57 37h1v1h-1zM88 37h2v1h-2zM124 37h1v1h-1zM155 37h1v1h-1zM169 37h2v1h-2zM44 38h1v1h-1zM67 38h1v1h-1zM86 38h1v1h-1zM88 38h1v1h-1zM152 38h1v1h-1zM157 38h1v1h-1zM159 38h2v1h-2zM40 39h2v1h-2zM60 39h1v1h-1zM95 39h1v1h-1zM144 39h4v1h-4zM163 39h1v1h-1zM174 39h1v1h-1zM18 40h1v1h-1zM21 40h1v1h-1zM54 40h1v1h-1zM81 40h2v1h-2zM85 40h1v1h-1zM89 40h2v1h-2zM93 40h1v1h-1zM96 40h1v1h-1zM102 40h1v1h-1zM107 40h2v1h-2zM110 40h1v1h-1zM116 40h1v1h-1zM120 40h1v1h-1zM15 41h1v1h-1zM17 41h1v1h-1zM86 41h1v1h-1zM9 42h1v1h-1zM14 42h1v1h-1zM27 42h1v1h-1zM37 42h1v1h-1zM55 42h2v1h-2zM83 42h1v1h-1zM88 42h1v1h-1zM109 42h1v1h-1zM111 42h1v1h-1zM162 42h1v1h-1zM6 43h1v1h-1zM11 43h1v1h-1zM50 43h1v1h-1zM58 43h1v1h-1zM98 43h1v1h-1zM125 43h1v1h-1zM169 43h1v1h-1zM171 43h3v1h-3zM14 44h1v1h-1zM18 44h1v1h-1zM33 44h1v1h-1zM40 44h1v1h-1zM51 44h1v1h-1zM53 44h1v1h-1zM79 44h1v1h-1zM84 44h1v1h-1zM87 44h1v1h-1zM92 44h1v1h-1zM99 44h1v1h-1zM104 44h1v1h-1zM129 44h1v1h-1zM144 44h1v1h-1zM157 44h1v1h-1zM0 45h2v1h-2zM4 45h1v1h-1zM6 45h1v1h-1zM13 45h1v1h-1zM16 45h2v1h-2zM37 45h1v1h-1zM67 45h2v1h-2zM70 45h1v1h-1zM74 45h2v1h-2zM79 45h1v1h-1zM81 45h1v1h-1zM85 45h1v1h-1zM103 45h1v1h-1zM123 45h1v1h-1zM126 45h2v1h-2zM4 46h1v1h-1zM30 46h1v1h-1zM40 46h1v1h-1zM46 46h1v1h-1zM65 46h1v1h-1zM71 46h1v1h-1zM75 46h1v1h-1zM78 46h1v1h-1zM120 46h1v1h-1zM128 46h1v1h-1zM2 47h1v1h-1zM4 47h1v1h-1zM6 47h1v1h-1zM13 47h1v1h-1zM37 47h1v1h-1zM4 48h1v1h-1zM6 48h2v1h-2zM31 48h1v1h-1zM44 48h1v1h-1zM48 48h1v1h-1zM58 48h1v1h-1zM81 48h1v1h-1z"/>
<path fill="#f0bba5" d="M111 0h1v1h-1zM147 4h1v1h-1zM94 5h1v1h-1zM173 6h1v1h-1zM92 7h1v1h-1zM92 8h1v1h-1zM149 8h1v1h-1zM174 8h1v1h-1zM99 9h1v1h-1zM157 9h1v1h-1zM161 12h1v1h-1zM165 12h1v1h-1zM170 12h1v1h-1zM78 13h1v1h-1zM115 13h1v1h-1zM124 13h1v1h-1zM168 13h1v1h-1zM87 14h1v1h-1zM114 14h1v1h-1zM119 14h1v1h-1zM50 15h1v1h-1zM131 15h1v1h-1zM28 16h1v1h-1zM78 16h1v1h-1zM87 16h1v1h-1zM31 17h1v1h-1zM49 17h1v1h-1zM124 17h1v1h-1zM144 17h1v1h-1zM98 18h1v1h-1zM53 19h1v1h-1zM68 19h1v1h-1zM131 19h1v1h-1zM59 21h1v1h-1zM30 22h1v1h-1zM35 22h1v1h-1zM83 22h1v1h-1zM35 24h1v1h-1zM60 24h1v1h-1zM82 24h1v1h-1zM90 24h1v1h-1zM96 24h1v1h-1zM136 24h1v1h-1zM19 25h1v1h-1zM53 25h1v1h-1zM127 25h1v1h-1zM73 26h2v1h-2zM37 27h1v1h-1zM69 27h1v1h-1zM105 27h1v1h-1zM75 28h1v1h-1zM140 28h1v1h-1zM166 28h1v1h-1zM161 29h1v1h-1zM1 30h1v1h-1zM26 30h1v1h-1zM129 30h1v1h-1zM137 30h1v1h-1zM151 30h1v1h-1zM162 31h1v1h-1zM125 32h1v1h-1zM144 33h1v1h-1zM153 33h2v1h-2zM29 36h1v1h-1zM64 36h1v1h-1zM112 36h1v1h-1zM99 38h1v1h-1zM10 40h1v1h-1zM124 40h1v1h-1zM44 41h1v1h-1zM158 41h1v1h-1zM2 42h1v1h-1zM16 42h1v1h-1zM75 42h1v1h-1zM77 42h1v1h-1zM130 42h1v1h-1zM158 42h1v1h-1zM10 43h1v1h-1zM84 43h1v1h-1zM115 43h1v1h-1zM119 43h1v1h-1zM68 46h1v1h-1zM90 46h1v1h-1zM102 46h1v1h-1zM130 46h1v1h-1zM147 47h1v1h-1zM174 48h1v1h-1z"/>
<path fill="#ecad94" d="M91 0h1v1h-1zM103 0h1v1h-1zM112 0h1v1h-1zM70 1h1v1h-1zM142 1h1v1h-1zM146 1h1v1h-1zM169 1h1v1h-1zM172 1h1v1h-1zM132 2h2v1h-2zM137 2h1v1h-1zM142 2h4v1h-4zM148 2h2v1h-2zM157 2h1v1h-1zM162 2h1v1h-1zM165 2h2v1h-2zM170 2h1v1h-1zM106 3h1v1h-1zM142 3h1v1h-1zM146 3h1v1h-1zM143 4h1v1h-1zM149 4h1v1h-1zM162 4h1v1h-1zM166 4h1v1h-1zM103 5h1v1h-1zM139 5h1v1h-1zM149 5h1v1h-1zM153 5h2v1h-2zM169 5h1v1h-1zM171 5h1v1h-1zM123 6h1v1h-1zM143 6h1v1h-1zM158 6h1v1h-1zM171 6h1v1h-1zM104 7h1v1h-1zM97 8h1v1h-1zM83 9h1v1h-1zM133 9h1v1h-1zM174 9h1v1h-1zM132 10h1v1h-1zM138 10h1v1h-1zM141 10h1v1h-1zM146 10h3v1h-3zM157 10h1v1h-1zM132 11h1v1h-1zM140 11h1v1h-1zM144 11h1v1h-1zM161 11h1v1h-1zM165 11h1v1h-1zM145 12h1v1h-1zM167 12h1v1h-1zM75 13h1v1h-1zM79 13h1v1h-1zM85 13h1v1h-1zM92 13h1v1h-1zM109 13h1v1h-1zM111 13h1v1h-1zM114 13h1v1h-1zM117 13h1v1h-1zM119 13h1v1h-1zM121 13h1v1h-1zM130 13h1v1h-1zM157 13h1v1h-1zM161 13h1v1h-1zM164 13h1v1h-1zM174 13h1v1h-1zM10 14h1v1h-1zM16 14h1v1h-1zM18 14h1v1h-1zM22 14h1v1h-1zM28 14h1v1h-1zM32 14h2v1h-2zM44 14h1v1h-1zM56 14h1v1h-1zM64 14h1v1h-1zM66 14h1v1h-1zM68 14h1v1h-1zM72 14h1v1h-1zM76 14h2v1h-2zM82 14h1v1h-1zM85 14h1v1h-1zM97 14h1v1h-1zM101 14h1v1h-1zM121 14h1v1h-1zM126 14h3v1h-3zM152 14h1v1h-1zM34 15h1v1h-1zM47 15h1v1h-1zM53 15h1v1h-1zM57 15h1v1h-1zM67 15h1v1h-1zM70 15h1v1h-1zM76 15h1v1h-1zM83 15h1v1h-1zM85 15h1v1h-1zM90 15h1v1h-1zM130 15h1v1h-1zM30 16h2v1h-2zM45 16h1v1h-1zM50 16h1v1h-1zM60 16h1v1h-1zM74 16h1v1h-1zM113 16h1v1h-1zM116 16h1v1h-1zM122 16h1v1h-1zM125 16h2v1h-2zM131 16h1v1h-1zM164 16h1v1h-1zM6 17h2v1h-2zM9 17h1v1h-1zM17 17h1v1h-1zM25 17h1v1h-1zM29 17h1v1h-1zM51 17h1v1h-1zM55 17h2v1h-2zM63 17h1v1h-1zM65 17h1v1h-1zM71 17h1v1h-1zM75 17h1v1h-1zM77 17h1v1h-1zM80 17h1v1h-1zM87 17h1v1h-1zM90 17h1v1h-1zM99 17h1v1h-1zM101 17h1v1h-1zM106 17h1v1h-1zM109 17h1v1h-1zM115 17h1v1h-1zM125 17h1v1h-1zM127 17h1v1h-1zM0 18h1v1h-1zM2 18h1v1h-1zM9 18h1v1h-1zM13 18h1v1h-1zM45 18h1v1h-1zM49 18h1v1h-1zM54 18h1v1h-1zM65 18h3v1h-3zM70 18h1v1h-1zM74 18h1v1h-1zM85 18h1v1h-1zM105 18h1v1h-1zM108 18h1v1h-1zM118 18h1v1h-1zM126 18h1v1h-1zM14 19h1v1h-1zM28 19h1v1h-1zM34 19h1v1h-1zM59 19h1v1h-1zM61 19h1v1h-1zM63 19h1v1h-1zM72 19h1v1h-1zM76 19h1v1h-1zM109 19h2v1h-2zM114 19h2v1h-2zM117 19h1v1h-1zM121 19h1v1h-1zM123 19h2v1h-2zM130 19h1v1h-1zM164 19h1v1h-1zM0 20h1v1h-1zM8 20h1v1h-1zM42 20h2v1h-2zM45 20h1v1h-1zM49 20h1v1h-1zM55 20h2v1h-2zM61 20h1v1h-1zM69 20h2v1h-2zM73 20h1v1h-1zM98 20h1v1h-1zM119 20h1v1h-1zM122 20h2v1h-2zM129 20h1v1h-1zM140 20h1v1h-1zM21 21h1v1h-1zM24 21h1v1h-1zM27 21h1v1h-1zM39 21h1v1h-1zM43 21h1v1h-1zM47 21h1v1h-1zM62 21h1v1h-1zM76 21h1v1h-1zM79 21h2v1h-2zM83 21h1v1h-1zM85 21h1v1h-1zM88 21h1v1h-1zM122 21h1v1h-1zM173 21h1v1h-1zM2 22h1v1h-1zM9 22h1v1h-1zM41 22h1v1h-1zM59 22h1v1h-1zM64 22h1v1h-1zM67 22h1v1h-1zM105 22h1v1h-1zM11 23h1v1h-1zM27 23h1v1h-1zM34 23h1v1h-1zM40 23h1v1h-1zM43 23h1v1h-1zM46 23h2v1h-2zM58 23h1v1h-1zM60 23h1v1h-1zM62 23h1v1h-1zM65 23h1v1h-1zM68 23h3v1h-3zM121 23h1v1h-1zM127 23h1v1h-1zM150 23h1v1h-1zM158 23h1v1h-1zM32 24h2v1h-2zM51 24h1v1h-1zM56 24h1v1h-1zM84 24h1v1h-1zM105 24h2v1h-2zM116 24h1v1h-1zM121 24h1v1h-1zM130 24h2v1h-2zM15 25h2v1h-2zM18 25h1v1h-1zM28 25h1v1h-1zM38 25h1v1h-1zM42 25h1v1h-1zM48 25h2v1h-2zM71 25h1v1h-1zM105 25h1v1h-1zM108 25h1v1h-1zM117 25h1v1h-1zM121 25h1v1h-1zM33 26h2v1h-2zM36 26h1v1h-1zM56 26h1v1h-1zM83 26h1v1h-1zM103 26h1v1h-1zM105 26h2v1h-2zM108 26h1v1h-1zM114 26h1v1h-1zM121 26h1v1h-1zM7 27h3v1h-3zM30 27h1v1h-1zM34 27h1v1h-1zM41 27h1v1h-1zM60 27h1v1h-1zM62 27h1v1h-1zM79 27h1v1h-1zM90 27h1v1h-1zM109 27h1v1h-1zM120 27h1v1h-1zM129 27h1v1h-1zM142 27h1v1h-1zM7 28h1v1h-1zM15 28h1v1h-1zM54 28h1v1h-1zM84 28h1v1h-1zM95 28h1v1h-1zM129 28h1v1h-1zM133 28h1v1h-1zM151 28h1v1h-1zM160 28h1v1h-1zM2 29h2v1h-2zM5 29h2v1h-2zM12 29h1v1h-1zM23 29h1v1h-1zM55 29h2v1h-2zM76 29h1v1h-1zM85 29h1v1h-1zM99 29h1v1h-1zM133 29h1v1h-1zM146 29h1v1h-1zM157 29h1v1h-1zM159 29h1v1h-1zM162 29h1v1h-1zM165 29h2v1h-2zM2 30h1v1h-1zM4 30h1v1h-1zM7 30h1v1h-1zM16 30h1v1h-1zM21 30h1v1h-1zM35 30h1v1h-1zM62 30h1v1h-1zM69 30h1v1h-1zM90 30h1v1h-1zM122 30h1v1h-1zM158 30h1v1h-1zM166 30h1v1h-1zM4 31h1v1h-1zM27 31h1v1h-1zM35 31h1v1h-1zM50 31h1v1h-1zM68 31h1v1h-1zM83 31h1v1h-1zM85 31h2v1h-2zM89 31h1v1h-1zM99 31h1v1h-1zM140 31h1v1h-1zM144 31h1v1h-1zM157 31h2v1h-2zM171 31h1v1h-1zM7 32h2v1h-2zM10 32h1v1h-1zM19 32h1v1h-1zM40 32h1v1h-1zM121 32h2v1h-2zM160 32h1v1h-1zM165 32h1v1h-1zM69 33h1v1h-1zM84 33h2v1h-2zM135 33h1v1h-1zM148 33h1v1h-1zM158 33h4v1h-4zM164 33h2v1h-2zM27 34h1v1h-1zM35 34h1v1h-1zM39 34h1v1h-1zM44 34h1v1h-1zM75 34h1v1h-1zM83 34h1v1h-1zM85 34h1v1h-1zM88 34h2v1h-2zM114 34h2v1h-2zM144 34h1v1h-1zM34 35h1v1h-1zM37 35h1v1h-1zM66 35h1v1h-1zM82 35h1v1h-1zM85 35h1v1h-1zM97 35h2v1h-2zM103 35h1v1h-1zM105 35h2v1h-2zM118 35h1v1h-1zM120 35h1v1h-1zM145 35h1v1h-1zM158 35h1v1h-1zM40 36h1v1h-1zM45 36h2v1h-2zM49 36h1v1h-1zM52 36h1v1h-1zM63 36h1v1h-1zM83 36h1v1h-1zM95 36h1v1h-1zM99 36h1v1h-1zM105 36h1v1h-1zM122 36h1v1h-1zM124 36h1v1h-1zM147 36h2v1h-2zM164 36h2v1h-2zM35 37h1v1h-1zM41 37h1v1h-1zM56 37h1v1h-1zM73 37h1v1h-1zM78 37h1v1h-1zM83 37h1v1h-1zM87 37h1v1h-1zM93 37h2v1h-2zM173 37h1v1h-1zM98 38h1v1h-1zM145 38h2v1h-2zM168 38h1v1h-1zM170 38h1v1h-1zM47 39h1v1h-1zM70 39h1v1h-1zM83 39h1v1h-1zM89 39h1v1h-1zM127 39h2v1h-2zM132 39h3v1h-3zM158 39h2v1h-2zM169 39h1v1h-1zM173 39h1v1h-1zM5 40h2v1h-2zM11 40h1v1h-1zM15 40h1v1h-1zM25 40h1v1h-1zM56 40h1v1h-1zM64 40h1v1h-1zM88 40h1v1h-1zM95 40h1v1h-1zM121 40h1v1h-1zM131 40h1v1h-1zM157 40h1v1h-1zM161 40h1v1h-1zM4 41h1v1h-1zM12 41h1v1h-1zM19 41h1v1h-1zM42 41h1v1h-1zM76 41h1v1h-1zM81 41h1v1h-1zM83 41h1v1h-1zM95 41h1v1h-1zM130 41h2v1h-2zM149 41h1v1h-1zM157 41h1v1h-1zM171 41h1v1h-1zM173 41h1v1h-1zM5 42h1v1h-1zM12 42h2v1h-2zM20 42h1v1h-1zM38 42h2v1h-2zM84 42h1v1h-1zM107 42h1v1h-1zM169 42h1v1h-1zM5 43h1v1h-1zM18 43h1v1h-1zM45 43h1v1h-1zM56 43h1v1h-1zM104 43h1v1h-1zM107 43h1v1h-1zM114 43h1v1h-1zM120 43h2v1h-2zM164 43h1v1h-1zM174 43h1v1h-1zM8 44h1v1h-1zM12 44h1v1h-1zM22 44h1v1h-1zM36 44h1v1h-1zM42 44h1v1h-1zM52 44h1v1h-1zM56 44h1v1h-1zM63 44h1v1h-1zM85 44h2v1h-2zM109 44h1v1h-1zM148 44h1v1h-1zM161 44h1v1h-1zM3 45h1v1h-1zM5 45h1v1h-1zM10 45h1v1h-1zM19 45h1v1h-1zM39 45h1v1h-1zM62 45h1v1h-1zM101 45h1v1h-1zM158 45h1v1h-1zM170 45h3v1h-3zM2 46h1v1h-1zM28 46h1v1h-1zM31 46h1v1h-1zM34 46h1v1h-1zM36 46h1v1h-1zM66 46h1v1h-1zM73 46h1v1h-1zM86 46h3v1h-3zM109 46h1v1h-1zM125 46h1v1h-1zM171 46h1v1h-1zM173 46h1v1h-1zM79 47h1v1h-1zM89 47h1v1h-1zM107 47h1v1h-1zM112 47h2v1h-2zM173 47h2v1h-2zM32 48h1v1h-1zM38 48h2v1h-2zM69 48h1v1h-1zM75 48h1v1h-1zM79 48h1v1h-1zM107 48h1v1h-1zM113 48h1v1h-1z"/>
<path fill="#e99f84" d="M140 0h1v1h-1zM142 0h1v1h-1zM146 0h1v1h-1zM152 0h1v1h-1zM170 0h2v1h-2zM174 0h1v1h-1zM140 1h1v1h-1zM148 1h1v1h-1zM151 1h1v1h-1zM157 1h2v1h-2zM135 2h2v1h-2zM140 2h1v1h-1zM146 2h1v1h-1zM159 2h1v1h-1zM52 3h1v1h-1zM139 3h1v1h-1zM147 3h1v1h-1zM156 3h1v1h-1zM148 4h1v1h-1zM169 4h1v1h-1zM172 4h1v1h-1zM92 5h2v1h-2zM137 5h1v1h-1zM150 5h1v1h-1zM158 5h2v1h-2zM5 6h1v1h-1zM145 6h1v1h-1zM160 6h2v1h-2zM164 6h1v1h-1zM174 6h1v1h-1zM7 7h1v1h-1zM8 8h1v1h-1zM103 8h1v1h-1zM161 8h1v1h-1zM134 9h1v1h-1zM142 9h1v1h-1zM144 9h1v1h-1zM149 9h1v1h-1zM160 9h1v1h-1zM169 9h1v1h-1zM171 9h1v1h-1zM85 10h1v1h-1zM135 10h1v1h-1zM143 10h1v1h-1zM164 10h1v1h-1zM166 10h2v1h-2zM138 11h1v1h-1zM151 11h1v1h-1zM159 11h1v1h-1zM170 11h1v1h-1zM163 12h1v1h-1zM173 12h2v1h-2zM18 13h1v1h-1zM26 13h1v1h-1zM37 13h5v1h-5zM76 13h1v1h-1zM80 13h1v1h-1zM110 13h1v1h-1zM123 13h1v1h-1zM125 13h2v1h-2zM128 13h1v1h-1zM131 13h1v1h-1zM154 13h1v1h-1zM156 13h1v1h-1zM160 13h1v1h-1zM163 13h1v1h-1zM171 13h1v1h-1zM173 13h1v1h-1zM12 14h1v1h-1zM23 14h1v1h-1zM29 14h1v1h-1zM41 14h1v1h-1zM55 14h1v1h-1zM63 14h1v1h-1zM80 14h1v1h-1zM93 14h2v1h-2zM104 14h1v1h-1zM109 14h2v1h-2zM115 14h1v1h-1zM117 14h1v1h-1zM120 14h1v1h-1zM123 14h1v1h-1zM29 15h3v1h-3zM33 15h1v1h-1zM43 15h2v1h-2zM48 15h1v1h-1zM54 15h2v1h-2zM58 15h1v1h-1zM60 15h1v1h-1zM62 15h1v1h-1zM72 15h1v1h-1zM84 15h1v1h-1zM125 15h1v1h-1zM173 15h2v1h-2zM41 16h1v1h-1zM43 16h1v1h-1zM54 16h1v1h-1zM57 16h3v1h-3zM61 16h1v1h-1zM63 16h1v1h-1zM66 16h1v1h-1zM70 16h1v1h-1zM75 16h1v1h-1zM84 16h2v1h-2zM96 16h2v1h-2zM100 16h5v1h-5zM114 16h1v1h-1zM117 16h2v1h-2zM152 16h1v1h-1zM161 16h1v1h-1zM163 16h1v1h-1zM174 16h1v1h-1zM1 17h2v1h-2zM11 17h1v1h-1zM14 17h1v1h-1zM16 17h1v1h-1zM23 17h1v1h-1zM42 17h1v1h-1zM62 17h1v1h-1zM68 17h1v1h-1zM74 17h1v1h-1zM98 17h1v1h-1zM110 17h1v1h-1zM114 17h1v1h-1zM118 17h1v1h-1zM130 17h2v1h-2zM11 18h2v1h-2zM17 18h1v1h-1zM30 18h1v1h-1zM34 18h1v1h-1zM41 18h1v1h-1zM43 18h2v1h-2zM46 18h1v1h-1zM50 18h1v1h-1zM52 18h1v1h-1zM55 18h1v1h-1zM82 18h2v1h-2zM87 18h1v1h-1zM95 18h1v1h-1zM120 18h1v1h-1zM122 18h2v1h-2zM128 18h1v1h-1zM152 18h1v1h-1zM20 19h2v1h-2zM30 19h1v1h-1zM32 19h1v1h-1zM54 19h1v1h-1zM69 19h1v1h-1zM75 19h1v1h-1zM83 19h2v1h-2zM111 19h1v1h-1zM125 19h2v1h-2zM129 19h1v1h-1zM173 19h1v1h-1zM1 20h1v1h-1zM9 20h1v1h-1zM18 20h1v1h-1zM21 20h2v1h-2zM25 20h1v1h-1zM31 20h2v1h-2zM41 20h1v1h-1zM44 20h1v1h-1zM47 20h2v1h-2zM54 20h1v1h-1zM60 20h1v1h-1zM64 20h1v1h-1zM67 20h1v1h-1zM72 20h1v1h-1zM76 20h1v1h-1zM86 20h1v1h-1zM88 20h1v1h-1zM99 20h1v1h-1zM107 20h1v1h-1zM8 21h1v1h-1zM16 21h1v1h-1zM18 21h3v1h-3zM22 21h1v1h-1zM34 21h1v1h-1zM36 21h1v1h-1zM40 21h1v1h-1zM44 21h1v1h-1zM67 21h2v1h-2zM84 21h1v1h-1zM98 21h1v1h-1zM117 21h1v1h-1zM121 21h1v1h-1zM126 21h1v1h-1zM129 21h1v1h-1zM170 21h1v1h-1zM3 22h1v1h-1zM22 22h2v1h-2zM26 22h1v1h-1zM61 22h1v1h-1zM70 22h1v1h-1zM72 22h1v1h-1zM82 22h1v1h-1zM87 22h1v1h-1zM93 22h1v1h-1zM95 22h2v1h-2zM106 22h2v1h-2zM151 22h1v1h-1zM161 22h1v1h-1zM164 22h1v1h-1zM13 23h1v1h-1zM15 23h1v1h-1zM26 23h1v1h-1zM29 23h1v1h-1zM48 23h1v1h-1zM52 23h1v1h-1zM55 23h3v1h-3zM66 23h1v1h-1zM72 23h3v1h-3zM80 23h1v1h-1zM113 23h1v1h-1zM119 23h2v1h-2zM125 23h1v1h-1zM128 23h1v1h-1zM161 23h1v1h-1zM171 23h1v1h-1zM28 24h1v1h-1zM38 24h1v1h-1zM48 24h1v1h-1zM55 24h1v1h-1zM104 24h1v1h-1zM112 24h1v1h-1zM114 24h2v1h-2zM117 24h1v1h-1zM125 24h1v1h-1zM6 25h1v1h-1zM26 25h1v1h-1zM39 25h1v1h-1zM57 25h2v1h-2zM64 25h1v1h-1zM72 25h1v1h-1zM99 25h1v1h-1zM128 25h1v1h-1zM172 25h1v1h-1zM44 26h2v1h-2zM49 26h3v1h-3zM55 26h1v1h-1zM57 26h1v1h-1zM66 26h1v1h-1zM68 26h1v1h-1zM70 26h1v1h-1zM97 26h1v1h-1zM111 26h1v1h-1zM115 26h1v1h-1zM13 27h1v1h-1zM26 27h2v1h-2zM39 27h1v1h-1zM51 27h1v1h-1zM54 27h1v1h-1zM65 27h1v1h-1zM72 27h1v1h-1zM76 27h1v1h-1zM78 27h1v1h-1zM92 27h1v1h-1zM108 27h1v1h-1zM110 27h1v1h-1zM121 27h1v1h-1zM128 27h1v1h-1zM8 28h1v1h-1zM45 28h1v1h-1zM53 28h1v1h-1zM85 28h1v1h-1zM148 28h1v1h-1zM164 28h1v1h-1zM171 28h1v1h-1zM0 29h2v1h-2zM4 29h1v1h-1zM7 29h1v1h-1zM17 29h1v1h-1zM37 29h1v1h-1zM83 29h1v1h-1zM144 29h2v1h-2zM147 29h2v1h-2zM0 30h1v1h-1zM14 30h1v1h-1zM19 30h2v1h-2zM23 30h1v1h-1zM27 30h1v1h-1zM38 30h2v1h-2zM67 30h2v1h-2zM88 30h1v1h-1zM123 30h1v1h-1zM126 30h1v1h-1zM138 30h1v1h-1zM143 30h2v1h-2zM160 30h2v1h-2zM165 30h1v1h-1zM1 31h2v1h-2zM5 31h1v1h-1zM10 31h1v1h-1zM14 31h1v1h-1zM17 31h1v1h-1zM26 31h1v1h-1zM33 31h1v1h-1zM36 31h1v1h-1zM38 31h1v1h-1zM40 31h1v1h-1zM69 31h1v1h-1zM98 31h1v1h-1zM119 31h1v1h-1zM133 31h1v1h-1zM163 31h1v1h-1zM165 31h1v1h-1zM0 32h1v1h-1zM4 32h1v1h-1zM6 32h1v1h-1zM17 32h1v1h-1zM26 32h2v1h-2zM36 32h2v1h-2zM77 32h1v1h-1zM84 32h2v1h-2zM89 32h1v1h-1zM144 32h1v1h-1zM157 32h1v1h-1zM164 32h1v1h-1zM33 33h1v1h-1zM88 33h1v1h-1zM121 33h1v1h-1zM147 33h1v1h-1zM4 34h1v1h-1zM26 34h1v1h-1zM31 34h3v1h-3zM37 34h2v1h-2zM84 34h1v1h-1zM87 34h1v1h-1zM99 34h1v1h-1zM112 34h1v1h-1zM117 34h1v1h-1zM124 34h1v1h-1zM33 35h1v1h-1zM64 35h1v1h-1zM83 35h1v1h-1zM87 35h1v1h-1zM89 35h1v1h-1zM92 35h1v1h-1zM99 35h1v1h-1zM117 35h1v1h-1zM122 35h1v1h-1zM130 35h2v1h-2zM42 36h1v1h-1zM104 36h1v1h-1zM127 36h1v1h-1zM143 36h1v1h-1zM145 36h1v1h-1zM163 36h1v1h-1zM45 37h1v1h-1zM53 37h1v1h-1zM55 37h1v1h-1zM81 37h1v1h-1zM84 37h1v1h-1zM95 37h1v1h-1zM157 37h1v1h-1zM168 37h1v1h-1zM40 38h1v1h-1zM68 38h1v1h-1zM91 38h1v1h-1zM137 38h1v1h-1zM158 38h1v1h-1zM171 38h4v1h-4zM36 39h1v1h-1zM38 39h2v1h-2zM62 39h1v1h-1zM135 39h1v1h-1zM142 39h1v1h-1zM164 39h1v1h-1zM0 40h3v1h-3zM4 40h1v1h-1zM13 40h2v1h-2zM19 40h1v1h-1zM23 40h1v1h-1zM32 40h1v1h-1zM37 40h3v1h-3zM44 40h1v1h-1zM55 40h1v1h-1zM69 40h1v1h-1zM75 40h1v1h-1zM79 40h1v1h-1zM86 40h2v1h-2zM130 40h1v1h-1zM173 40h1v1h-1zM3 41h1v1h-1zM5 41h1v1h-1zM11 41h1v1h-1zM37 41h1v1h-1zM73 41h1v1h-1zM75 41h1v1h-1zM114 41h2v1h-2zM121 41h1v1h-1zM161 41h1v1h-1zM8 42h1v1h-1zM10 42h2v1h-2zM17 42h1v1h-1zM22 42h1v1h-1zM80 42h1v1h-1zM89 42h1v1h-1zM131 42h1v1h-1zM152 42h1v1h-1zM154 42h1v1h-1zM157 42h1v1h-1zM160 42h2v1h-2zM170 42h1v1h-1zM29 43h1v1h-1zM44 43h1v1h-1zM53 43h1v1h-1zM55 43h1v1h-1zM111 43h1v1h-1zM113 43h1v1h-1zM126 43h1v1h-1zM129 43h1v1h-1zM131 43h1v1h-1zM140 43h1v1h-1zM160 43h1v1h-1zM5 44h1v1h-1zM13 44h1v1h-1zM35 44h1v1h-1zM55 44h1v1h-1zM72 44h2v1h-2zM90 44h1v1h-1zM94 44h2v1h-2zM97 44h1v1h-1zM101 44h1v1h-1zM110 44h1v1h-1zM122 44h1v1h-1zM145 44h1v1h-1zM149 44h1v1h-1zM163 44h1v1h-1zM7 45h1v1h-1zM15 45h1v1h-1zM38 45h1v1h-1zM42 45h1v1h-1zM47 45h2v1h-2zM50 45h1v1h-1zM84 45h1v1h-1zM88 45h2v1h-2zM91 45h1v1h-1zM95 45h1v1h-1zM109 45h2v1h-2zM114 45h2v1h-2zM121 45h1v1h-1zM128 45h1v1h-1zM110 46h2v1h-2zM114 46h2v1h-2zM118 46h1v1h-1zM3 47h1v1h-1zM36 48h1v1h-1zM87 48h1v1h-1zM90 48h1v1h-1zM101 48h1v1h-1zM112 48h1v1h-1z"/>
<path fill="#e29077" d="M108 0h1v1h-1zM150 0h1v1h-1zM172 0h1v1h-1zM138 1h2v1h-2zM145 1h1v1h-1zM167 1h1v1h-1zM134 2h1v1h-1zM155 2h1v1h-1zM158 2h1v1h-1zM160 2h1v1h-1zM167 2h1v1h-1zM169 2h1v1h-1zM148 3h1v1h-1zM158 3h1v1h-1zM159 4h1v1h-1zM167 4h1v1h-1zM170 4h2v1h-2zM138 5h1v1h-1zM156 5h1v1h-1zM3 6h1v1h-1zM144 6h1v1h-1zM165 6h2v1h-2zM10 8h1v1h-1zM139 9h1v1h-1zM172 9h1v1h-1zM134 10h1v1h-1zM139 10h1v1h-1zM158 10h1v1h-1zM162 11h2v1h-2zM146 12h1v1h-1zM27 13h1v1h-1zM30 13h2v1h-2zM42 13h1v1h-1zM77 13h1v1h-1zM81 13h1v1h-1zM91 13h1v1h-1zM172 13h1v1h-1zM8 14h1v1h-1zM11 14h1v1h-1zM21 14h1v1h-1zM30 14h1v1h-1zM36 14h1v1h-1zM43 14h1v1h-1zM62 14h1v1h-1zM81 14h1v1h-1zM99 14h1v1h-1zM103 14h1v1h-1zM124 14h2v1h-2zM28 15h1v1h-1zM32 15h1v1h-1zM35 15h1v1h-1zM40 15h1v1h-1zM56 15h1v1h-1zM65 15h1v1h-1zM73 15h1v1h-1zM78 15h1v1h-1zM82 15h1v1h-1zM87 15h1v1h-1zM111 15h1v1h-1zM119 15h1v1h-1zM122 15h1v1h-1zM33 16h3v1h-3zM42 16h1v1h-1zM44 16h1v1h-1zM48 16h1v1h-1zM53 16h1v1h-1zM89 16h1v1h-1zM92 16h1v1h-1zM111 16h1v1h-1zM115 16h1v1h-1zM129 16h2v1h-2zM0 17h1v1h-1zM40 17h2v1h-2zM45 17h2v1h-2zM59 17h1v1h-1zM64 17h1v1h-1zM66 17h2v1h-2zM73 17h1v1h-1zM88 17h2v1h-2zM120 17h1v1h-1zM126 17h1v1h-1zM129 17h1v1h-1zM16 18h1v1h-1zM19 18h5v1h-5zM51 18h1v1h-1zM53 18h1v1h-1zM56 18h1v1h-1zM63 18h2v1h-2zM68 18h1v1h-1zM84 18h1v1h-1zM90 18h1v1h-1zM117 18h1v1h-1zM5 20h1v1h-1zM10 20h2v1h-2zM14 20h2v1h-2zM17 20h1v1h-1zM23 20h2v1h-2zM33 20h1v1h-1zM51 20h1v1h-1zM53 20h1v1h-1zM57 20h2v1h-2zM62 20h1v1h-1zM65 20h2v1h-2zM71 20h1v1h-1zM75 20h1v1h-1zM83 20h1v1h-1zM174 20h1v1h-1zM5 21h1v1h-1zM9 21h1v1h-1zM25 21h2v1h-2zM35 21h1v1h-1zM42 21h1v1h-1zM70 21h1v1h-1zM27 22h1v1h-1zM29 22h1v1h-1zM44 22h1v1h-1zM62 22h1v1h-1zM66 22h1v1h-1zM68 22h1v1h-1zM73 22h3v1h-3zM84 22h1v1h-1zM94 22h1v1h-1zM31 23h1v1h-1zM33 23h1v1h-1zM41 23h2v1h-2zM45 23h1v1h-1zM51 23h1v1h-1zM82 23h1v1h-1zM105 23h1v1h-1zM112 23h1v1h-1zM117 23h1v1h-1zM122 23h1v1h-1zM126 23h1v1h-1zM39 24h1v1h-1zM43 24h1v1h-1zM64 24h1v1h-1zM20 25h1v1h-1zM27 25h1v1h-1zM54 25h1v1h-1zM124 25h2v1h-2zM42 26h2v1h-2zM52 26h1v1h-1zM58 26h1v1h-1zM65 26h1v1h-1zM98 26h1v1h-1zM100 26h1v1h-1zM116 26h1v1h-1zM28 27h1v1h-1zM38 27h1v1h-1zM45 27h1v1h-1zM49 27h1v1h-1zM53 27h1v1h-1zM61 27h1v1h-1zM64 27h1v1h-1zM70 27h1v1h-1zM88 27h1v1h-1zM106 27h1v1h-1zM117 27h2v1h-2zM6 28h1v1h-1zM83 28h1v1h-1zM147 28h1v1h-1zM158 28h1v1h-1zM165 28h1v1h-1zM13 29h2v1h-2zM84 29h1v1h-1zM89 29h1v1h-1zM164 29h1v1h-1zM169 29h1v1h-1zM171 29h1v1h-1zM11 30h2v1h-2zM36 30h2v1h-2zM47 30h1v1h-1zM140 30h1v1h-1zM159 30h1v1h-1zM162 30h1v1h-1zM7 31h1v1h-1zM13 31h1v1h-1zM15 31h1v1h-1zM34 31h1v1h-1zM39 31h1v1h-1zM84 31h1v1h-1zM159 31h1v1h-1zM1 32h1v1h-1zM83 32h1v1h-1zM158 32h2v1h-2zM161 32h1v1h-1zM163 32h1v1h-1zM169 32h1v1h-1zM35 33h1v1h-1zM145 33h1v1h-1zM157 33h1v1h-1zM171 33h1v1h-1zM122 34h1v1h-1zM156 34h1v1h-1zM128 36h1v1h-1zM54 37h1v1h-1zM75 37h1v1h-1zM85 37h1v1h-1zM96 38h1v1h-1zM0 39h1v1h-1zM171 39h1v1h-1zM16 40h2v1h-2zM80 40h1v1h-1zM10 41h1v1h-1zM1 42h1v1h-1zM6 42h2v1h-2zM21 42h1v1h-1zM25 42h1v1h-1zM119 42h1v1h-1zM172 42h1v1h-1zM52 43h1v1h-1zM54 43h1v1h-1zM112 43h1v1h-1zM130 43h1v1h-1zM7 44h1v1h-1zM74 44h1v1h-1zM93 44h1v1h-1zM123 44h2v1h-2zM126 44h1v1h-1zM146 44h2v1h-2zM86 45h1v1h-1zM69 46h1v1h-1zM117 46h1v1h-1zM119 46h1v1h-1zM124 46h1v1h-1zM131 46h1v1h-1zM33 48h1v1h-1zM37 48h1v1h-1zM77 48h1v1h-1z"/>
<path fill="#db806a" d="M113 0h1v1h-1zM161 3h1v1h-1zM158 4h1v1h-1zM162 5h1v1h-1zM163 6h1v1h-1zM169 6h1v1h-1zM146 9h1v1h-1zM173 9h1v1h-1zM145 10h1v1h-1zM162 10h2v1h-2zM171 11h1v1h-1zM162 12h1v1h-1zM153 13h1v1h-1zM2 14h1v1h-1zM9 14h1v1h-1zM34 14h1v1h-1zM40 14h1v1h-1zM88 14h1v1h-1zM13 15h1v1h-1zM26 15h1v1h-1zM41 15h1v1h-1zM66 15h1v1h-1zM89 15h1v1h-1zM36 16h2v1h-2zM69 16h1v1h-1zM86 16h1v1h-1zM99 16h1v1h-1zM123 16h1v1h-1zM48 17h1v1h-1zM70 17h1v1h-1zM105 17h1v1h-1zM40 18h1v1h-1zM110 18h1v1h-1zM125 18h1v1h-1zM10 19h1v1h-1zM65 19h1v1h-1zM78 20h1v1h-1zM14 21h1v1h-1zM119 21h1v1h-1zM63 22h1v1h-1zM69 22h1v1h-1zM86 22h1v1h-1zM107 23h1v1h-1zM131 23h1v1h-1zM46 24h1v1h-1zM54 24h1v1h-1zM63 24h1v1h-1zM82 26h1v1h-1zM131 26h1v1h-1zM43 27h1v1h-1zM67 27h1v1h-1zM144 28h1v1h-1zM88 29h1v1h-1zM3 30h1v1h-1zM15 30h1v1h-1zM88 31h1v1h-1zM160 31h1v1h-1zM168 31h1v1h-1zM88 32h1v1h-1zM37 33h1v1h-1zM173 33h1v1h-1zM130 34h1v1h-1zM95 38h1v1h-1zM66 39h1v1h-1zM168 39h1v1h-1zM152 40h1v1h-1zM77 41h1v1h-1zM168 41h1v1h-1zM174 41h1v1h-1zM19 42h1v1h-1zM168 42h1v1h-1zM174 45h1v1h-1zM38 46h1v1h-1zM79 46h1v1h-1z"/>
<path fill="#d4715e" d="M168 0h2v1h-2zM135 1h1v1h-1zM141 1h1v1h-1zM144 1h1v1h-1zM159 1h1v1h-1zM141 2h1v1h-1zM154 2h1v1h-1zM145 4h1v1h-1zM168 6h1v1h-1zM172 6h1v1h-1zM135 9h1v1h-1zM148 9h1v1h-1zM168 9h1v1h-1zM160 10h1v1h-1zM169 10h2v1h-2zM173 10h1v1h-1zM158 11h1v1h-1zM160 11h1v1h-1zM169 11h1v1h-1zM172 11h2v1h-2zM143 12h2v1h-2zM159 12h2v1h-2zM166 12h1v1h-1zM168 12h2v1h-2zM171 12h1v1h-1zM2 13h1v1h-1zM11 13h2v1h-2zM20 13h1v1h-1zM22 13h1v1h-1zM83 13h1v1h-1zM14 14h1v1h-1zM17 14h1v1h-1zM25 14h3v1h-3zM37 14h1v1h-1zM79 14h1v1h-1zM111 14h1v1h-1zM5 15h1v1h-1zM9 15h2v1h-2zM12 15h1v1h-1zM15 15h1v1h-1zM18 15h1v1h-1zM25 15h1v1h-1zM27 15h1v1h-1zM38 15h1v1h-1zM42 15h1v1h-1zM59 15h1v1h-1zM68 15h2v1h-2zM71 15h1v1h-1zM81 15h1v1h-1zM109 15h1v1h-1zM117 15h1v1h-1zM121 15h1v1h-1zM123 15h1v1h-1zM0 16h1v1h-1zM6 16h1v1h-1zM11 16h1v1h-1zM20 16h2v1h-2zM26 16h2v1h-2zM39 16h1v1h-1zM51 16h1v1h-1zM67 16h1v1h-1zM83 16h1v1h-1zM88 16h1v1h-1zM91 16h1v1h-1zM93 16h1v1h-1zM98 16h1v1h-1zM108 16h2v1h-2zM173 16h1v1h-1zM3 17h2v1h-2zM26 17h2v1h-2zM32 17h2v1h-2zM35 17h1v1h-1zM43 17h1v1h-1zM47 17h1v1h-1zM69 17h1v1h-1zM119 17h1v1h-1zM121 17h1v1h-1zM4 18h1v1h-1zM32 18h1v1h-1zM37 18h1v1h-1zM42 18h1v1h-1zM48 18h1v1h-1zM69 18h1v1h-1zM73 18h1v1h-1zM75 18h1v1h-1zM109 18h1v1h-1zM115 18h2v1h-2zM2 19h1v1h-1zM12 19h1v1h-1zM15 19h2v1h-2zM22 19h1v1h-1zM41 19h2v1h-2zM55 19h2v1h-2zM67 19h1v1h-1zM2 20h1v1h-1zM4 20h1v1h-1zM6 20h1v1h-1zM13 20h1v1h-1zM19 20h1v1h-1zM29 20h1v1h-1zM34 20h1v1h-1zM38 20h2v1h-2zM63 20h1v1h-1zM79 20h1v1h-1zM13 21h1v1h-1zM15 21h1v1h-1zM4 22h1v1h-1zM38 22h1v1h-1zM43 22h1v1h-1zM77 22h1v1h-1zM79 22h1v1h-1zM88 22h1v1h-1zM173 22h1v1h-1zM44 23h1v1h-1zM49 23h2v1h-2zM84 23h2v1h-2zM94 23h1v1h-1zM101 23h1v1h-1zM108 23h1v1h-1zM110 23h1v1h-1zM114 23h1v1h-1zM123 23h1v1h-1zM44 24h1v1h-1zM53 24h1v1h-1zM65 24h1v1h-1zM120 24h1v1h-1zM123 24h1v1h-1zM126 24h1v1h-1zM70 25h1v1h-1zM122 25h1v1h-1zM32 26h1v1h-1zM128 26h1v1h-1zM35 27h1v1h-1zM47 27h1v1h-1zM63 27h1v1h-1zM114 27h1v1h-1zM122 27h1v1h-1zM124 27h2v1h-2zM136 27h1v1h-1zM145 28h1v1h-1zM159 28h1v1h-1zM172 28h1v1h-1zM163 29h1v1h-1zM174 29h1v1h-1zM13 30h1v1h-1zM17 30h1v1h-1zM98 30h2v1h-2zM163 30h1v1h-1zM172 31h1v1h-1zM174 31h1v1h-1zM168 32h1v1h-1zM171 32h2v1h-2zM168 33h1v1h-1zM170 33h1v1h-1zM172 33h1v1h-1zM174 33h1v1h-1zM131 34h1v1h-1zM153 34h2v1h-2zM96 35h1v1h-1zM149 36h1v1h-1zM161 36h1v1h-1zM97 38h1v1h-1zM3 40h1v1h-1zM9 40h1v1h-1zM76 40h2v1h-2zM83 40h1v1h-1zM84 41h1v1h-1zM89 41h1v1h-1zM152 41h1v1h-1zM3 42h1v1h-1zM171 42h1v1h-1zM91 43h1v1h-1zM76 44h1v1h-1zM83 44h1v1h-1zM168 45h1v1h-1zM26 46h2v1h-2zM33 46h1v1h-1zM39 46h1v1h-1zM51 46h1v1h-1zM76 46h1v1h-1zM93 46h2v1h-2z"/>
<path fill="#cd6251" d="M133 1h2v1h-2zM136 1h1v1h-1zM143 1h1v1h-1zM145 3h1v1h-1zM146 4h1v1h-1zM161 4h1v1h-1zM151 5h1v1h-1zM146 6h1v1h-1zM162 6h1v1h-1zM170 9h1v1h-1zM133 10h1v1h-1zM159 10h1v1h-1zM165 10h1v1h-1zM172 10h1v1h-1zM158 12h1v1h-1zM0 13h1v1h-1zM5 13h1v1h-1zM8 13h3v1h-3zM14 13h2v1h-2zM24 13h1v1h-1zM84 13h1v1h-1zM88 13h2v1h-2zM1 14h1v1h-1zM5 14h3v1h-3zM13 14h1v1h-1zM15 14h1v1h-1zM38 14h1v1h-1zM42 14h1v1h-1zM69 14h1v1h-1zM86 14h1v1h-1zM89 14h2v1h-2zM95 14h1v1h-1zM6 15h1v1h-1zM11 15h1v1h-1zM20 15h1v1h-1zM22 15h1v1h-1zM75 15h1v1h-1zM80 15h1v1h-1zM86 15h1v1h-1zM88 15h1v1h-1zM110 15h1v1h-1zM2 16h1v1h-1zM9 16h2v1h-2zM14 16h2v1h-2zM32 16h1v1h-1zM47 16h1v1h-1zM55 16h2v1h-2zM62 16h1v1h-1zM68 16h1v1h-1zM72 16h1v1h-1zM76 16h1v1h-1zM79 16h3v1h-3zM94 16h2v1h-2zM107 16h1v1h-1zM110 16h1v1h-1zM119 16h1v1h-1zM121 16h1v1h-1zM128 16h1v1h-1zM168 16h1v1h-1zM171 16h1v1h-1zM37 17h1v1h-1zM50 17h1v1h-1zM79 17h1v1h-1zM117 17h1v1h-1zM1 18h1v1h-1zM3 18h1v1h-1zM25 18h1v1h-1zM35 18h1v1h-1zM77 18h2v1h-2zM86 18h1v1h-1zM114 18h1v1h-1zM121 18h1v1h-1zM130 18h2v1h-2zM5 19h1v1h-1zM18 19h1v1h-1zM25 19h1v1h-1zM27 19h1v1h-1zM36 19h2v1h-2zM40 19h1v1h-1zM43 19h1v1h-1zM48 19h1v1h-1zM70 19h1v1h-1zM77 19h1v1h-1zM86 19h1v1h-1zM122 19h1v1h-1zM7 20h1v1h-1zM12 20h1v1h-1zM16 20h1v1h-1zM26 20h2v1h-2zM68 20h1v1h-1zM90 20h1v1h-1zM0 21h3v1h-3zM4 21h1v1h-1zM6 21h2v1h-2zM10 21h3v1h-3zM17 21h1v1h-1zM23 21h1v1h-1zM37 21h2v1h-2zM69 21h1v1h-1zM86 21h1v1h-1zM125 21h1v1h-1zM33 22h1v1h-1zM36 22h1v1h-1zM39 22h2v1h-2zM76 22h1v1h-1zM30 23h1v1h-1zM63 23h2v1h-2zM81 23h1v1h-1zM83 23h1v1h-1zM93 23h1v1h-1zM102 23h1v1h-1zM104 23h1v1h-1zM106 23h1v1h-1zM109 23h1v1h-1zM111 23h1v1h-1zM116 23h1v1h-1zM118 23h1v1h-1zM124 23h1v1h-1zM130 23h1v1h-1zM45 24h1v1h-1zM101 24h1v1h-1zM127 24h1v1h-1zM126 25h1v1h-1zM130 26h1v1h-1zM36 27h1v1h-1zM40 27h1v1h-1zM42 27h1v1h-1zM48 27h1v1h-1zM71 27h1v1h-1zM115 27h1v1h-1zM126 27h2v1h-2zM88 28h1v1h-1zM146 28h1v1h-1zM163 28h1v1h-1zM169 28h1v1h-1zM173 28h1v1h-1zM170 29h1v1h-1zM172 29h2v1h-2zM10 30h1v1h-1zM119 30h1v1h-1zM164 30h1v1h-1zM168 30h3v1h-3zM173 30h2v1h-2zM3 31h1v1h-1zM37 31h1v1h-1zM161 31h1v1h-1zM164 31h1v1h-1zM170 31h1v1h-1zM173 31h1v1h-1zM3 32h1v1h-1zM173 32h1v1h-1zM157 34h1v1h-1zM85 36h1v1h-1zM90 36h1v1h-1zM96 36h2v1h-2zM108 36h1v1h-1zM126 36h1v1h-1zM76 37h1v1h-1zM171 37h1v1h-1zM45 39h1v1h-1zM170 39h1v1h-1zM7 40h2v1h-2zM84 40h1v1h-1zM0 42h1v1h-1zM23 42h1v1h-1zM81 42h1v1h-1zM173 42h2v1h-2zM37 44h1v1h-1zM75 44h1v1h-1zM77 44h1v1h-1zM88 44h1v1h-1zM77 46h1v1h-1zM91 46h1v1h-1zM89 48h1v1h-1z"/>
<path fill="#c6504a" d="M174 10h1v1h-1zM16 13h1v1h-1zM0 14h1v1h-1zM39 14h1v1h-1zM84 14h1v1h-1zM8 15h1v1h-1zM21 15h1v1h-1zM24 15h1v1h-1zM39 15h1v1h-1zM74 15h1v1h-1zM8 16h1v1h-1zM24 16h1v1h-1zM38 16h1v1h-1zM40 16h1v1h-1zM64 16h1v1h-1zM123 17h1v1h-1zM31 18h1v1h-1zM80 18h2v1h-2zM11 19h1v1h-1zM24 19h1v1h-1zM26 19h1v1h-1zM3 20h1v1h-1zM35 20h2v1h-2zM77 20h1v1h-1zM32 22h1v1h-1zM37 22h1v1h-1zM103 23h1v1h-1zM115 23h1v1h-1zM170 28h1v1h-1zM171 30h2v1h-2zM174 32h1v1h-1zM155 34h1v1h-1zM4 42h1v1h-1z"/>
<path fill="#be3f42" d="M132 1h1v1h-1zM168 10h1v1h-1zM174 11h1v1h-1zM6 13h1v1h-1zM13 13h1v1h-1zM3 14h1v1h-1zM83 14h1v1h-1zM0 15h1v1h-1zM14 15h1v1h-1zM37 15h1v1h-1zM77 15h1v1h-1zM1 16h1v1h-1zM13 16h1v1h-1zM18 16h1v1h-1zM77 16h1v1h-1zM39 17h1v1h-1zM26 18h1v1h-1zM36 18h1v1h-1zM79 18h1v1h-1zM88 18h1v1h-1zM13 19h1v1h-1zM23 19h1v1h-1zM59 20h1v1h-1zM3 21h1v1h-1zM31 22h1v1h-1zM100 23h1v1h-1zM168 29h1v1h-1z"/>
<path fill="#b62e3a" d="M147 9h1v1h-1zM168 11h1v1h-1zM172 12h1v1h-1zM1 13h1v1h-1zM3 13h1v1h-1zM19 13h1v1h-1zM21 13h1v1h-1zM23 13h1v1h-1zM86 13h1v1h-1zM4 14h1v1h-1zM19 14h1v1h-1zM1 15h2v1h-2zM7 15h1v1h-1zM16 15h1v1h-1zM36 15h1v1h-1zM4 16h2v1h-2zM7 16h1v1h-1zM12 16h1v1h-1zM22 16h1v1h-1zM25 16h1v1h-1zM36 17h1v1h-1zM38 17h1v1h-1zM122 17h1v1h-1zM27 18h1v1h-1zM0 19h1v1h-1zM17 19h1v1h-1zM38 19h2v1h-2zM37 20h1v1h-1zM34 22h1v1h-1zM41 24h1v1h-1zM46 27h1v1h-1zM123 27h1v1h-1zM168 28h1v1h-1zM174 28h1v1h-1zM170 32h1v1h-1z"/>
<path fill="#af1c33" d="M145 9h1v1h-1zM171 10h1v1h-1zM4 13h1v1h-1zM7 13h1v1h-1zM17 13h1v1h-1zM25 13h1v1h-1zM17 15h1v1h-1zM23 15h1v1h-1zM79 15h1v1h-1zM16 16h2v1h-2zM23 16h1v1h-1zM33 18h1v1h-1zM76 18h1v1h-1zM1 19h1v1h-1zM3 19h2v1h-2zM19 19h1v1h-1zM79 19h1v1h-1zM88 19h1v1h-1zM173 45h1v1h-1z"/>
<path fill="#8c1129" d="M19 15h1v1h-1zM3 16h1v1h-1zM38 18h1v1h-1zM7 19h3v1h-3z"/>
<path fill="#7a0c24" d="M3 15h2v1h-2zM19 16h1v1h-1zM39 18h1v1h-1zM6 19h1v1h-1z"/>
</g></g>
<rect x="373.1" y="13.8" width="154.59" height="49" fill="#e3212e"/>
<rect x="527.69" y="13.8" width="630.25" height="49" fill="#215aa9"/>
<rect x="1157.93" y="13.8" width="255.67" height="49" fill="#dbe04f"/>
<rect x="373.1" y="71.8" width="1040.5" height="105.6" fill="#fcfcfa"/>
<path fill="#231f20" shape-rendering="crispEdges" d="M402.83 71.8H408.77V107H402.83zM563.36 71.8H569.31V107H563.36zM575.25 71.8H581.2V107H575.25zM610.93 71.8H616.87V107H610.93zM634.71 71.8H640.66V107H634.71zM700.11 71.8H723.9V107H700.11zM926.05 71.8H937.94V107H926.05zM1062.8 71.8H1068.75V107H1062.8zM1157.93 71.8H1247.12V107H1157.93zM1253.07 71.8H1259.01V107H1253.07zM1276.85 71.8H1282.79V107H1276.85zM1288.74 71.8H1294.69V107H1288.74zM1300.63 71.8H1306.58V107H1300.63zM1312.52 71.8H1324.41V107H1312.52zM1330.36 71.8H1413.6V107H1330.36zM373.1 107H390.94V142.2H373.1zM408.77 107H480.12V142.2H408.77zM492.01 107H539.58V142.2H492.01zM545.53 107H563.36V142.2H545.53zM581.2 107H599.04V142.2H581.2zM622.82 107H628.77V142.2H622.82zM646.6 107H658.49V142.2H646.6zM723.9 107H729.84V142.2H723.9zM735.79 107H747.68V142.2H735.79zM753.63 107H759.57V142.2H753.63zM777.41 107H783.35V142.2H777.41zM807.14 107H819.03V142.2H807.14zM824.97 107H830.92V142.2H824.97zM836.87 107H884.43V142.2H836.87zM890.38 107H896.32V142.2H890.38zM908.21 107H914.16V142.2H908.21zM937.94 107H943.89V142.2H937.94zM955.78 107H973.62V142.2H955.78zM979.56 107H991.45V142.2H979.56zM997.4 107H1009.29V142.2H997.4zM1015.24 107H1044.97V142.2H1015.24zM1068.75 107H1074.69V142.2H1068.75zM1104.42 107H1128.21V142.2H1104.42zM1134.15 107H1157.93V142.2H1134.15zM1259.01 107H1276.85V142.2H1259.01zM1282.79 107H1288.74V142.2H1282.79zM1306.58 107H1312.52V142.2H1306.58zM1324.41 107H1330.36V142.2H1324.41zM396.88 142.2H402.83V177.4H396.88zM408.77 142.2H414.72V177.4H408.77zM444.45 142.2H456.34V177.4H444.45zM551.47 142.2H563.36V177.4H551.47zM569.31 142.2H575.25V177.4H569.31zM581.2 142.2H593.09V177.4H581.2zM599.04 142.2H610.93V177.4H599.04zM628.77 142.2H634.71V177.4H628.77zM646.6 142.2H652.55V177.4H646.6zM658.49 142.2H688.22V177.4H658.49zM729.84 142.2H807.14V177.4H729.84zM830.92 142.2H836.87V177.4H830.92zM842.81 142.2H848.76V177.4H842.81zM854.7 142.2H860.65V177.4H854.7zM896.32 142.2H902.27V177.4H896.32zM908.21 142.2H914.16V177.4H908.21zM920.11 142.2H926.05V177.4H920.11zM937.94 142.2H961.73V177.4H937.94zM967.67 142.2H973.62V177.4H967.67zM979.56 142.2H985.51V177.4H979.56zM991.45 142.2H997.4V177.4H991.45zM1003.35 142.2H1033.07V177.4H1003.35zM1039.02 142.2H1044.97V177.4H1039.02zM1050.91 142.2H1062.8V177.4H1050.91zM1074.69 142.2H1080.64V177.4H1074.69zM1092.53 142.2H1104.42V177.4H1092.53zM1110.37 142.2H1116.31V177.4H1110.37zM1128.21 142.2H1140.1V177.4H1128.21z"/>
<text transform="translate(329.9 91.4) scale(1.09 1.0)" font-size="27.6" text-anchor="middle" font-weight="bold">H</text>
<text transform="translate(329.9 129.8) scale(1.09 1.0)" font-size="27.6" text-anchor="middle" font-weight="bold">F</text>
<text transform="translate(329.9 167.1) scale(1.09 1.0)" font-size="27.6" text-anchor="middle" font-weight="bold">S</text>
<text transform="translate(-1.2 21.8) scale(1.03 1.0)" font-size="38.5" font-weight="bold">a</text>
<text transform="translate(-0.6 1739.8) scale(1.1 1.0)" font-size="38.5" font-weight="bold">b</text>
<text transform="translate(47.9 166.4) rotate(-90)" font-size="29.2">IGP group</text>
<rect x="77.9" y="43.6" width="59.4" height="23.9" fill="#e3212e" stroke="#231f20" stroke-width="3.6"/>
<text transform="translate(152.3 61)" font-size="28.6">group1</text>
<rect x="77.9" y="91.5" width="59.4" height="23.9" fill="#215aa9" stroke="#231f20" stroke-width="3.6"/>
<text transform="translate(152.3 108.8)" font-size="28.6">group3</text>
<rect x="77.9" y="139.4" width="59.4" height="23.9" fill="#dbe04f" stroke="#231f20" stroke-width="3.6"/>
<text transform="translate(152.3 156.6)" font-size="28.6">group4</text>
<rect x="1413.6" y="228.32" width="17" height="5.2"/>
<text transform="translate(1443.9 241.12) scale(1.032 1.0)" font-size="28.4">B3GNT2</text>
<rect x="1413.6" y="257.77" width="17" height="5.2"/>
<text transform="translate(1443.9 270.57) scale(1.032 1.0)" font-size="28.4">FUCA1</text>
<rect x="1413.6" y="287.22" width="17" height="5.2"/>
<text transform="translate(1443.9 300.02) scale(1.032 1.0)" font-size="28.4">FUCA2</text>
<rect x="1413.6" y="316.67" width="17" height="5.2"/>
<text transform="translate(1443.9 329.47) scale(1.032 1.0)" font-size="28.4">RFT1</text>
<rect x="1413.6" y="346.12" width="17" height="5.2"/>
<text transform="translate(1443.9 358.93) scale(1.032 1.0)" font-size="28.4">ALG8</text>
<rect x="1413.6" y="375.57" width="17" height="5.2"/>
<text transform="translate(1443.9 388.37) scale(1.032 1.0)" font-size="28.4">GNPTAB</text>
<rect x="1413.6" y="405.02" width="17" height="5.2"/>
<text transform="translate(1443.9 417.82) scale(1.032 1.0)" font-size="28.4">ALG13</text>
<rect x="1413.6" y="434.47" width="17" height="5.2"/>
<text transform="translate(1443.9 447.27) scale(1.032 1.0)" font-size="28.4">FUT8</text>
<rect x="1413.6" y="463.92" width="17" height="5.2"/>
<text transform="translate(1443.9 476.72) scale(1.032 1.0)" font-size="28.4">MGAT2</text>
<rect x="1413.6" y="493.37" width="17" height="5.2"/>
<text transform="translate(1443.9 506.17) scale(1.032 1.0)" font-size="28.4">MOGS</text>
<rect x="1413.6" y="522.82" width="17" height="5.2"/>
<text transform="translate(1443.9 535.62) scale(1.032 1.0)" font-size="28.4">DPAGT1</text>
<rect x="1413.6" y="552.27" width="17" height="5.2"/>
<text transform="translate(1443.9 565.08) scale(1.032 1.0)" font-size="28.4">GANAB</text>
<rect x="1413.6" y="581.73" width="17" height="5.2"/>
<text transform="translate(1443.9 594.53) scale(1.032 1.0)" font-size="28.4">PRKCSH</text>
<rect x="1413.6" y="611.17" width="17" height="5.2"/>
<text transform="translate(1443.9 623.98) scale(1.032 1.0)" font-size="28.4">MAN2A1</text>
<rect x="1413.6" y="640.62" width="17" height="5.2"/>
<text transform="translate(1443.9 653.42) scale(1.032 1.0)" font-size="28.4">MAN1A1</text>
<rect x="1413.6" y="670.07" width="17" height="5.2"/>
<text transform="translate(1443.9 682.88) scale(1.032 1.0)" font-size="28.4">ALG5</text>
<rect x="1413.6" y="699.52" width="17" height="5.2"/>
<text transform="translate(1443.9 712.33) scale(1.032 1.0)" font-size="28.4">MGAT1</text>
<rect x="1413.6" y="728.98" width="17" height="5.2"/>
<text transform="translate(1443.9 741.78) scale(1.032 1.0)" font-size="28.4">ALG11</text>
<rect x="1413.6" y="758.42" width="17" height="5.2"/>
<text transform="translate(1443.9 771.22) scale(1.032 1.0)" font-size="28.4">MAN2A2</text>
<rect x="1413.6" y="787.87" width="17" height="5.2"/>
<text transform="translate(1443.9 800.67) scale(1.032 1.0)" font-size="28.4">ALG12</text>
<rect x="1413.6" y="817.32" width="17" height="5.2"/>
<text transform="translate(1443.9 830.12) scale(1.032 1.0)" font-size="28.4">ALG3</text>
<rect x="1413.6" y="846.77" width="17" height="5.2"/>
<text transform="translate(1443.9 859.58) scale(1.032 1.0)" font-size="28.4">DAD1</text>
<rect x="1413.6" y="876.23" width="17" height="5.2"/>
<text transform="translate(1443.9 889.03) scale(1.032 1.0)" font-size="28.4">ALG14</text>
<rect x="1413.6" y="905.67" width="17" height="5.2"/>
<text transform="translate(1443.9 918.47) scale(1.032 1.0)" font-size="28.4">ST3GAL1</text>
<rect x="1413.6" y="935.12" width="17" height="5.2"/>
<text transform="translate(1443.9 947.92) scale(1.032 1.0)" font-size="28.4">ST6GALNAC1</text>
<rect x="1413.6" y="964.57" width="17" height="5.2"/>
<text transform="translate(1443.9 977.38) scale(1.032 1.0)" font-size="28.4">FUT11</text>
<rect x="1413.6" y="994.02" width="17" height="5.2"/>
<text transform="translate(1443.9 1006.83) scale(1.032 1.0)" font-size="28.4">TUSC3</text>
<rect x="1413.6" y="1023.48" width="17" height="5.2"/>
<text transform="translate(1443.9 1036.28) scale(1.032 1.0)" font-size="28.4">MAN2C1</text>
<rect x="1413.6" y="1052.92" width="17" height="5.2"/>
<text transform="translate(1443.9 1065.72) scale(1.032 1.0)" font-size="28.4">UGGT1</text>
<rect x="1413.6" y="1082.38" width="17" height="5.2"/>
<text transform="translate(1443.9 1095.17) scale(1.032 1.0)" font-size="28.4">UGGT2</text>
<rect x="1413.6" y="1111.83" width="17" height="5.2"/>
<text transform="translate(1443.9 1124.62) scale(1.032 1.0)" font-size="28.4">RPN1</text>
<rect x="1413.6" y="1141.28" width="17" height="5.2"/>
<text transform="translate(1443.9 1154.08) scale(1.032 1.0)" font-size="28.4">RPN2</text>
<rect x="1413.6" y="1170.73" width="17" height="5.2"/>
<text transform="translate(1443.9 1183.53) scale(1.032 1.0)" font-size="28.4">DDOST</text>
<rect x="1413.6" y="1200.17" width="17" height="5.2"/>
<text transform="translate(1443.9 1212.97) scale(1.032 1.0)" font-size="28.4">STT3A</text>
<rect x="1413.6" y="1229.62" width="17" height="5.2"/>
<text transform="translate(1443.9 1242.42) scale(1.032 1.0)" font-size="28.4">STT3B</text>
<rect x="1413.6" y="1259.08" width="17" height="5.2"/>
<text transform="translate(1443.9 1271.88) scale(1.032 1.0)" font-size="28.4">ALG9</text>
<rect x="1413.6" y="1288.53" width="17" height="5.2"/>
<text transform="translate(1443.9 1301.33) scale(1.032 1.0)" font-size="28.4">GNPTG</text>
<rect x="1413.6" y="1317.98" width="17" height="5.2"/>
<text transform="translate(1443.9 1330.78) scale(1.032 1.0)" font-size="28.4">ST6GAL1</text>
<rect x="1413.6" y="1347.43" width="17" height="5.2"/>
<text transform="translate(1443.9 1360.23) scale(1.032 1.0)" font-size="28.4">ALG6</text>
<rect x="1413.6" y="1376.88" width="17" height="5.2"/>
<text transform="translate(1443.9 1389.67) scale(1.032 1.0)" font-size="28.4">NEU1</text>
<rect x="1413.6" y="1406.33" width="17" height="5.2"/>
<text transform="translate(1443.9 1419.12) scale(1.032 1.0)" font-size="28.4">ALG2</text>
<rect x="1413.6" y="1435.78" width="17" height="5.2"/>
<text transform="translate(1443.9 1448.58) scale(1.032 1.0)" font-size="28.4">MAN1B1</text>
<rect x="1413.6" y="1465.23" width="17" height="5.2"/>
<text transform="translate(1443.9 1478.03) scale(1.032 1.0)" font-size="28.4">B4GALT1</text>
<rect x="1413.6" y="1494.68" width="17" height="5.2"/>
<text transform="translate(1443.9 1507.48) scale(1.032 1.0)" font-size="28.4">MGAT5</text>
<rect x="1413.6" y="1524.12" width="17" height="5.2"/>
<text transform="translate(1443.9 1536.92) scale(1.032 1.0)" font-size="28.4">ALG1</text>
<rect x="1413.6" y="1553.58" width="17" height="5.2"/>
<text transform="translate(1443.9 1566.38) scale(1.032 1.0)" font-size="28.4">MAN1A2</text>
<rect x="1413.6" y="1583.03" width="17" height="5.2"/>
<text transform="translate(1443.9 1595.83) scale(1.032 1.0)" font-size="28.4">MANEA</text>
<rect x="1413.6" y="1612.48" width="17" height="5.2"/>
<text transform="translate(1443.9 1625.28) scale(1.032 1.0)" font-size="28.4">DPM1</text>
<rect x="1413.6" y="1641.93" width="17" height="5.2"/>
<text transform="translate(1443.9 1654.73) scale(1.032 1.0)" font-size="28.4">DPM3</text>
<path d="M369 260.38H335.6V289.82H369M369 319.27H334.4V348.73H369M335.6 275.1H323.2V334H334.4M369 230.92H316.8V304.55H323.2M369 437.07H338.7V466.52H369M369 407.62H334.4V451.8H338.7M369 378.17H330.8V429.71H334.4M369 554.88H341V584.33H369M369 525.42H331.5V569.6H341M369 495.97H328.7V547.51H331.5M330.8 403.94H310.2V521.74H328.7M316.8 267.74H299V462.84H310.2M369 672.67H337V702.12H369M369 643.22H335.1V687.4H337M369 613.77H328V665.31H335.1M369 731.58H336.5V761.02H369M369 819.92H338V849.38H369M369 790.47H332V834.65H338M336.5 746.3H324V812.56H332M328 639.54H315.6V779.43H324M369 996.62H327V1026.08H369M369 967.17H325.1V1011.35H327M369 937.72H321.6V989.26H325.1M369 908.27H315V963.49H321.6M369 878.83H309V935.88H315M369 1055.52H345.1V1084.97H369M369 1143.88H350.3V1173.33H369M369 1114.42H344.6V1158.6H350.3M345.1 1070.25H328.7V1136.51H344.6M369 1202.77H335.1V1232.22H369M369 1261.67H334.4V1291.12H369M369 1350.03H336.8V1379.47H369M369 1320.58H328.7V1364.75H336.8M334.4 1276.4H321.6V1342.66H328.7M335.1 1217.5H316.8V1309.53H321.6M369 1438.38H335.8V1467.83H369M369 1408.92H333.9V1453.1H335.8M369 1526.72H336.3V1556.17H369M369 1497.28H330.4V1541.45H336.3M333.9 1431.01H323.2V1519.36H330.4M369 1615.08H349.1V1644.53H369M369 1585.62H321.3V1629.8H349.1M323.2 1475.19H315.6V1607.71H321.3M316.8 1263.52H297.8V1541.45H315.6M328.7 1103.38H292.1V1402.48H297.8M309 907.35H271.4V1252.93H292.1M315.6 709.49H220.6V1080.14H271.4M299 365.29H158.5V894.82H220.6" fill="none" stroke="#58595b" stroke-width="1.75"/>
<defs><linearGradient id="cb" x1="0" y1="0" x2="0" y2="1">
<stop offset="0%" stop-color="#69061f"/>
<stop offset="10%" stop-color="#af1c33"/>
<stop offset="20%" stop-color="#cd6251"/>
<stop offset="30%" stop-color="#e99f84"/>
<stop offset="40%" stop-color="#f6d7c6"/>
<stop offset="50%" stop-color="#f6f5f4"/>
<stop offset="60%" stop-color="#cbdfe8"/>
<stop offset="70%" stop-color="#8fc1da"/>
<stop offset="80%" stop-color="#4292c2"/>
<stop offset="90%" stop-color="#1f68aa"/>
<stop offset="100%" stop-color="#163f75"/>
</linearGradient></defs>
<rect x="0" y="459.8" width="200" height="305" fill="#fff"/>
<rect x="53.9" y="471.1" width="40" height="270.7" fill="url(#cb)"/>
<rect x="93.9" y="495.3" width="16" height="5.2"/>
<text transform="translate(121 507.1) scale(1.04 1.0)" font-size="28.6">0.4</text>
<rect x="93.9" y="549.5" width="16" height="5.2"/>
<text transform="translate(121 561.3) scale(1.04 1.0)" font-size="28.6">0.2</text>
<rect x="93.9" y="604" width="16" height="5.2"/>
<text transform="translate(121 615.8) scale(1.04 1.0)" font-size="28.6">0.0</text>
<rect x="93.9" y="658.6" width="16" height="5.2"/>
<text transform="translate(121 670.4) scale(1.04 1.0)" font-size="28.6">−0.2</text>
<rect x="93.9" y="706" width="14.5" height="5.2"/>
<text transform="translate(121 717.8) scale(1.04 1.0)" font-size="28.6">−0.4</text>
<text transform="translate(40.3 600.6) rotate(-90)" font-size="29.4" text-anchor="middle">Correlation</text>
<text transform="translate(285.05 1751.6) scale(1.062 1.0)" font-size="27.9" text-anchor="middle">PRKCSH</text>
<text transform="translate(285.05 1795.1) scale(1.083 1.0)" font-size="23.0" text-anchor="middle"><tspan font-style="italic">p</tspan> = 1.84e-15</text>
<path d="M203.9 1822.5V1810.7H365.9V1822.5" fill="none" stroke="#808285" stroke-width="5.6" stroke-linecap="round" stroke-linejoin="round"/>
<text transform="translate(107.4 1847.5) scale(1.05 1.0)" font-size="28.0" text-anchor="end">0.4</text>
<text transform="translate(107.4 1928.85) scale(1.05 1.0)" font-size="28.0" text-anchor="end">0.3</text>
<text transform="translate(107.4 2010.2) scale(1.05 1.0)" font-size="28.0" text-anchor="end">0.2</text>
<text transform="translate(107.4 2091.55) scale(1.05 1.0)" font-size="28.0" text-anchor="end">0.1</text>
<text transform="translate(107.4 2172.9) scale(1.05 1.0)" font-size="28.0" text-anchor="end">0.0</text>
<text transform="translate(107.4 2254.25) scale(1.05 1.0)" font-size="28.0" text-anchor="end">−0.1</text>
<text transform="translate(107.4 2335.6) scale(1.05 1.0)" font-size="28.0" text-anchor="end">−0.2</text>
<text transform="translate(28.4 2082.95) rotate(-90)" font-size="33.5" text-anchor="middle">Correlation</text>
<path d="M203.9 2073.4V2371.8" stroke="#898b8e" stroke-width="5.6" fill="none"/>
<path d="M171.7 2073.4H236.1M171.7 2371.8H236.1" stroke="#898b8e" stroke-width="5.6" stroke-linecap="round" fill="none"/>
<rect x="139.1" y="2185.8" width="129.6" height="75.7" fill="#52739e" stroke="#898b8e" stroke-width="5.6"/>
<path d="M139.1 2225.8H268.7" stroke="#898b8e" stroke-width="5.6" fill="none"/>
<path d="M365.9 1850.9V2298.8" stroke="#898b8e" stroke-width="5.6" fill="none"/>
<path d="M333.7 1850.9H398.1M333.7 2298.8H398.1" stroke="#898b8e" stroke-width="5.6" stroke-linecap="round" fill="none"/>
<rect x="301.1" y="1996" width="129.6" height="214.1" fill="#c28164" stroke="#898b8e" stroke-width="5.6"/>
<path d="M301.1 2100.3H430.7" stroke="#898b8e" stroke-width="5.6" fill="none"/>
<rect x="123.4" y="1767.5" width="323.3" height="630.3" fill="none" stroke="#231f20" stroke-width="5"/>
<text transform="translate(203.9 2434.4) scale(1.055 1.0)" font-size="28.0" text-anchor="middle">No</text>
<text transform="translate(367.5 2434.4) scale(1.055 1.0)" font-size="28.0" text-anchor="middle">Yes</text>
<text transform="translate(285.05 2477) scale(1.058 1.0)" font-size="28.0" text-anchor="middle">High mannose</text>
<text transform="translate(778.25 1751.6) scale(1.062 1.0)" font-size="27.9" text-anchor="middle">MAN1A1</text>
<text transform="translate(778.25 1795.1) scale(1.083 1.0)" font-size="23.0" text-anchor="middle"><tspan font-style="italic">p</tspan> = 4.93e-17</text>
<path d="M697.3 1819.5V1808.4H858.9V1819.5" fill="none" stroke="#808285" stroke-width="5.6" stroke-linecap="round" stroke-linejoin="round"/>
<text transform="translate(601.7 1840.4) scale(1.05 1.0)" font-size="28.0" text-anchor="end">0.4</text>
<text transform="translate(601.7 1960.75) scale(1.05 1.0)" font-size="28.0" text-anchor="end">0.2</text>
<text transform="translate(601.7 2081.1) scale(1.05 1.0)" font-size="28.0" text-anchor="end">0.0</text>
<text transform="translate(601.7 2201.45) scale(1.05 1.0)" font-size="28.0" text-anchor="end">−0.2</text>
<text transform="translate(601.7 2321.8) scale(1.05 1.0)" font-size="28.0" text-anchor="end">−0.4</text>
<text transform="translate(523.1 2082.95) rotate(-90)" font-size="29.4" text-anchor="middle">Correlation</text>
<path d="M697.3 1848V2105.4" stroke="#898b8e" stroke-width="5.6" fill="none"/>
<path d="M665.1 1848H729.5M665.1 2105.4H729.5" stroke="#898b8e" stroke-width="5.6" stroke-linecap="round" fill="none"/>
<rect x="632.5" y="1934.4" width="129.6" height="78.8" fill="#52739e" stroke="#898b8e" stroke-width="5.6"/>
<path d="M632.5 1974.1H762.1" stroke="#898b8e" stroke-width="5.6" fill="none"/>
<path d="M858.9 1901.1V2371.8" stroke="#898b8e" stroke-width="5.6" fill="none"/>
<path d="M826.7 1901.1H891.1M826.7 2371.8H891.1" stroke="#898b8e" stroke-width="5.6" stroke-linecap="round" fill="none"/>
<rect x="794.1" y="2018.5" width="129.6" height="170.2" fill="#c28164" stroke="#898b8e" stroke-width="5.6"/>
<path d="M794.1 2102.5H923.7" stroke="#898b8e" stroke-width="5.6" fill="none"/>
<rect x="616.6" y="1767.5" width="323.3" height="630.3" fill="none" stroke="#231f20" stroke-width="5"/>
<text transform="translate(697.3 2434.4) scale(1.055 1.0)" font-size="28.0" text-anchor="middle">No</text>
<text transform="translate(860.8 2434.4) scale(1.055 1.0)" font-size="28.0" text-anchor="middle">Yes</text>
<text transform="translate(778.25 2477) scale(1.058 1.0)" font-size="28.0" text-anchor="middle">High mannose</text>
<text transform="translate(1265.3 1751.6) scale(1.062 1.0)" font-size="27.9" text-anchor="middle">FUCA1</text>
<text transform="translate(1265.3 1795.1) scale(1.083 1.0)" font-size="23.0" text-anchor="middle"><tspan font-style="italic">p</tspan> = 4.10e-04</text>
<path d="M1184.3 1821.8V1811.5H1346.4V1821.8" fill="none" stroke="#808285" stroke-width="5.6" stroke-linecap="round" stroke-linejoin="round"/>
<text transform="translate(1087.2 1791.3) scale(1.05 1.0)" font-size="28.0" text-anchor="end">0.5</text>
<text transform="translate(1087.2 1869.76) scale(1.05 1.0)" font-size="28.0" text-anchor="end">0.4</text>
<text transform="translate(1087.2 1948.22) scale(1.05 1.0)" font-size="28.0" text-anchor="end">0.3</text>
<text transform="translate(1087.2 2026.68) scale(1.05 1.0)" font-size="28.0" text-anchor="end">0.2</text>
<text transform="translate(1087.2 2105.14) scale(1.05 1.0)" font-size="28.0" text-anchor="end">0.1</text>
<text transform="translate(1087.2 2183.6) scale(1.05 1.0)" font-size="28.0" text-anchor="end">0.0</text>
<text transform="translate(1087.2 2262.06) scale(1.05 1.0)" font-size="28.0" text-anchor="end">−0.1</text>
<text transform="translate(1087.2 2340.52) scale(1.05 1.0)" font-size="28.0" text-anchor="end">−0.2</text>
<text transform="translate(1008.6 2084.05) rotate(-90)" font-size="29.4" text-anchor="middle">Correlation</text>
<path d="M1184.3 1932.7V2377.8" stroke="#898b8e" stroke-width="5.6" fill="none"/>
<path d="M1152.1 1932.7H1216.5M1152.1 2377.8H1216.5" stroke="#898b8e" stroke-width="5.6" stroke-linecap="round" fill="none"/>
<rect x="1119.5" y="2091.2" width="129.6" height="138.3" fill="#52739e" stroke="#898b8e" stroke-width="5.6"/>
<path d="M1119.5 2169.6H1249.1" stroke="#898b8e" stroke-width="5.6" fill="none"/>
<path d="M1346.4 2042.8V2329.3" stroke="#898b8e" stroke-width="5.6" fill="none"/>
<path d="M1314.2 2042.8H1378.6M1314.2 2329.3H1378.6" stroke="#898b8e" stroke-width="5.6" stroke-linecap="round" fill="none"/>
<rect x="1281.6" y="2154.1" width="129.6" height="114.2" fill="#c28164" stroke="#898b8e" stroke-width="5.6"/>
<path d="M1281.6 2219.5H1411.2" stroke="#898b8e" stroke-width="5.6" fill="none"/>
<rect x="1103.1" y="1767.5" width="324.4" height="632.5" fill="none" stroke="#231f20" stroke-width="5"/>
<text transform="translate(1184.3 2436.3) scale(1.055 1.0)" font-size="28.0" text-anchor="middle">0</text>
<text transform="translate(1346.4 2436.3) scale(1.055 1.0)" font-size="28.0" text-anchor="middle">1</text>
<text transform="translate(1265.3 2478.9) scale(1.058 1.0)" font-size="28.0" text-anchor="middle">Fucosylation</text>
<text transform="translate(1751.6 1751.6) scale(1.062 1.0)" font-size="27.9" text-anchor="middle">ST3GAL1</text>
<text transform="translate(1751.6 1795.1) scale(1.083 1.0)" font-size="23.0" text-anchor="middle"><tspan font-style="italic">p</tspan> = 9.04e-07</text>
<path d="M1670.8 1823V1812.1H1832.7V1823" fill="none" stroke="#808285" stroke-width="5.6" stroke-linecap="round" stroke-linejoin="round"/>
<text transform="translate(1574.5 1856.9) scale(1.05 1.0)" font-size="28.0" text-anchor="end">0.4</text>
<text transform="translate(1574.5 1943.9) scale(1.05 1.0)" font-size="28.0" text-anchor="end">0.3</text>
<text transform="translate(1574.5 2030.9) scale(1.05 1.0)" font-size="28.0" text-anchor="end">0.2</text>
<text transform="translate(1574.5 2117.9) scale(1.05 1.0)" font-size="28.0" text-anchor="end">0.1</text>
<text transform="translate(1574.5 2204.9) scale(1.05 1.0)" font-size="28.0" text-anchor="end">0.0</text>
<text transform="translate(1574.5 2291.9) scale(1.05 1.0)" font-size="28.0" text-anchor="end">−0.1</text>
<text transform="translate(1574.5 2378.9) scale(1.05 1.0)" font-size="28.0" text-anchor="end">−0.2</text>
<text transform="translate(1495.4 2083.05) rotate(-90)" font-size="29.4" text-anchor="middle">Correlation</text>
<path d="M1670.8 1909.9V2372.1" stroke="#898b8e" stroke-width="5.6" fill="none"/>
<path d="M1638.6 1909.9H1703M1638.6 2372.1H1703" stroke="#898b8e" stroke-width="5.6" stroke-linecap="round" fill="none"/>
<rect x="1606" y="2048.8" width="129.6" height="138.5" fill="#52739e" stroke="#898b8e" stroke-width="5.6"/>
<path d="M1606 2125.9H1735.6" stroke="#898b8e" stroke-width="5.6" fill="none"/>
<path d="M1832.7 1852V2232.6" stroke="#898b8e" stroke-width="5.6" fill="none"/>
<path d="M1800.5 1852H1864.9M1800.5 2232.6H1864.9" stroke="#898b8e" stroke-width="5.6" stroke-linecap="round" fill="none"/>
<rect x="1767.9" y="1978" width="129.6" height="132.9" fill="#c28164" stroke="#898b8e" stroke-width="5.6"/>
<path d="M1767.9 2033.1H1897.5" stroke="#898b8e" stroke-width="5.6" fill="none"/>
<rect x="1589.7" y="1767.5" width="323.8" height="630.5" fill="none" stroke="#231f20" stroke-width="5"/>
<text transform="translate(1671.3 2434.4) scale(1.055 1.0)" font-size="28.0" text-anchor="middle">No</text>
<text transform="translate(1834.5 2434.4) scale(1.055 1.0)" font-size="28.0" text-anchor="middle">Yes</text>
<text transform="translate(1751.6 2477) scale(1.058 1.0)" font-size="28.0" text-anchor="middle">Sialic acid</text>
</svg>
</body></html>
